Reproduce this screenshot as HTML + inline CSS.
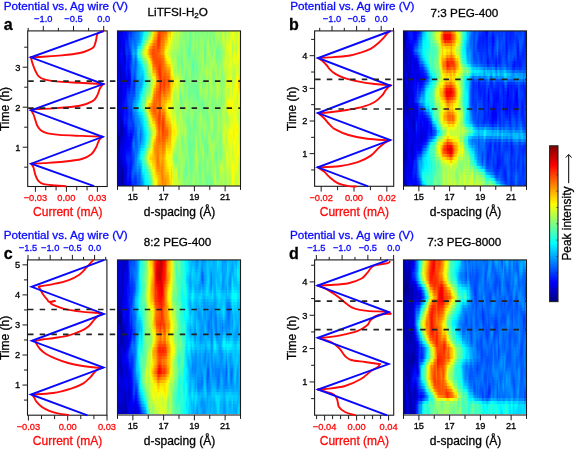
<!DOCTYPE html>
<html><head><meta charset="utf-8"><style>
html,body{margin:0;padding:0;background:#fff;}
#fig{position:relative;width:575px;height:449px;overflow:hidden;background:#fff;font-family:"Liberation Sans",sans-serif;}
.hm{position:absolute;overflow:hidden;}
.hm i{display:block;height:3px;}
svg{position:absolute;left:0;top:0;will-change:transform;}
text{font-family:"Liberation Sans",sans-serif;stroke-width:0.3px;}
</style></head><body><div id="fig">
<div class="hm" style="left:118px;top:31px;width:122px;height:155px"><i style="background:linear-gradient(90deg,#0000cf,#0000c8,#0000dc,#0000d6,#0000f1,#000aff,#0000fc,#0012ff,#0016ff,#0038ff,#002fff,#0039ff,#0058ff,#005bff,#006bff,#0074ff,#0082ff,#0083ff,#00afff,#00b6ff,#00d2ff,#03fffc,#26ffd9,#2cffd3,#3affc5,#78ff87,#76ff89,#a5ff5a,#fffd00,#ffd200,#ffba00,#ffb600,#ff6700,#ff3d00,#ff4d00,#ff5e00,#ff5500,#ff7000,#ff6100,#ff8000,#ffb700,#ffc300,#ffbb00,#fff200,#e3ff1c,#d5ff2a,#c5ff3a,#b6ff49,#c9ff36,#cbff34,#a1ff5e,#a0ff5f,#9aff65,#7bff84,#7cff83,#81ff7e,#a4ff5b,#84ff7b,#6aff95,#70ff8f,#8eff71,#a9ff56,#73ff8c,#75ff8a,#8aff75,#77ff88,#82ff7d,#93ff6c,#7fff80,#7fff80,#95ff6a,#82ff7d,#5effa1,#96ff69,#7fff80,#78ff87,#85ff7a,#76ff89,#a7ff58,#a2ff5d,#b6ff49,#a8ff57,#9dff62,#90ff6f,#c5ff3a,#bdff42,#96ff69,#a3ff5c,#c8ff37,#b3ff4c,#c8ff37,#d8ff27,#f1ff0e,#ffff00,#d0ff2f,#b9ff46,#caff35,#efff10,#dbff24)"></i><i style="background:linear-gradient(90deg,#0000d1,#0000d4,#0000ed,#0000eb,#0000f6,#000eff,#0003ff,#0013ff,#0010ff,#0052ff,#003cff,#0040ff,#0061ff,#005dff,#0075ff,#007cff,#0082ff,#0088ff,#00b0ff,#00bcff,#00e6ff,#10ffef,#33ffcc,#3effc1,#53ffac,#95ff6a,#99ff66,#c4ff3b,#ffed00,#ffc100,#ffa500,#ff9b00,#ff4f00,#ff2d00,#ff4600,#ff6600,#ff6400,#ff7800,#ff8000,#ff8e00,#ffc900,#ffe800,#ffd000,#f8ff07,#dbff24,#c5ff3a,#c6ff39,#b1ff4e,#bcff43,#c1ff3e,#93ff6c,#9aff65,#97ff68,#7eff81,#78ff87,#7fff80,#a8ff57,#7eff81,#63ff9c,#6bff94,#89ff76,#9fff60,#72ff8d,#7bff84,#82ff7d,#74ff8b,#8cff73,#98ff67,#83ff7c,#81ff7e,#93ff6c,#80ff7f,#74ff8b,#9cff63,#74ff8b,#88ff77,#8dff72,#69ff96,#93ff6c,#a3ff5c,#afff50,#a8ff57,#9dff62,#8fff70,#d0ff2f,#c8ff37,#9eff61,#abff54,#cdff32,#b6ff49,#d4ff2b,#dfff20,#e8ff17,#fbff04,#d1ff2e,#c4ff3b,#d2ff2d,#f0ff0f,#d2ff2d)"></i><i style="background:linear-gradient(90deg,#0000d2,#0000df,#0000f1,#0000fa,#0000f1,#0005ff,#0009ff,#0019ff,#000dff,#0061ff,#004aff,#004dff,#0070ff,#005fff,#0077ff,#007fff,#0084ff,#0091ff,#00b1ff,#00c8ff,#00fcff,#1effe1,#4cffb3,#5cffa3,#74ff8b,#b5ff4a,#c3ff3c,#ecff13,#ffd600,#ffaa00,#ff9200,#ff8400,#ff3c00,#ff2700,#ff4600,#ff6f00,#ff6d00,#ff7b00,#ff9a00,#ff9c00,#ffd000,#faff05,#ffeb00,#e6ff19,#d4ff2b,#b4ff4b,#c8ff37,#b3ff4c,#b3ff4c,#b6ff49,#88ff77,#93ff6c,#96ff69,#88ff77,#7aff85,#7fff80,#a3ff5c,#79ff86,#5effa1,#70ff8f,#88ff77,#9cff63,#73ff8c,#88ff77,#87ff78,#71ff8e,#94ff6b,#98ff67,#8cff73,#86ff79,#89ff76,#7eff81,#8aff75,#a2ff5d,#67ff98,#90ff6f,#95ff6a,#64ff9b,#88ff77,#a2ff5d,#a1ff5e,#a0ff5f,#9fff60,#91ff6e,#ceff31,#ccff33,#aaff55,#b7ff48,#d5ff2a,#beff41,#e1ff1e,#e5ff1a,#d9ff26,#f2ff0d,#d5ff2a,#ccff33,#dcff23,#f0ff0f,#cbff34)"></i><i style="background:linear-gradient(90deg,#0000d1,#0000e5,#0000e6,#0000ff,#0000ea,#0000f3,#0011ff,#0023ff,#000fff,#005eff,#0056ff,#005bff,#007eff,#0064ff,#0073ff,#0081ff,#008fff,#00a5ff,#00b9ff,#00dcff,#17ffe8,#36ffc9,#73ff8c,#88ff77,#9cff63,#dcff23,#f8ff07,#ffe300,#ffb200,#ff8c00,#ff7d00,#ff7000,#ff3100,#ff2a00,#ff4c00,#ff7900,#ff7400,#ff7e00,#ffae00,#ffb100,#ffd800,#eaff15,#fbff04,#d6ff29,#ccff33,#a7ff58,#c7ff38,#b5ff4a,#b0ff4f,#adff52,#85ff7a,#8dff72,#93ff6c,#94ff6b,#82ff7d,#7eff81,#97ff68,#72ff8d,#5affa5,#7aff85,#8cff73,#9fff60,#77ff88,#95ff6a,#92ff6d,#70ff8f,#99ff66,#97ff68,#95ff6a,#88ff77,#7cff83,#80ff7f,#9eff61,#a6ff59,#64ff9b,#8eff71,#99ff66,#69ff96,#89ff76,#9fff60,#92ff6d,#93ff6c,#9cff63,#93ff6c,#c3ff3c,#cbff34,#b6ff49,#c4ff3b,#deff21,#c9ff36,#efff10,#eaff15,#c4ff3b,#e2ff1d,#d7ff28,#c9ff36,#e4ff1b,#f0ff0f,#c7ff38)"></i><i style="background:linear-gradient(90deg,#0000cd,#0000e6,#0000d9,#0001ff,#0000e6,#0000e2,#0019ff,#002dff,#0016ff,#004dff,#005cff,#0068ff,#008bff,#006eff,#0070ff,#0086ff,#00acff,#00c5ff,#00d1ff,#00feff,#3effc1,#60ff9f,#a1ff5e,#bcff43,#cdff32,#fff200,#ffcb00,#ffb200,#ff8600,#ff6b00,#ff6b00,#ff6100,#ff3000,#ff3200,#ff5700,#ff8200,#ff7d00,#ff8700,#ffc100,#ffcb00,#ffe600,#e1ff1e,#eaff15,#cbff34,#c4ff3b,#a3ff5c,#c0ff3f,#b3ff4c,#aeff51,#a9ff56,#86ff79,#87ff78,#8bff74,#9bff64,#8dff72,#7cff83,#88ff77,#67ff98,#56ffa9,#84ff7b,#93ff6c,#9fff60,#77ff88,#99ff66,#9aff65,#6eff91,#9cff63,#92ff6d,#99ff66,#85ff7a,#6eff91,#82ff7d,#b1ff4e,#a8ff57,#6cff93,#89ff76,#95ff6a,#79ff86,#91ff6e,#94ff6b,#84ff7b,#84ff7b,#91ff6e,#94ff6b,#b1ff4e,#c5ff3a,#b9ff46,#cfff30,#e2ff1d,#d5ff2a,#fbff04,#ecff13,#b1ff4e,#d0ff2f,#daff25,#baff45,#e4ff1b,#f1ff0e,#c8ff37)"></i><i style="background:linear-gradient(90deg,#0000cb,#0000e4,#0000d6,#0003ff,#0000e5,#0000d5,#001cff,#0033ff,#0021ff,#0037ff,#0057ff,#0071ff,#0097ff,#0082ff,#0076ff,#0094ff,#00dbff,#00f0ff,#00fdff,#2dffd2,#6dff92,#96ff69,#ccff33,#ebff14,#ffff00,#ffc200,#ff9600,#ff8900,#ff5f00,#ff5400,#ff5f00,#ff5800,#ff3a00,#ff4000,#ff6300,#ff8a00,#ff8700,#ff9200,#ffd500,#ffe700,#fffb00,#d9ff26,#dfff20,#c1ff3e,#bbff44,#a2ff5d,#b3ff4c,#aaff55,#a5ff5a,#a5ff5a,#85ff7a,#82ff7d,#80ff7f,#9aff65,#94ff6b,#78ff87,#7cff83,#5affa5,#55ffaa,#8aff75,#97ff68,#98ff67,#72ff8d,#93ff6c,#97ff68,#6dff92,#9aff65,#89ff76,#9bff64,#7eff81,#60ff9f,#84ff7b,#bdff42,#a8ff57,#7dff82,#85ff7a,#88ff77,#8eff71,#9cff63,#84ff7b,#77ff88,#78ff87,#81ff7e,#93ff6c,#9eff61,#bbff44,#b1ff4e,#d5ff2a,#dfff20,#dcff23,#fffe00,#eaff15,#a5ff5a,#c6ff39,#e2ff1d,#aeff51,#e1ff1e,#f4ff0b,#d1ff2e)"></i><i style="background:linear-gradient(90deg,#0000ce,#0000e7,#0000e4,#0007ff,#0000e6,#0000cf,#001bff,#0038ff,#002cff,#0026ff,#004aff,#0076ff,#00a7ff,#009dff,#0086ff,#00a8ff,#0ffff0,#1dffe2,#31ffce,#5effa1,#9aff65,#c6ff39,#e8ff17,#fff500,#ffd900,#ffa400,#ff7500,#ff6e00,#ff4700,#ff4a00,#ff5900,#ff5700,#ff4c00,#ff5200,#ff7100,#ff9000,#ff9200,#ffa000,#ffeb00,#fbff04,#eeff11,#ceff31,#d3ff2c,#b3ff4c,#acff53,#a0ff5f,#a2ff5d,#9dff62,#93ff6c,#a1ff5e,#82ff7d,#7eff81,#7cff83,#99ff66,#98ff67,#75ff8a,#75ff8a,#51ffae,#5affa5,#8cff73,#95ff6a,#8eff71,#6bff94,#8aff75,#8dff72,#71ff8e,#99ff66,#7fff80,#a2ff5d,#7bff84,#55ffaa,#85ff7a,#bfff40,#a8ff57,#8eff71,#87ff78,#7aff85,#a2ff5d,#a5ff5a,#72ff8d,#6eff91,#70ff8f,#75ff8a,#92ff6d,#91ff6e,#aeff51,#a6ff59,#d8ff27,#d6ff29,#dbff24,#fcff03,#e5ff1a,#a8ff57,#cbff34,#f2ff0d,#b2ff4d,#e0ff1f,#f9ff06,#dfff20)"></i><i style="background:linear-gradient(90deg,#0000d8,#0000ee,#0000f7,#000bff,#0000e7,#0000d0,#0013ff,#0038ff,#002eff,#001cff,#0039ff,#006fff,#00b0ff,#00b2ff,#008fff,#00b2ff,#27ffd8,#35ffca,#50ffaf,#79ff86,#b2ff4d,#dbff24,#edff12,#fff100,#ffca00,#ffa100,#ff7300,#ff6600,#ff3e00,#ff4900,#ff5400,#ff5800,#ff5e00,#ff6300,#ff7900,#ff9100,#ff9700,#ffab00,#fff700,#ebff14,#e1ff1e,#c8ff37,#cbff34,#a2ff5d,#9cff63,#9cff63,#97ff68,#93ff6c,#7dff82,#9bff64,#7fff80,#79ff86,#80ff7f,#9aff65,#9aff65,#75ff8a,#77ff88,#50ffaf,#64ff9b,#87ff78,#8cff73,#85ff7a,#67ff98,#85ff7a,#86ff79,#7bff84,#9cff63,#7cff83,#adff52,#7dff82,#51ffae,#87ff78,#b5ff4a,#a5ff5a,#99ff66,#8fff70,#75ff8a,#aeff51,#a9ff56,#68ff97,#6eff91,#6dff92,#72ff8d,#91ff6e,#8eff71,#a7ff58,#a4ff5b,#dcff23,#ceff31,#d5ff2a,#f1ff0e,#e2ff1d,#b5ff4a,#ddff22,#fffa00,#c5ff3a,#e3ff1c,#fcff03,#f1ff0e)"></i><i style="background:linear-gradient(90deg,#0000dd,#0000ed,#0000f9,#0006ff,#0000e4,#0000ce,#0000fd,#002cff,#001fff,#0011ff,#0026ff,#0057ff,#009eff,#00a7ff,#0076ff,#009bff,#06fff9,#1affe5,#35ffca,#5affa5,#93ff6c,#bbff44,#c1ff3e,#e2ff1d,#ffe900,#ffcb00,#ff9700,#ff7b00,#ff4900,#ff4f00,#ff4e00,#ff4e00,#ff5c00,#ff5c00,#ff6500,#ff7900,#ff7d00,#ff9800,#ffde00,#ffff00,#f0ff0f,#daff25,#d9ff26,#a5ff5a,#9dff62,#a4ff5b,#9eff61,#93ff6c,#70ff8f,#96ff69,#80ff7f,#71ff8e,#82ff7d,#9aff65,#9dff62,#7cff83,#7eff81,#58ffa7,#70ff8f,#7dff82,#7cff83,#7eff81,#67ff98,#82ff7d,#85ff7a,#86ff79,#9eff61,#81ff7e,#b7ff48,#80ff7f,#52ffad,#8bff74,#a4ff5b,#9fff60,#9cff63,#9bff64,#7fff80,#b2ff4d,#a8ff57,#69ff96,#76ff89,#6dff92,#76ff89,#90ff6f,#95ff6a,#abff54,#adff52,#dfff20,#c9ff36,#cdff32,#e6ff19,#e1ff1e,#c4ff3b,#f1ff0e,#fff100,#d9ff26,#e6ff19,#fcff03,#fffd00)"></i><i style="background:linear-gradient(90deg,#0000e1,#0000e7,#0000ee,#0002ff,#0000e9,#0000d3,#0000ef,#0023ff,#0012ff,#0012ff,#0025ff,#004cff,#008bff,#0097ff,#005dff,#0086ff,#00d9ff,#00f4ff,#0afff5,#2fffd0,#68ff97,#93ff6c,#8fff70,#b0ff4f,#efff10,#fffa00,#ffc400,#ff9a00,#ff5a00,#ff5500,#ff4b00,#ff4700,#ff5600,#ff5100,#ff5400,#ff6b00,#ff6b00,#ff8800,#ffc300,#ffe400,#fffc00,#eeff11,#eeff11,#b2ff4d,#a8ff57,#afff50,#aaff55,#99ff66,#6cff93,#8dff72,#85ff7a,#65ff9a,#7cff83,#92ff6d,#9eff61,#88ff77,#87ff78,#66ff99,#7dff82,#74ff8b,#69ff96,#75ff8a,#6aff95,#7cff83,#85ff7a,#8cff73,#98ff67,#89ff76,#b7ff48,#82ff7d,#56ffa9,#8fff70,#93ff6c,#96ff69,#9dff62,#a8ff57,#93ff6c,#afff50,#a3ff5c,#76ff89,#82ff7d,#71ff8e,#82ff7d,#8eff71,#9cff63,#b7ff48,#bdff42,#daff25,#caff35,#ccff33,#e1ff1e,#e4ff1b,#ceff31,#f8ff07,#fffb00,#e3ff1c,#e5ff1a,#f6ff09,#fff600)"></i><i style="background:linear-gradient(90deg,#0000e2,#0000df,#0000dc,#0000fa,#0000ed,#0000dd,#0000f0,#001fff,#0009ff,#0019ff,#002fff,#0051ff,#007dff,#0086ff,#0052ff,#007dff,#00b8ff,#00d5ff,#00e4ff,#07fff8,#3cffc3,#6cff93,#66ff99,#83ff7c,#cbff34,#ddff22,#fff300,#ffbc00,#ff7000,#ff5c00,#ff5200,#ff4600,#ff4f00,#ff4300,#ff4800,#ff6200,#ff6300,#ff7d00,#ffa800,#ffc700,#ffe700,#fff600,#fff500,#c8ff37,#bbff44,#b6ff49,#b0ff4f,#a2ff5d,#71ff8e,#80ff7f,#90ff6f,#60ff9f,#70ff8f,#8cff73,#9cff63,#8fff70,#8cff73,#75ff8a,#88ff77,#71ff8e,#58ffa7,#69ff96,#70ff8f,#70ff8f,#81ff7e,#8eff71,#8bff74,#8eff71,#b1ff4e,#84ff7b,#60ff9f,#96ff69,#8dff72,#8eff71,#a0ff5f,#aeff51,#a4ff5b,#a9ff56,#a1ff5e,#8aff75,#8bff74,#79ff86,#92ff6d,#8cff73,#9cff63,#c4ff3b,#cbff34,#ccff33,#cfff30,#d3ff2c,#e3ff1c,#e7ff18,#d0ff2f,#f1ff0e,#e9ff16,#e2ff1d,#dfff20,#eaff15,#fff700)"></i><i style="background:linear-gradient(90deg,#0000e3,#0000d8,#0000ca,#0000f1,#0000ec,#0000e8,#0000fd,#001fff,#0000ff,#001aff,#0036ff,#005cff,#0076ff,#0075ff,#0056ff,#007eff,#00a8ff,#00c3ff,#00ceff,#00edff,#15ffea,#49ffb6,#4cffb3,#67ff98,#b1ff4e,#c6ff39,#e3ff1c,#ffe000,#ff8500,#ff6900,#ff6500,#ff4e00,#ff4b00,#ff3600,#ff3e00,#ff5b00,#ff6500,#ff7500,#ff9200,#ffaa00,#ffcc00,#ffd400,#ffd900,#dfff20,#d0ff2f,#b5ff4a,#a9ff56,#a8ff57,#7bff84,#77ff88,#9eff61,#66ff99,#69ff96,#90ff6f,#98ff67,#8cff73,#8cff73,#81ff7e,#90ff6f,#72ff8d,#50ffaf,#5fffa0,#79ff86,#65ff9a,#79ff86,#91ff6e,#81ff7e,#90ff6f,#abff54,#8bff74,#72ff8d,#a2ff5d,#93ff6c,#8eff71,#a7ff58,#aaff55,#a9ff56,#a1ff5e,#a1ff5e,#9eff61,#89ff76,#83ff7c,#a4ff5b,#91ff6e,#93ff6c,#cbff34,#d3ff2c,#bdff42,#d4ff2b,#dcff23,#e5ff1a,#e6ff19,#ccff33,#e2ff1d,#cbff34,#dfff20,#d6ff29,#dcff23,#fffc00)"></i><i style="background:linear-gradient(90deg,#0000e7,#0000d8,#0000c0,#0000e9,#0000e5,#0000ed,#0009ff,#001eff,#0000f6,#0011ff,#0034ff,#0063ff,#0075ff,#0064ff,#005fff,#0083ff,#00a8ff,#00bbff,#00c8ff,#00dfff,#00f2ff,#29ffd6,#41ffbe,#5cffa3,#9dff62,#bdff42,#c6ff39,#fcff03,#ff9c00,#ff7e00,#ff8100,#ff5c00,#ff4e00,#ff2d00,#ff3500,#ff5500,#ff6d00,#ff6f00,#ff7f00,#ff9200,#ffb000,#ffae00,#ffc300,#f1ff0e,#e0ff1f,#afff50,#9cff63,#a9ff56,#87ff78,#76ff89,#aaff55,#72ff8d,#6aff95,#9cff63,#92ff6d,#7fff80,#8aff75,#8aff75,#95ff6a,#6fff90,#54ffab,#5affa5,#83ff7c,#65ff9a,#74ff8b,#8fff70,#82ff7d,#90ff6f,#a5ff5a,#94ff6b,#89ff76,#b0ff4f,#9fff60,#95ff6a,#b2ff4d,#a3ff5c,#9fff60,#96ff69,#a0ff5f,#abff54,#82ff7d,#8aff75,#b2ff4d,#9bff64,#89ff76,#c9ff36,#cdff32,#b3ff4c,#d6ff29,#e0ff1f,#e0ff1f,#dfff20,#c6ff39,#d0ff2f,#b7ff48,#e0ff1f,#d2ff2d,#d0ff2f,#ffff00)"></i><i style="background:linear-gradient(90deg,#0000ee,#0000df,#0000bc,#0000e3,#0000dc,#0000e7,#0004ff,#001aff,#0000f0,#0001ff,#0029ff,#0064ff,#0077ff,#0054ff,#0065ff,#0089ff,#00b0ff,#00b7ff,#00ccff,#00d6ff,#00d5ff,#0cfff3,#3cffc3,#58ffa7,#89ff76,#b8ff47,#b0ff4f,#e0ff1f,#ffb700,#ffa100,#ff9e00,#ff6b00,#ff5800,#ff2a00,#ff2c00,#ff5400,#ff7400,#ff6700,#ff6f00,#ff7f00,#ff9500,#ff8f00,#ffb600,#feff01,#edff12,#b1ff4e,#95ff6a,#aaff55,#99ff66,#83ff7c,#aeff51,#7fff80,#72ff8d,#a5ff5a,#88ff77,#71ff8e,#8aff75,#8fff70,#98ff67,#6bff94,#5effa1,#5cffa3,#89ff76,#6eff91,#73ff8c,#87ff78,#8bff74,#93ff6c,#9bff64,#98ff67,#97ff68,#b8ff47,#a7ff58,#9cff63,#beff41,#9fff60,#90ff6f,#88ff77,#9aff65,#b3ff4c,#7eff81,#8fff70,#b6ff49,#a1ff5e,#82ff7d,#c1ff3e,#b9ff46,#b3ff4c,#d8ff27,#ddff22,#d9ff26,#d9ff26,#bdff42,#c1ff3e,#aeff51,#e5ff1a,#d8ff27,#d1ff2e,#fffe00)"></i><i style="background:linear-gradient(90deg,#0000f6,#0000ea,#0000bb,#0000df,#0000d8,#0000d9,#0000ef,#0012ff,#0000ef,#0000ee,#0019ff,#0060ff,#0075ff,#0045ff,#0064ff,#008dff,#00b8ff,#00b5ff,#00ceff,#00ccff,#00bfff,#00f6ff,#33ffcc,#4fffb0,#74ff8b,#acff53,#9dff62,#caff35,#ffde00,#ffcf00,#ffbe00,#ff7c00,#ff6900,#ff3200,#ff2300,#ff5300,#ff7200,#ff5900,#ff6100,#ff7200,#ff7e00,#ff7800,#ffaf00,#fff400,#fdff02,#c6ff39,#9cff63,#b5ff4a,#b4ff4b,#98ff67,#adff52,#8cff73,#7eff81,#a4ff5b,#7aff85,#68ff97,#89ff76,#8dff72,#9aff65,#69ff96,#6bff94,#62ff9d,#89ff76,#79ff86,#78ff87,#81ff7e,#95ff6a,#9bff64,#8eff71,#93ff6c,#95ff6a,#b4ff4b,#a8ff57,#9cff63,#c5ff3a,#a4ff5b,#85ff7a,#79ff86,#92ff6d,#b8ff47,#86ff79,#93ff6c,#b1ff4e,#9bff64,#80ff7f,#b2ff4d,#a0ff5f,#baff45,#ddff22,#daff25,#daff25,#ddff22,#b6ff49,#b5ff4a,#aeff51,#ecff13,#e7ff18,#e0ff1f,#fff400)"></i><i style="background:linear-gradient(90deg,#0000fc,#0000f6,#0000bc,#0000da,#0000de,#0000d3,#0000d9,#0008ff,#0000f3,#0000e1,#000dff,#005aff,#006bff,#0034ff,#005cff,#008aff,#00b3ff,#00aeff,#00c3ff,#00bbff,#00b5ff,#00eaff,#24ffdb,#41ffbe,#61ff9e,#98ff67,#8cff73,#b8ff47,#f3ff0c,#ffff00,#ffdf00,#ff9000,#ff8100,#ff4600,#ff2000,#ff5100,#ff6800,#ff4700,#ff5500,#ff6900,#ff6800,#ff6300,#ffa800,#ffe600,#ffe600,#e8ff17,#aeff51,#ccff33,#d3ff2c,#aeff51,#adff52,#9dff62,#8eff71,#9cff63,#6fff90,#66ff99,#88ff77,#85ff7a,#97ff68,#6bff94,#76ff89,#69ff96,#83ff7c,#7cff83,#7eff81,#83ff7c,#9cff63,#a3ff5c,#83ff7c,#87ff78,#87ff78,#a9ff56,#a1ff5e,#92ff6d,#c4ff3b,#abff54,#85ff7a,#6fff90,#8cff73,#b8ff47,#99ff66,#9cff63,#a6ff59,#8fff70,#81ff7e,#9fff60,#92ff6d,#c4ff3b,#e4ff1b,#daff25,#e6ff19,#ebff14,#b5ff4a,#b3ff4c,#b7ff48,#f4ff0b,#f9ff06,#faff05,#ffe300)"></i><i style="background:linear-gradient(90deg,#0000ff,#0000fe,#0000bc,#0000d6,#0000e8,#0000da,#0000ce,#0000fe,#0000f8,#0000dc,#0009ff,#0051ff,#0058ff,#0023ff,#0054ff,#0083ff,#00a2ff,#00a0ff,#00abff,#00a8ff,#00b6ff,#00e7ff,#13ffec,#2fffd0,#4fffb0,#7dff82,#7bff84,#a6ff59,#c7ff38,#daff25,#fffd00,#ffa800,#ff9c00,#ff6700,#ff2800,#ff5100,#ff5d00,#ff3600,#ff4b00,#ff5f00,#ff5400,#ff4c00,#ff9a00,#ffd100,#ffc400,#fff100,#c6ff39,#e8ff17,#edff12,#bfff40,#b1ff4e,#b2ff4d,#9fff60,#93ff6c,#6cff93,#6dff92,#89ff76,#7cff83,#90ff6f,#6eff91,#7aff85,#70ff8f,#7bff84,#77ff88,#7fff80,#86ff79,#a1ff5e,#a5ff5a,#7bff84,#7cff83,#7cff83,#a1ff5e,#9bff64,#85ff7a,#bcff43,#b1ff4e,#8eff71,#6fff90,#89ff76,#b2ff4d,#b2ff4d,#abff54,#9cff63,#85ff7a,#85ff7a,#91ff6e,#94ff6b,#cdff32,#e8ff17,#dbff24,#f2ff0d,#faff05,#b9ff46,#bcff43,#c8ff37,#fbff04,#fffa00,#ffe900,#ffcf00)"></i><i style="background:linear-gradient(90deg,#0000ff,#0002ff,#0000c2,#0000d8,#0000f5,#0000ee,#0000d5,#0000ff,#0007ff,#0000e6,#0013ff,#004aff,#004aff,#001dff,#0056ff,#0086ff,#0097ff,#0099ff,#00a0ff,#00a5ff,#00cbff,#00fbff,#1affe5,#35ffca,#55ffaa,#79ff86,#87ff78,#b6ff49,#c9ff36,#f1ff0e,#ffe700,#ff9a00,#ff9200,#ff6c00,#ff2400,#ff4b00,#ff5800,#ff2d00,#ff5300,#ff6400,#ff5b00,#ff5100,#ffa300,#ffd400,#ffc700,#fff400,#c5ff3a,#e6ff19,#ecff13,#b9ff46,#a6ff59,#b8ff47,#a6ff59,#87ff78,#6eff91,#78ff87,#8aff75,#72ff8d,#85ff7a,#6eff91,#76ff89,#71ff8e,#75ff8a,#6fff90,#78ff87,#85ff7a,#a7ff58,#a2ff5d,#79ff86,#7cff83,#7dff82,#a1ff5e,#9aff65,#7bff84,#b2ff4d,#b6ff49,#99ff66,#78ff87,#88ff77,#a9ff56,#c7ff38,#b9ff46,#98ff67,#84ff7b,#8dff72,#8dff72,#a0ff5f,#d1ff2e,#e4ff1b,#d3ff2c,#f2ff0d,#fffe00,#bdff42,#ceff31,#dbff24,#fffe00,#fff900,#ffd800,#ffc000)"></i><i style="background:linear-gradient(90deg,#0000f9,#0000fc,#0000c8,#0000d7,#0000fb,#0000fc,#0000e3,#0006ff,#0016ff,#0000f7,#0023ff,#0043ff,#003fff,#001fff,#005fff,#0090ff,#0090ff,#009aff,#00a7ff,#00b0ff,#00e3ff,#13ffec,#28ffd7,#45ffba,#5fffa0,#79ff86,#93ff6c,#c7ff38,#dbff24,#ffe100,#ffc400,#ff8600,#ff7d00,#ff6600,#ff2300,#ff4e00,#ff5d00,#ff2d00,#ff6200,#ff6a00,#ff6a00,#ff6200,#ffab00,#ffd700,#ffdc00,#f3ff0c,#bfff40,#d7ff28,#e6ff19,#b1ff4e,#94ff6b,#b4ff4b,#adff52,#80ff7f,#75ff8a,#88ff77,#8bff74,#66ff99,#7aff85,#6bff94,#6fff90,#6eff91,#72ff8d,#6cff93,#69ff96,#81ff7e,#afff50,#9eff61,#81ff7e,#88ff77,#87ff78,#a7ff58,#9cff63,#75ff8a,#abff54,#b9ff46,#9fff60,#84ff7b,#86ff79,#a5ff5a,#d3ff2c,#bcff43,#99ff66,#89ff76,#95ff6a,#92ff6d,#abff54,#d1ff2e,#d7ff28,#c2ff3d,#e6ff19,#faff05,#c0ff3f,#e3ff1c,#ebff14,#ffff00,#fbff04,#ffd600,#ffc100)"></i><i style="background:linear-gradient(90deg,#0000ee,#0000f1,#0000cd,#0000d3,#0000fb,#0000fd,#0000ef,#000eff,#0027ff,#000bff,#0034ff,#0043ff,#003cff,#0029ff,#0068ff,#0099ff,#008fff,#00a3ff,#00bcff,#00c8ff,#00fcff,#28ffd7,#33ffcc,#58ffa7,#6fff90,#7dff82,#96ff69,#d3ff2c,#f3ff0c,#ffb200,#ffa500,#ff7400,#ff6800,#ff5800,#ff2800,#ff5d00,#ff6a00,#ff3700,#ff6e00,#ff7200,#ff7c00,#ff7900,#ffaf00,#ffd800,#fffa00,#d4ff2b,#b7ff48,#c6ff39,#e1ff1e,#b1ff4e,#7dff82,#a4ff5b,#b0ff4f,#7eff81,#7bff84,#93ff6c,#87ff78,#5bffa4,#75ff8a,#6aff95,#6cff93,#6cff93,#71ff8e,#6cff93,#5affa5,#7dff82,#b2ff4d,#9cff63,#8dff72,#98ff67,#92ff6d,#aaff55,#9fff60,#72ff8d,#a7ff58,#b9ff46,#9dff62,#8dff72,#84ff7b,#a9ff56,#d5ff2a,#b1ff4e,#9bff64,#8cff73,#97ff68,#9bff64,#b2ff4d,#cfff30,#c8ff37,#b1ff4e,#d8ff27,#edff12,#c2ff3d,#f4ff0b,#f6ff09,#f6ff09,#e5ff1a,#ffe300,#ffd200)"></i><i style="background:linear-gradient(90deg,#0000e1,#0000e6,#0000d2,#0000cf,#0000fa,#0000f7,#0000f8,#0015ff,#0038ff,#0021ff,#0043ff,#0047ff,#003fff,#003aff,#006fff,#009fff,#0092ff,#00adff,#00d5ff,#00e6ff,#17ffe8,#39ffc6,#3affc5,#6eff91,#88ff77,#8bff74,#99ff66,#e0ff1f,#ffef00,#ff8b00,#ff8f00,#ff6600,#ff5c00,#ff4900,#ff3400,#ff7400,#ff7b00,#ff4c00,#ff7700,#ff7d00,#ff9100,#ff9300,#ffb400,#ffdf00,#e9ff16,#b7ff48,#b1ff4e,#b9ff46,#deff21,#b7ff48,#68ff97,#8bff74,#aeff51,#7dff82,#7cff83,#95ff6a,#81ff7e,#57ffa8,#76ff89,#6fff90,#6eff91,#6dff92,#6eff91,#6bff94,#4fffb0,#7bff84,#a9ff56,#98ff67,#93ff6c,#a1ff5e,#99ff66,#a6ff59,#9eff61,#73ff8c,#a3ff5c,#b2ff4d,#92ff6d,#91ff6e,#83ff7c,#acff53,#cfff30,#a0ff5f,#9dff62,#89ff76,#95ff6a,#a0ff5f,#b1ff4e,#ceff31,#c0ff3f,#afff50,#d6ff29,#e2ff1d,#c6ff39,#fdff02,#fcff03,#edff12,#caff35,#fff800,#ffeb00)"></i><i style="background:linear-gradient(90deg,#0000d8,#0000e0,#0000d5,#0000ce,#0000fd,#0000f4,#0003ff,#001cff,#0043ff,#0037ff,#004eff,#004bff,#0049ff,#0052ff,#0077ff,#00a2ff,#009bff,#00b8ff,#00e8ff,#06fff9,#33ffcc,#48ffb7,#42ffbd,#85ff7a,#a8ff57,#a7ff58,#a7ff58,#f4ff0b,#ffd000,#ff7100,#ff8200,#ff5c00,#ff5e00,#ff4600,#ff4200,#ff8a00,#ff9000,#ff6b00,#ff8300,#ff8c00,#ffaa00,#ffaa00,#ffbe00,#ffef00,#d8ff27,#a6ff59,#b0ff4f,#b2ff4d,#d9ff26,#bbff44,#5dffa2,#70ff8f,#a5ff5a,#80ff7f,#7bff84,#92ff6d,#80ff7f,#5effa1,#7aff85,#7aff85,#75ff8a,#71ff8e,#6cff93,#6cff93,#4fffb0,#79ff86,#96ff69,#8eff71,#8aff75,#9eff61,#9bff64,#9eff61,#98ff67,#79ff86,#9eff61,#a6ff59,#85ff7a,#92ff6d,#84ff7b,#a7ff58,#c3ff3c,#91ff6e,#9dff62,#82ff7d,#90ff6f,#9aff65,#adff52,#d0ff2f,#c5ff3a,#c1ff3e,#e2ff1d,#dfff20,#d0ff2f,#f9ff06,#f9ff06,#e7ff18,#b6ff49,#f7ff08,#fbff04)"></i><i style="background:linear-gradient(90deg,#0000d4,#0000dd,#0000d6,#0000ce,#0003ff,#0000f9,#000fff,#0020ff,#0046ff,#0047ff,#0054ff,#004bff,#0059ff,#0071ff,#0084ff,#00a7ff,#00acff,#00c9ff,#00f8ff,#21ffde,#4effb1,#57ffa8,#50ffaf,#a1ff5e,#caff35,#d2ff2d,#caff35,#ffea00,#ffaf00,#ff6500,#ff7a00,#ff5b00,#ff6900,#ff4d00,#ff4f00,#ff9900,#ffa100,#ff8b00,#ff9600,#ffa200,#ffc600,#ffc000,#ffcc00,#faff05,#d0ff2f,#a2ff5d,#b4ff4b,#aeff51,#cdff32,#b9ff46,#60ff9f,#5cffa3,#99ff66,#88ff77,#7fff80,#93ff6c,#8aff75,#6eff91,#7fff80,#89ff76,#7cff83,#77ff88,#6cff93,#71ff8e,#59ffa6,#76ff89,#82ff7d,#81ff7e,#77ff88,#91ff6e,#9aff65,#93ff6c,#91ff6e,#83ff7c,#99ff66,#9dff62,#7aff85,#93ff6c,#85ff7a,#98ff67,#b5ff4a,#86ff79,#9bff64,#79ff86,#8cff73,#8eff71,#a8ff57,#d6ff29,#d2ff2d,#e0ff1f,#f3ff0c,#e4ff1b,#e1ff1e,#edff12,#eeff11,#e4ff1b,#b1ff4e,#f4ff0b,#f0ff0f)"></i><i style="background:linear-gradient(90deg,#0000d6,#0000d9,#0000d8,#0000d3,#0008ff,#0004ff,#0018ff,#001fff,#0041ff,#004fff,#0055ff,#0049ff,#006eff,#008eff,#0093ff,#00b1ff,#00c3ff,#00e3ff,#07fff8,#36ffc9,#63ff9c,#66ff99,#68ff97,#bdff42,#ebff14,#fff800,#fffe00,#ffc300,#ff9200,#ff5f00,#ff7200,#ff6200,#ff7600,#ff5800,#ff5500,#ffa200,#ffab00,#ffa100,#ffae00,#ffbd00,#ffe200,#ffd800,#ffe100,#e8ff17,#ceff31,#a7ff58,#baff45,#aaff55,#bbff44,#aeff51,#71ff8e,#58ffa7,#8dff72,#92ff6d,#8eff71,#9bff64,#9aff65,#7cff83,#81ff7e,#93ff6c,#80ff7f,#7eff81,#73ff8c,#7cff83,#6aff95,#76ff89,#75ff8a,#79ff86,#66ff99,#7dff82,#99ff66,#8aff75,#8aff75,#91ff6e,#95ff6a,#99ff66,#73ff8c,#93ff6c,#85ff7a,#8aff75,#a8ff57,#7dff82,#99ff66,#72ff8d,#8dff72,#89ff76,#a9ff56,#dcff23,#e0ff1f,#fcff03,#ffff00,#eaff15,#f2ff0d,#dfff20,#e1ff1e,#e1ff1e,#bbff44,#f8ff07,#f6ff09)"></i><i style="background:linear-gradient(90deg,#0000da,#0000d5,#0000dd,#0000dc,#000aff,#000eff,#001bff,#0019ff,#0039ff,#0050ff,#0051ff,#0048ff,#0083ff,#00a2ff,#00a0ff,#00beff,#00dbff,#01fffe,#15ffea,#42ffbd,#6dff92,#77ff88,#87ff78,#d2ff2d,#fff800,#ffc800,#ffc300,#ff9800,#ff7800,#ff5900,#ff6800,#ff6d00,#ff8200,#ff6100,#ff5800,#ffab00,#ffae00,#ffac00,#ffc400,#ffd700,#fffc00,#fff300,#fffc00,#deff21,#cbff34,#abff54,#baff45,#a4ff5b,#a9ff56,#a1ff5e,#8aff75,#64ff9b,#81ff7e,#9bff64,#9fff60,#a5ff5a,#a6ff59,#81ff7e,#82ff7d,#97ff68,#82ff7d,#84ff7b,#7dff82,#86ff79,#7aff85,#78ff87,#74ff8b,#79ff86,#60ff9f,#6dff92,#99ff66,#84ff7b,#86ff79,#9fff60,#93ff6c,#98ff67,#70ff8f,#92ff6d,#85ff7a,#81ff7e,#9eff61,#79ff86,#97ff68,#73ff8c,#98ff67,#93ff6c,#aeff51,#dbff24,#e6ff19,#fff300,#fffc00,#ebff14,#feff01,#d9ff26,#dbff24,#dfff20,#ccff33,#f7ff08,#fffc00)"></i><i style="background:linear-gradient(90deg,#0000db,#0000d4,#0000e4,#0000e7,#0009ff,#0012ff,#0019ff,#0012ff,#0031ff,#004cff,#0047ff,#0044ff,#008eff,#00a5ff,#00a4ff,#00c5ff,#00e5ff,#0ffff0,#18ffe7,#3effc1,#66ff99,#7dff82,#9dff62,#d6ff29,#ffef00,#ffae00,#ff9900,#ff7800,#ff6700,#ff5200,#ff5c00,#ff7400,#ff8c00,#ff6100,#ff5900,#ffb300,#ffaa00,#ffab00,#ffcd00,#ffea00,#f0ff0f,#f6ff09,#e8ff17,#d9ff26,#c6ff39,#abff54,#b9ff46,#a0ff5f,#9dff62,#99ff66,#a2ff5d,#7aff85,#7aff85,#9cff63,#a9ff56,#a7ff58,#a7ff58,#7eff81,#84ff7b,#97ff68,#87ff78,#88ff77,#82ff7d,#88ff77,#83ff7c,#7bff84,#80ff7f,#82ff7d,#63ff9c,#64ff9b,#97ff68,#81ff7e,#80ff7f,#a8ff57,#95ff6a,#96ff69,#71ff8e,#90ff6f,#86ff79,#7fff80,#99ff66,#7dff82,#93ff6c,#79ff86,#a9ff56,#a8ff57,#b3ff4c,#ccff33,#dcff23,#fff400,#fffd00,#e8ff17,#ffff00,#daff25,#dfff20,#ddff22,#d8ff27,#e9ff16,#fff500)"></i><i style="background:linear-gradient(90deg,#0000d3,#0000d3,#0000df,#0000e8,#0000ff,#000bff,#0013ff,#0009ff,#0023ff,#0043ff,#0035ff,#0036ff,#0081ff,#008eff,#0094ff,#00aeff,#00ccff,#00f4ff,#00f8ff,#14ffeb,#35ffca,#5cffa3,#84ff7b,#afff50,#e9ff16,#ffc800,#ffa400,#ff7e00,#ff6b00,#ff5800,#ff5700,#ff7300,#ff8400,#ff4d00,#ff4700,#ffa200,#ff8a00,#ff8e00,#ffb300,#ffdf00,#fdff02,#fcff03,#e5ff1a,#e1ff1e,#c7ff38,#b4ff4b,#c0ff3f,#a2ff5d,#98ff67,#9aff65,#b5ff4a,#94ff6b,#7aff85,#96ff69,#a6ff59,#9bff64,#9dff62,#79ff86,#87ff78,#98ff67,#90ff6f,#88ff77,#7dff82,#80ff7f,#86ff79,#7fff80,#94ff6b,#8fff70,#6bff94,#64ff9b,#92ff6d,#7eff81,#75ff8a,#a6ff59,#99ff66,#95ff6a,#77ff88,#8cff73,#89ff76,#7eff81,#9cff63,#8aff75,#8cff73,#82ff7d,#b7ff48,#baff45,#b3ff4c,#b3ff4c,#c8ff37,#fbff04,#fbff04,#e3ff1c,#f5ff0a,#ddff22,#e9ff16,#dcff23,#d9ff26,#d5ff2a,#fff500)"></i><i style="background:linear-gradient(90deg,#0000d2,#0000d7,#0000d3,#0000e4,#0000f8,#0009ff,#0015ff,#0008ff,#001dff,#0041ff,#002bff,#002dff,#0071ff,#007aff,#0088ff,#0099ff,#00b0ff,#00d3ff,#00dbff,#00efff,#09fff6,#3cffc3,#63ff9c,#88ff77,#bcff43,#ffef00,#ffc400,#ff9900,#ff7900,#ff6800,#ff5b00,#ff6f00,#ff7500,#ff3c00,#ff4100,#ff9200,#ff6a00,#ff7600,#ff9d00,#ffd500,#ffef00,#fff500,#e9ff16,#e3ff1c,#c5ff3a,#c2ff3d,#caff35,#a2ff5d,#92ff6d,#9eff61,#beff41,#a9ff56,#83ff7c,#8eff71,#9bff64,#89ff76,#8eff71,#76ff89,#8bff74,#9dff62,#97ff68,#84ff7b,#71ff8e,#78ff87,#89ff76,#82ff7d,#a5ff5a,#9dff62,#74ff8b,#6cff93,#8aff75,#7bff84,#6aff95,#99ff66,#9cff63,#9aff65,#83ff7c,#88ff77,#8aff75,#7cff83,#a3ff5c,#9bff64,#82ff7d,#8aff75,#bbff44,#c2ff3d,#b0ff4f,#9dff62,#b5ff4a,#e4ff1b,#f0ff0f,#e0ff1f,#e5ff1a,#deff21,#f2ff0d,#daff25,#d4ff2b,#c4ff3b,#fffa00)"></i><i style="background:linear-gradient(90deg,#0000d7,#0000dc,#0000c7,#0000da,#0000f1,#0010ff,#001bff,#000dff,#0021ff,#0045ff,#002cff,#002bff,#0060ff,#006cff,#0081ff,#008dff,#009bff,#00b3ff,#00c7ff,#00daff,#00ebff,#22ffdd,#41ffbe,#65ff9a,#95ff6a,#e6ff19,#ffee00,#ffc200,#ff9000,#ff8300,#ff6c00,#ff6d00,#ff6400,#ff3100,#ff4400,#ff8000,#ff4c00,#ff6200,#ff8e00,#ffc900,#ffd800,#ffe300,#fbff04,#e5ff1a,#c7ff38,#d9ff26,#d6ff29,#a7ff58,#8fff70,#a3ff5c,#bdff42,#b4ff4b,#90ff6f,#8bff74,#91ff6e,#7bff84,#80ff7f,#72ff8d,#8bff74,#a2ff5d,#97ff68,#7cff83,#67ff98,#76ff89,#8dff72,#84ff7b,#abff54,#a7ff58,#80ff7f,#78ff87,#86ff79,#7bff84,#65ff9a,#89ff76,#99ff66,#a5ff5a,#94ff6b,#82ff7d,#86ff79,#7aff85,#a8ff57,#a8ff57,#7dff82,#93ff6c,#b5ff4a,#c0ff3f,#b0ff4f,#95ff6a,#acff53,#ccff33,#e1ff1e,#e2ff1d,#d9ff26,#deff21,#f9ff06,#dbff24,#d2ff2d,#baff45,#fffc00)"></i><i style="background:linear-gradient(90deg,#0000df,#0000e1,#0000c0,#0000c7,#0000ea,#001aff,#001eff,#0010ff,#002cff,#0049ff,#0033ff,#0033ff,#004eff,#0060ff,#007eff,#0088ff,#008fff,#009aff,#00b9ff,#00ceff,#00deff,#12ffed,#23ffdc,#49ffb6,#7eff81,#c3ff3c,#ecff13,#ffea00,#ffaf00,#ffa700,#ff8700,#ff7100,#ff5b00,#ff3000,#ff4f00,#ff6f00,#ff3700,#ff5300,#ff8600,#ffba00,#ffc100,#ffd100,#ffe700,#efff10,#cdff32,#f2ff0d,#e3ff1c,#b2ff4d,#94ff6b,#aaff55,#b5ff4a,#b5ff4a,#9cff63,#90ff6f,#8dff72,#76ff89,#76ff89,#6eff91,#85ff7a,#a3ff5c,#8fff70,#72ff8d,#64ff9b,#7bff84,#8fff70,#87ff78,#a6ff59,#aaff55,#8cff73,#87ff78,#89ff76,#7fff80,#6dff92,#7cff83,#91ff6e,#b3ff4c,#a5ff5a,#7cff83,#7eff81,#78ff87,#a5ff5a,#aeff51,#81ff7e,#9fff60,#aeff51,#bcff43,#b3ff4c,#9eff61,#adff52,#bdff42,#d2ff2d,#e7ff18,#d5ff2a,#e1ff1e,#ffff00,#e2ff1d,#d7ff28,#b9ff46,#fffc00)"></i><i style="background:linear-gradient(90deg,#0000e5,#0000e4,#0000bd,#0000aa,#0000e0,#001bff,#0017ff,#000dff,#0035ff,#0049ff,#003aff,#003eff,#0039ff,#0053ff,#0079ff,#0082ff,#008cff,#008fff,#00acff,#00c2ff,#00d5ff,#06fff9,#0efff1,#35ffca,#73ff8c,#a5ff5a,#cfff30,#f3ff0c,#ffd300,#ffce00,#ffa500,#ff7e00,#ff5e00,#ff3300,#ff5b00,#ff6300,#ff2e00,#ff4d00,#ff7f00,#ffa800,#ffaa00,#ffc000,#ffca00,#fffb00,#d8ff27,#fffc00,#edff12,#c4ff3b,#a0ff5f,#b5ff4a,#abff54,#b4ff4b,#a6ff59,#95ff6a,#91ff6e,#7eff81,#73ff8c,#6dff92,#79ff86,#9aff65,#87ff78,#6aff95,#66ff99,#81ff7e,#8dff72,#8cff73,#9cff63,#a4ff5b,#93ff6c,#95ff6a,#91ff6e,#86ff79,#7cff83,#76ff89,#88ff77,#bcff43,#b0ff4f,#77ff88,#78ff87,#79ff86,#9eff61,#aeff51,#8aff75,#a5ff5a,#abff54,#beff41,#baff45,#b1ff4e,#b4ff4b,#b9ff46,#cbff34,#eaff15,#dbff24,#eaff15,#fff800,#eeff11,#e6ff19,#c2ff3d,#fffe00)"></i><i style="background:linear-gradient(90deg,#0000e7,#0000e2,#0000b9,#00008f,#0000d3,#000bff,#0003ff,#0005ff,#0034ff,#0044ff,#0039ff,#0043ff,#0026ff,#0047ff,#006eff,#0078ff,#008eff,#0093ff,#009bff,#00b2ff,#00c9ff,#00faff,#00ffff,#29ffd6,#68ff97,#87ff78,#b3ff4c,#d8ff27,#fff900,#fff500,#ffc100,#ff9100,#ff6c00,#ff3800,#ff6600,#ff5e00,#ff2c00,#ff4d00,#ff7600,#ff8f00,#ff9400,#ffb400,#ffb400,#ffe300,#e5ff1a,#fff600,#f9ff06,#d6ff29,#acff53,#c1ff3e,#a4ff5b,#b4ff4b,#aeff51,#98ff67,#9fff60,#8eff71,#75ff8a,#71ff8e,#6cff93,#8cff73,#81ff7e,#67ff98,#6bff94,#81ff7e,#84ff7b,#91ff6e,#95ff6a,#99ff66,#91ff6e,#9dff62,#9aff65,#8bff74,#8bff74,#75ff8a,#83ff7c,#bdff42,#b0ff4f,#77ff88,#79ff86,#7cff83,#99ff66,#aeff51,#92ff6d,#a2ff5d,#abff54,#c7ff38,#c2ff3d,#c4ff3b,#beff41,#c2ff3d,#d2ff2d,#ecff13,#e4ff1b,#f8ff07,#fff400,#f8ff07,#fbff04,#d1ff2e,#f8ff07)"></i><i style="background:linear-gradient(90deg,#0000e4,#0000d7,#0000b5,#000083,#0000c9,#0000f2,#0000e9,#0000fb,#0029ff,#003bff,#002bff,#0039ff,#001aff,#0041ff,#005eff,#006cff,#0091ff,#009cff,#008aff,#00a0ff,#00bbff,#00edff,#00f5ff,#1dffe2,#54ffab,#67ff98,#95ff6a,#c2ff3d,#e3ff1c,#e5ff1a,#ffd900,#ffa600,#ff7f00,#ff3e00,#ff7300,#ff6100,#ff2c00,#ff5100,#ff6a00,#ff7300,#ff7f00,#ffab00,#ffa600,#ffd100,#f3ff0c,#fff000,#fff800,#e5ff1a,#b3ff4c,#caff35,#a0ff5f,#b4ff4b,#b1ff4e,#9aff65,#b4ff4b,#9bff64,#79ff86,#77ff88,#63ff9c,#80ff7f,#7fff80,#6aff95,#75ff8a,#7eff81,#7aff85,#93ff6c,#95ff6a,#8fff70,#85ff7a,#a1ff5e,#9fff60,#88ff77,#90ff6f,#7bff84,#84ff7b,#b5ff4a,#a5ff5a,#7aff85,#7eff81,#7dff82,#9bff64,#adff52,#93ff6c,#9bff64,#acff53,#d7ff28,#c8ff37,#ccff33,#c8ff37,#d5ff2a,#e5ff1a,#f0ff0f,#ebff14,#fff800,#fff500,#fcff03,#fff400,#deff21,#ebff14)"></i><i style="background:linear-gradient(90deg,#0000d6,#0000c2,#0000b4,#00008b,#0000c6,#0000de,#0000d7,#0000f6,#001bff,#002dff,#0014ff,#0020ff,#0017ff,#0042ff,#004eff,#0063ff,#0091ff,#009fff,#0077ff,#0090ff,#00adff,#00ddff,#00e9ff,#09fff6,#3affc5,#47ffb8,#77ff88,#aeff51,#cbff34,#ccff33,#fff100,#ffb400,#ff9300,#ff4c00,#ff8000,#ff6a00,#ff3000,#ff5500,#ff5e00,#ff5e00,#ff6b00,#ffa400,#ff9c00,#ffc800,#fffd00,#ffe400,#ffec00,#edff12,#b6ff49,#cfff30,#9fff60,#b0ff4f,#acff53,#9fff60,#c5ff3a,#9cff63,#79ff86,#7cff83,#63ff9c,#7cff83,#7eff81,#6cff93,#85ff7a,#7eff81,#77ff88,#8fff70,#9bff64,#8aff75,#75ff8a,#a1ff5e,#a0ff5f,#80ff7f,#8dff72,#8aff75,#89ff76,#a5ff5a,#92ff6d,#7dff82,#81ff7e,#7eff81,#a2ff5d,#aaff55,#8cff73,#93ff6c,#adff52,#e9ff16,#c6ff39,#c7ff38,#cfff30,#e7ff18,#fcff03,#faff05,#edff12,#ffef00,#fffb00,#f9ff06,#fff300,#e1ff1e,#dbff24)"></i><i style="background:linear-gradient(90deg,#0000c2,#0000a9,#0000b5,#0000a1,#0000cc,#0000d8,#0000d5,#0000f6,#000eff,#001cff,#0003ff,#000cff,#0021ff,#004dff,#0045ff,#0061ff,#0090ff,#009bff,#0069ff,#0088ff,#00a8ff,#00d2ff,#00e3ff,#00faff,#30ffcf,#3bffc4,#6fff90,#afff50,#d2ff2d,#d8ff27,#fff100,#ffa600,#ff9300,#ff5400,#ff8000,#ff7000,#ff3900,#ff5b00,#ff5b00,#ff6100,#ff6a00,#ffaa00,#ff9d00,#ffd200,#fffe00,#ffe200,#fff500,#e4ff1b,#aeff51,#cbff34,#9dff62,#a2ff5d,#99ff66,#a0ff5f,#c8ff37,#92ff6d,#76ff89,#7bff84,#68ff97,#7fff80,#7dff82,#6aff95,#94ff6b,#87ff78,#7cff83,#84ff7b,#a1ff5e,#8aff75,#68ff97,#9cff63,#98ff67,#77ff88,#86ff79,#9cff63,#90ff6f,#93ff6c,#83ff7c,#81ff7e,#81ff7e,#82ff7d,#a4ff5b,#a1ff5e,#7fff80,#8eff71,#aeff51,#f7ff08,#c0ff3f,#bcff43,#d2ff2d,#efff10,#fff400,#fffa00,#ecff13,#ffee00,#faff05,#f3ff0c,#fffe00,#dbff24,#cdff32)"></i><i style="background:linear-gradient(90deg,#0000ae,#000095,#0000ba,#0000b7,#0000d5,#0000dd,#0000e2,#0000f9,#0003ff,#000dff,#0000fe,#0007ff,#0038ff,#005eff,#0043ff,#005fff,#008cff,#0097ff,#0064ff,#008eff,#00acff,#00ccff,#00e4ff,#00fcff,#3bffc4,#45ffba,#7bff84,#c1ff3e,#efff10,#fffb00,#ffd700,#ff8800,#ff8200,#ff5600,#ff7500,#ff7000,#ff4700,#ff6300,#ff6300,#ff7c00,#ff7a00,#ffb600,#ffa400,#ffe500,#f3ff0c,#ffed00,#edff12,#cdff32,#9dff62,#c1ff3e,#9fff60,#90ff6f,#81ff7e,#98ff67,#bdff42,#8aff75,#75ff8a,#74ff8b,#6dff92,#7eff81,#7bff84,#64ff9b,#99ff66,#97ff68,#84ff7b,#76ff89,#a7ff58,#8fff70,#66ff99,#8eff71,#89ff76,#71ff8e,#80ff7f,#abff54,#99ff66,#89ff76,#7fff80,#88ff77,#85ff7a,#8aff75,#9eff61,#96ff69,#73ff8c,#8dff72,#aeff51,#fdff02,#bdff42,#b2ff4d,#d0ff2f,#edff12,#fff500,#fff500,#ebff14,#fff200,#f5ff0a,#eeff11,#f8ff07,#d6ff29,#c3ff3c)"></i><i style="background:linear-gradient(90deg,#0000a1,#00008a,#0000c3,#0000c3,#0000da,#0000e2,#0000ef,#0000f9,#0000fa,#0003ff,#0004ff,#0012ff,#0054ff,#0071ff,#0043ff,#005cff,#0083ff,#0095ff,#006aff,#009bff,#00b2ff,#00c8ff,#00e8ff,#0afff5,#4bffb4,#52ffad,#88ff77,#ceff31,#fff900,#ffd100,#ffbc00,#ff7a00,#ff7900,#ff5f00,#ff7300,#ff7200,#ff5800,#ff6a00,#ff6d00,#ff9b00,#ff8e00,#ffbc00,#ffa800,#ffed00,#efff10,#fffa00,#d3ff2c,#baff45,#8dff72,#b8ff47,#a9ff56,#88ff77,#72ff8d,#8eff71,#aeff51,#8bff74,#79ff86,#69ff96,#6cff93,#74ff8b,#77ff88,#5fffa0,#93ff6c,#a5ff5a,#87ff78,#6eff91,#aaff55,#94ff6b,#72ff8d,#7bff84,#76ff89,#71ff8e,#7aff85,#aeff51,#a4ff5b,#8dff72,#88ff77,#93ff6c,#8dff72,#92ff6d,#93ff6c,#8fff70,#6fff90,#90ff6f,#abff54,#f7ff08,#beff41,#aeff51,#cdff32,#e5ff1a,#fdff02,#fffa00,#e5ff1a,#fffb00,#f8ff07,#ebff14,#f8ff07,#d9ff26,#c0ff3f)"></i><i style="background:linear-gradient(90deg,#000099,#00008c,#0000d0,#0000c8,#0000db,#0000e5,#0000f8,#0000fa,#0000f7,#0002ff,#000aff,#0021ff,#0066ff,#007fff,#004aff,#005bff,#007bff,#0096ff,#007fff,#00b2ff,#00bcff,#00d0ff,#00f3ff,#22ffdd,#5dffa2,#65ff9a,#96ff69,#d6ff29,#ffee00,#ffb300,#ffa600,#ff8100,#ff7c00,#ff7200,#ff7f00,#ff7d00,#ff6b00,#ff7700,#ff7d00,#ffbc00,#ffa800,#ffc500,#ffb800,#fff000,#edff12,#f2ff0d,#bfff40,#abff54,#82ff7d,#acff53,#b1ff4e,#8aff75,#6dff92,#83ff7c,#a3ff5c,#93ff6c,#81ff7e,#5dffa2,#69ff96,#67ff98,#75ff8a,#61ff9e,#89ff76,#adff52,#85ff7a,#6dff92,#a9ff56,#95ff6a,#86ff79,#72ff8d,#67ff98,#73ff8c,#6eff91,#a6ff59,#adff52,#99ff66,#96ff69,#9fff60,#96ff69,#95ff6a,#8bff74,#8fff70,#72ff8d,#92ff6d,#a2ff5d,#e7ff18,#c1ff3e,#b0ff4f,#cbff34,#dcff23,#eeff11,#fbff04,#daff25,#f9ff06,#ffff00,#e5ff1a,#fdff02,#e6ff19,#c4ff3b)"></i><i style="background:linear-gradient(90deg,#000097,#000097,#0000df,#0000cc,#0000dd,#0000e9,#0000fb,#0000fe,#0000f9,#0008ff,#000cff,#002aff,#0066ff,#0080ff,#0058ff,#0060ff,#0077ff,#0098ff,#009fff,#00cdff,#00cdff,#00e7ff,#08fff7,#3effc1,#76ff89,#85ff7a,#b0ff4f,#e2ff1d,#ffe600,#ffa100,#ff9400,#ff8900,#ff7e00,#ff8200,#ff8d00,#ff8900,#ff7500,#ff8000,#ff8d00,#ffd500,#ffbf00,#ffcf00,#ffcd00,#fff100,#e9ff16,#dcff23,#b1ff4e,#a1ff5e,#80ff7f,#a0ff5f,#b4ff4b,#95ff6a,#72ff8d,#7cff83,#9cff63,#97ff68,#87ff78,#56ffa9,#69ff96,#63ff9c,#74ff8b,#69ff96,#82ff7d,#b0ff4f,#83ff7c,#70ff8f,#a1ff5e,#90ff6f,#9bff64,#7cff83,#5fffa0,#73ff8c,#60ff9f,#95ff6a,#adff52,#a2ff5d,#a4ff5b,#a6ff59,#97ff68,#8cff73,#88ff77,#91ff6e,#76ff89,#8fff70,#96ff69,#d4ff2b,#beff41,#b8ff47,#ceff31,#d1ff2e,#e2ff1d,#f3ff0c,#ceff31,#f2ff0d,#fff800,#ddff22,#ffff00,#f7ff08,#cfff30)"></i><i style="background:linear-gradient(90deg,#00009b,#0000a7,#0000e8,#0000d4,#0000e0,#0000f1,#0000fc,#0008ff,#0000ff,#0012ff,#000cff,#002eff,#0057ff,#0074ff,#0067ff,#0067ff,#007dff,#009fff,#00c0ff,#00e7ff,#00e5ff,#0afff5,#25ffda,#5affa5,#95ff6a,#b2ff4d,#d8ff27,#f4ff0b,#ffdd00,#ffa000,#ff8a00,#ff8b00,#ff7900,#ff8c00,#ff9700,#ff9400,#ff7b00,#ff8900,#ff9e00,#ffe700,#ffd800,#ffd900,#ffdf00,#fff100,#dcff23,#c0ff3f,#a6ff59,#9aff65,#87ff78,#9aff65,#b1ff4e,#9fff60,#7bff84,#7bff84,#98ff67,#96ff69,#8bff74,#58ffa7,#6dff92,#67ff98,#75ff8a,#73ff8c,#84ff7b,#b3ff4c,#86ff79,#73ff8c,#96ff69,#87ff78,#aaff55,#91ff6e,#5dffa2,#73ff8c,#57ffa8,#87ff78,#a5ff5a,#a1ff5e,#aeff51,#a2ff5d,#8bff74,#7bff84,#86ff79,#92ff6d,#77ff88,#85ff7a,#8fff70,#c4ff3b,#b5ff4a,#c4ff3b,#d7ff28,#c8ff37,#dbff24,#f3ff0c,#c7ff38,#ecff13,#fffa00,#dbff24,#ffff00,#fffd00,#e0ff1f)"></i><i style="background:linear-gradient(90deg,#0000a5,#0000b5,#0000e7,#0000de,#0000e5,#0000f8,#0001ff,#0016ff,#000cff,#001eff,#0010ff,#0031ff,#0048ff,#0060ff,#0072ff,#006eff,#008bff,#00aeff,#00ddff,#00fdff,#03fffc,#2dffd2,#44ffbb,#75ff8a,#b6ff49,#dfff20,#fffa00,#fff500,#ffd400,#ffaa00,#ff8c00,#ff8c00,#ff7100,#ff9100,#ff9e00,#ff9f00,#ff8100,#ff9400,#ffb000,#fff400,#fff200,#ffe500,#ffec00,#fff700,#caff35,#a3ff5c,#9cff63,#91ff6e,#8fff70,#9aff65,#abff54,#a5ff5a,#89ff76,#81ff7e,#93ff6c,#92ff6d,#8cff73,#64ff9b,#6eff91,#6dff92,#76ff89,#78ff87,#8fff70,#b6ff49,#8eff71,#78ff87,#8aff75,#80ff7f,#adff52,#a1ff5e,#63ff9c,#76ff89,#5cffa3,#82ff7d,#9bff64,#9bff64,#b5ff4a,#96ff69,#7bff84,#6aff95,#84ff7b,#92ff6d,#75ff8a,#7dff82,#8fff70,#b9ff46,#aaff55,#cfff30,#e3ff1c,#c3ff3c,#d8ff27,#f9ff06,#c5ff3a,#e7ff18,#f6ff09,#e2ff1d,#fffd00,#fdff02,#efff10)"></i><i style="background:linear-gradient(90deg,#0000b0,#0000bc,#0000e1,#0000e4,#0000ea,#0000fc,#0006ff,#0024ff,#001bff,#002bff,#001bff,#0032ff,#0042ff,#0052ff,#007aff,#0078ff,#00a1ff,#00c0ff,#00efff,#09fff6,#21ffde,#48ffb7,#5fffa0,#8eff71,#ceff31,#feff01,#ffd900,#ffe200,#ffca00,#ffb600,#ff9600,#ff8e00,#ff6c00,#ff9200,#ffa800,#ffa900,#ff8d00,#ffa400,#ffc300,#fffa00,#f3ff0c,#fff700,#fffa00,#faff05,#b9ff46,#8dff72,#92ff6d,#85ff7a,#91ff6e,#9bff64,#a4ff5b,#a5ff5a,#96ff69,#8dff72,#8fff70,#8bff74,#8cff73,#75ff8a,#67ff98,#6dff92,#76ff89,#77ff88,#9cff63,#b8ff47,#9bff64,#7fff80,#81ff7e,#7eff81,#a5ff5a,#a0ff5f,#6fff90,#7cff83,#70ff8f,#87ff78,#91ff6e,#97ff68,#b9ff46,#8bff74,#75ff8a,#61ff9e,#85ff7a,#94ff6b,#72ff8d,#82ff7d,#98ff67,#afff50,#a0ff5f,#d4ff2b,#eeff11,#c4ff3b,#d8ff27,#fcff03,#c6ff39,#e4ff1b,#e3ff1c,#f0ff0f,#fff900,#edff12,#f5ff0a)"></i><i style="background:linear-gradient(90deg,#0000b8,#0000bc,#0000d6,#0000e1,#0000e9,#0000f9,#0007ff,#0029ff,#0029ff,#0032ff,#0022ff,#002dff,#0042ff,#004fff,#0080ff,#0085ff,#00b4ff,#00c7ff,#00f2ff,#07fff8,#3affc5,#59ffa6,#6cff93,#9fff60,#d7ff28,#fff600,#ffcd00,#ffd400,#ffbb00,#ffba00,#ff9f00,#ff8c00,#ff6900,#ff8e00,#ffb100,#ffac00,#ff9800,#ffb200,#ffce00,#fff800,#e7ff18,#f7ff08,#f4ff0b,#eeff11,#b6ff49,#87ff78,#87ff78,#7aff85,#90ff6f,#96ff69,#9bff64,#a4ff5b,#9eff61,#98ff67,#89ff76,#82ff7d,#8bff74,#85ff7a,#5cffa3,#6bff94,#75ff8a,#74ff8b,#a2ff5d,#b5ff4a,#a7ff58,#85ff7a,#7aff85,#7eff81,#99ff66,#8fff70,#7aff85,#80ff7f,#88ff77,#8fff70,#87ff78,#96ff69,#baff45,#88ff77,#7eff81,#64ff9b,#8cff73,#97ff68,#75ff8a,#96ff69,#a5ff5a,#a7ff58,#9aff65,#d3ff2c,#f3ff0c,#c8ff37,#d7ff28,#f7ff08,#ceff31,#e5ff1a,#d3ff2c,#ffff00,#fff800,#d6ff29,#f1ff0e)"></i><i style="background:linear-gradient(90deg,#0000bd,#0000b8,#0000c5,#0000d1,#0000dd,#0000ed,#0000fa,#0018ff,#002bff,#0029ff,#001cff,#001fff,#003eff,#0052ff,#007bff,#0089ff,#00b5ff,#00b3ff,#00d5ff,#00e8ff,#35ffca,#49ffb6,#53ffac,#8aff75,#b8ff47,#e9ff16,#ffec00,#ffe500,#ffc000,#ffc500,#ffad00,#ff8a00,#ff6b00,#ff8600,#ffaf00,#ff9e00,#ff9200,#ffb000,#ffc800,#ffe500,#f5ff0a,#faff05,#f2ff0d,#f5ff0a,#c7ff38,#93ff6c,#89ff76,#7cff83,#94ff6b,#90ff6f,#95ff6a,#a8ff57,#a1ff5e,#9eff61,#82ff7d,#74ff8b,#8dff72,#8fff70,#57ffa8,#6aff95,#73ff8c,#74ff8b,#a1ff5e,#b1ff4e,#adff52,#82ff7d,#71ff8e,#80ff7f,#92ff6d,#7cff83,#7eff81,#80ff7f,#9bff64,#91ff6e,#7bff84,#92ff6d,#b4ff4b,#86ff79,#90ff6f,#6eff91,#93ff6c,#99ff66,#85ff7a,#b1ff4e,#b3ff4c,#a4ff5b,#97ff68,#d0ff2f,#f0ff0f,#cdff32,#d3ff2c,#eeff11,#deff21,#ecff13,#d1ff2e,#fff400,#ffff00,#c4ff3b,#e8ff17)"></i><i style="background:linear-gradient(90deg,#0000c0,#0000b4,#0000b9,#0000bf,#0000cf,#0000e5,#0000e9,#0000fd,#0027ff,#001eff,#0015ff,#001bff,#0042ff,#005fff,#0078ff,#008eff,#00b0ff,#009bff,#00b7ff,#00d2ff,#2dffd2,#35ffca,#36ffc9,#6fff90,#93ff6c,#c4ff3b,#e7ff18,#fffe00,#ffcd00,#ffd200,#ffb800,#ff8b00,#ff7300,#ff8200,#ffa900,#ff9000,#ff8d00,#ffb000,#ffc400,#ffdc00,#fff900,#fffe00,#efff10,#fffb00,#d9ff26,#a1ff5e,#96ff69,#8dff72,#9dff62,#8aff75,#91ff6e,#acff53,#9fff60,#9aff65,#7bff84,#64ff9b,#90ff6f,#93ff6c,#5cffa3,#6cff93,#72ff8d,#79ff86,#9dff62,#adff52,#a8ff57,#78ff87,#68ff97,#84ff7b,#95ff6a,#74ff8b,#7dff82,#7fff80,#a4ff5b,#8dff72,#72ff8d,#8cff73,#a8ff57,#83ff7c,#a1ff5e,#79ff86,#95ff6a,#98ff67,#a0ff5f,#c6ff39,#bdff42,#aaff55,#97ff68,#caff35,#e6ff19,#cdff32,#cbff34,#e5ff1a,#f1ff0e,#f3ff0c,#d9ff26,#fff200,#f3ff0c,#baff45,#e2ff1d)"></i><i style="background:linear-gradient(90deg,#0000c2,#0000b2,#0000b1,#0000ad,#0000c1,#0000e0,#0000d9,#0000e7,#0022ff,#0018ff,#0012ff,#0025ff,#0051ff,#006bff,#0073ff,#008bff,#00a4ff,#0087ff,#009fff,#00c8ff,#1effe1,#1cffe3,#1cffe3,#4fffb0,#6aff95,#a0ff5f,#bbff44,#e2ff1d,#ffe500,#ffe200,#ffc300,#ff9300,#ff8000,#ff8300,#ff9e00,#ff8600,#ff8900,#ffaf00,#ffc100,#ffd800,#ffe700,#fff600,#f0ff0f,#ffe900,#e4ff1b,#adff52,#b0ff4f,#adff52,#a5ff5a,#83ff7c,#90ff6f,#b0ff4f,#9eff61,#8bff74,#74ff8b,#58ffa7,#93ff6c,#93ff6c,#65ff9a,#6eff91,#73ff8c,#80ff7f,#99ff66,#a8ff57,#9cff63,#6fff90,#63ff9c,#86ff79,#9cff63,#7bff84,#78ff87,#80ff7f,#a3ff5c,#87ff78,#70ff8f,#87ff78,#9dff62,#82ff7d,#afff50,#83ff7c,#8fff70,#93ff6c,#baff45,#cfff30,#c2ff3d,#b5ff4a,#98ff67,#beff41,#d9ff26,#c8ff37,#c2ff3d,#e1ff1e,#fdff02,#f5ff0a,#dfff20,#fffa00,#e6ff19,#b9ff46,#e3ff1c)"></i><i style="background:linear-gradient(90deg,#0000c3,#0000b1,#0000b0,#00009d,#0000b6,#0000db,#0000d0,#0000e1,#0021ff,#0017ff,#0012ff,#0036ff,#0063ff,#0069ff,#0065ff,#007dff,#0091ff,#0074ff,#008dff,#00c4ff,#07fff8,#02fffd,#0efff1,#32ffcd,#44ffbb,#80ff7f,#96ff69,#c3ff3c,#fbff04,#fff200,#ffcf00,#ffa500,#ff9300,#ff8f00,#ff9900,#ff8300,#ff8700,#ffad00,#ffbd00,#ffd200,#ffd200,#ffeb00,#f3ff0c,#ffdc00,#e8ff17,#b6ff49,#cdff32,#cfff30,#a7ff58,#7dff82,#91ff6e,#b2ff4d,#9eff61,#7aff85,#74ff8b,#58ffa7,#95ff6a,#91ff6e,#6fff90,#6eff91,#78ff87,#88ff77,#92ff6d,#9cff63,#91ff6e,#6eff91,#66ff99,#85ff7a,#9eff61,#88ff77,#72ff8d,#80ff7f,#9aff65,#81ff7e,#75ff8a,#88ff77,#96ff69,#87ff78,#bcff43,#89ff76,#85ff7a,#8aff75,#c6ff39,#c9ff36,#beff41,#bdff42,#9bff64,#b2ff4d,#ccff33,#c0ff3f,#b9ff46,#ddff22,#fffc00,#f4ff0b,#dbff24,#f1ff0e,#dbff24,#bdff42,#ebff14)"></i><i style="background:linear-gradient(90deg,#0000c4,#0000b0,#0000b0,#000090,#0000ac,#0000d3,#0000d2,#0000e9,#0025ff,#0016ff,#0011ff,#0043ff,#006cff,#0058ff,#0050ff,#0067ff,#007fff,#0064ff,#007fff,#00bcff,#00eaff,#00eeff,#09fff6,#1effe1,#27ffd8,#65ff9a,#7aff85,#a6ff59,#ddff22,#fffc00,#ffd800,#ffbf00,#ffa700,#ffa000,#ff9c00,#ff8200,#ff8300,#ffa600,#ffb500,#ffc300,#ffb900,#ffda00,#fbff04,#ffd500,#e8ff17,#bbff44,#deff21,#e3ff1c,#a3ff5c,#7cff83,#95ff6a,#b1ff4e,#9bff64,#6dff92,#79ff86,#64ff9b,#97ff68,#8fff70,#77ff88,#6eff91,#81ff7e,#95ff6a,#86ff79,#8eff71,#8fff70,#75ff8a,#6fff90,#81ff7e,#9aff65,#92ff6d,#6dff92,#7fff80,#89ff76,#7aff85,#77ff88,#86ff79,#92ff6d,#8fff70,#c7ff38,#8bff74,#7eff81,#82ff7d,#c1ff3e,#baff45,#b5ff4a,#bbff44,#9cff63,#a9ff56,#c6ff39,#baff45,#b0ff4f,#d6ff29,#fffc00,#f7ff08,#d3ff2c,#dbff24,#d2ff2d,#c5ff3a,#f5ff0a)"></i><i style="background:linear-gradient(90deg,#0000c6,#0000af,#0000af,#000089,#0000a5,#0000cb,#0000d9,#0000f5,#0026ff,#000eff,#000dff,#0044ff,#0068ff,#0042ff,#003cff,#0052ff,#0072ff,#0059ff,#0075ff,#00adff,#00ccff,#00e3ff,#06fff9,#13ffec,#15ffea,#4effb1,#62ff9d,#8dff72,#c7ff38,#faff05,#ffe300,#ffdd00,#ffb900,#ffb000,#ffa400,#ff8400,#ff7c00,#ff9e00,#ffa600,#ffb200,#ffa700,#ffc800,#fffa00,#ffd600,#e6ff19,#c0ff3f,#dfff20,#e2ff1d,#a2ff5d,#85ff7a,#9cff63,#aeff51,#98ff67,#6aff95,#81ff7e,#74ff8b,#97ff68,#8eff71,#7aff85,#70ff8f,#8bff74,#a9ff56,#7aff85,#82ff7d,#99ff66,#7eff81,#77ff88,#7cff83,#96ff69,#96ff69,#6bff94,#7cff83,#71ff8e,#75ff8a,#74ff8b,#79ff86,#8dff72,#97ff68,#cfff30,#8cff73,#82ff7d,#80ff7f,#b6ff49,#a8ff57,#acff53,#b1ff4e,#98ff67,#a3ff5c,#c5ff3a,#b5ff4a,#a7ff58,#cdff32,#fffe00,#fdff02,#cfff30,#caff35,#ccff33,#d0ff2f,#fcff03)"></i><i style="background:linear-gradient(90deg,#0000c8,#0000af,#0000b0,#00008b,#0000a6,#0000c8,#0000dc,#0000f9,#001fff,#0002ff,#0007ff,#0038ff,#0058ff,#0034ff,#0031ff,#0043ff,#006bff,#0055ff,#0073ff,#009cff,#00b1ff,#00daff,#00ffff,#09fff6,#0bfff4,#3effc1,#4bffb4,#77ff88,#bbff44,#f2ff0d,#fff300,#fff900,#ffc500,#ffb600,#ffaa00,#ff8b00,#ff7800,#ff9900,#ff9300,#ffa600,#ffa500,#ffbc00,#ffed00,#ffdd00,#e4ff1b,#c6ff39,#d5ff2a,#d5ff2a,#adff52,#9cff63,#a5ff5a,#abff54,#98ff67,#71ff8e,#86ff79,#7eff81,#96ff69,#8cff73,#7aff85,#75ff8a,#92ff6d,#bbff44,#73ff8c,#7cff83,#a3ff5c,#82ff7d,#79ff86,#7aff85,#93ff6c,#93ff6c,#71ff8e,#7bff84,#58ffa7,#77ff88,#73ff8c,#68ff97,#87ff78,#9aff65,#d3ff2c,#90ff6f,#90ff6f,#87ff78,#afff50,#9bff64,#a9ff56,#a8ff57,#93ff6c,#a0ff5f,#c6ff39,#b2ff4d,#a3ff5c,#c7ff38,#fbff04,#fffb00,#d0ff2f,#bfff40,#c9ff36,#ddff22,#fbff04)"></i><i style="background:linear-gradient(90deg,#0000c9,#0000b4,#0000b4,#000096,#0000b1,#0000ce,#0000d8,#0000f5,#000fff,#0000f8,#0003ff,#0027ff,#0046ff,#0032ff,#0032ff,#003eff,#0062ff,#0054ff,#0078ff,#008dff,#009dff,#00d0ff,#00f5ff,#00faff,#00feff,#32ffcd,#36ffc9,#63ff9c,#b3ff4c,#e5ff1a,#f7ff08,#f0ff0f,#ffca00,#ffb100,#ffac00,#ff9600,#ff7c00,#ff9900,#ff8400,#ffa200,#ffb100,#ffb700,#ffdb00,#ffe400,#e4ff1b,#d1ff2e,#cdff32,#caff35,#c3ff3c,#baff45,#b0ff4f,#abff54,#9eff61,#7bff84,#87ff78,#83ff7c,#98ff67,#8bff74,#78ff87,#7aff85,#96ff69,#bfff40,#73ff8c,#78ff87,#a3ff5c,#80ff7f,#77ff88,#7fff80,#8eff71,#8bff74,#7fff80,#7dff82,#4bffb4,#81ff7e,#7aff85,#60ff9f,#82ff7d,#95ff6a,#cdff32,#97ff68,#a4ff5b,#95ff6a,#aaff55,#96ff69,#acff53,#a7ff58,#90ff6f,#9eff61,#c7ff38,#b1ff4e,#a9ff56,#c8ff37,#f6ff09,#fff900,#d2ff2d,#b8ff47,#c8ff37,#e7ff18,#f4ff0b)"></i><i style="background:linear-gradient(90deg,#0000cc,#0000bc,#0000be,#0000a8,#0000c2,#0000da,#0000d5,#0000f0,#0000ff,#0000ff,#0006ff,#001bff,#003bff,#0038ff,#003dff,#0043ff,#005bff,#0056ff,#0080ff,#0088ff,#009aff,#00ccff,#00efff,#00f1ff,#00faff,#33ffcc,#30ffcf,#5dffa2,#b3ff4c,#e0ff1f,#f4ff0b,#f1ff0e,#ffc400,#ffa000,#ffa500,#ff9f00,#ff8700,#ffa200,#ff8400,#ffa500,#ffc600,#ffc300,#ffcd00,#ffee00,#e2ff1d,#d8ff27,#c9ff36,#c2ff3d,#d1ff2e,#cfff30,#b2ff4d,#abff54,#a1ff5e,#80ff7f,#85ff7a,#85ff7a,#9eff61,#8aff75,#73ff8c,#78ff87,#94ff6b,#b7ff48,#75ff8a,#75ff8a,#98ff67,#7bff84,#7aff85,#89ff76,#85ff7a,#83ff7c,#8dff72,#81ff7e,#4effb1,#8dff72,#81ff7e,#67ff98,#81ff7e,#87ff78,#bdff42,#9dff62,#b3ff4c,#a1ff5e,#a3ff5c,#93ff6c,#b7ff48,#b0ff4f,#92ff6d,#9fff60,#c7ff38,#b1ff4e,#b8ff47,#cfff30,#f4ff0b,#fffc00,#d2ff2d,#b5ff4a,#c7ff38,#ecff13,#e8ff17)"></i></div>
<div class="hm" style="left:404px;top:31px;width:122px;height:155px"><i style="background:linear-gradient(90deg,#0000a9,#00009e,#0000c6,#0000df,#0015ff,#001aff,#001bff,#0008ff,#0000fc,#0000f4,#0000fd,#001dff,#001aff,#003eff,#0060ff,#00aaff,#00c7ff,#00d9ff,#06fff9,#2cffd3,#45ffba,#37ffc8,#5cffa3,#6eff91,#94ff6b,#abff54,#d7ff28,#ccff33,#c6ff39,#fffe00,#ffad00,#ff8600,#ff3900,#ff2a00,#ff4100,#ff2f00,#ff3e00,#ff2b00,#ff5e00,#ff8000,#ff9400,#ffa800,#ffec00,#d9ff26,#c7ff38,#b8ff47,#87ff78,#49ffb6,#26ffd9,#1dffe2,#00ecff,#00abff,#00b0ff,#009cff,#006eff,#0064ff,#004fff,#0042ff,#005fff,#005bff,#003fff,#0032ff,#0043ff,#0021ff,#002dff,#0021ff,#0000f9,#0005ff,#003bff,#0048ff,#0042ff,#002bff,#0022ff,#0049ff,#0033ff,#003eff,#0034ff,#003aff,#003eff,#0033ff,#004bff,#0040ff,#0020ff,#0027ff,#0036ff,#0020ff,#0022ff,#0027ff,#0026ff,#0040ff,#0053ff,#003bff,#0040ff,#0039ff,#0037ff,#0053ff,#0043ff,#0029ff,#0014ff)"></i><i style="background:linear-gradient(90deg,#00009b,#000092,#0000cb,#0000e0,#0013ff,#0017ff,#0020ff,#000eff,#0000f9,#0000f7,#0006ff,#002cff,#0038ff,#0057ff,#006eff,#00bfff,#00dbff,#00dfff,#08fff7,#2cffd3,#3dffc2,#3affc5,#78ff87,#75ff8a,#90ff6f,#adff52,#daff25,#e0ff1f,#dfff20,#ffe700,#ff8700,#ff5c00,#ff1300,#e60000,#ff0100,#f50000,#ff0200,#f30000,#ff3300,#ff5200,#ff6e00,#ff8e00,#ffd200,#fff600,#e1ff1e,#beff41,#8fff70,#54ffab,#24ffdb,#0efff1,#00efff,#00b2ff,#00adff,#0090ff,#0063ff,#0062ff,#0049ff,#0049ff,#0068ff,#0058ff,#0035ff,#0024ff,#0032ff,#001bff,#0022ff,#0022ff,#0006ff,#000cff,#0042ff,#003bff,#003bff,#001aff,#0014ff,#003eff,#003aff,#004fff,#003bff,#0033ff,#0044ff,#0036ff,#0054ff,#0048ff,#0019ff,#0028ff,#0034ff,#0018ff,#0025ff,#002bff,#0026ff,#003cff,#003bff,#0037ff,#0044ff,#004aff,#003dff,#005aff,#004cff,#0027ff,#0009ff)"></i><i style="background:linear-gradient(90deg,#00008f,#00008f,#0000d7,#0000e6,#0007ff,#0011ff,#001bff,#0010ff,#0000fc,#0000fe,#000fff,#0036ff,#005bff,#0074ff,#007eff,#00d3ff,#00eeff,#00e6ff,#05fffa,#24ffdb,#2cffd3,#3affc5,#8bff74,#6eff91,#85ff7a,#a1ff5e,#c5ff3a,#dfff20,#e3ff1c,#ffe600,#ff8400,#ff5a00,#ff2000,#de0000,#fc0000,#f40000,#fc0000,#f80000,#ff2d00,#ff5000,#ff6800,#ff8e00,#ffd200,#ffde00,#e9ff16,#bdff42,#8aff75,#51ffae,#1cffe3,#00fbff,#00e7ff,#00b6ff,#00a6ff,#0080ff,#005eff,#0065ff,#003dff,#004eff,#006cff,#0050ff,#002aff,#001cff,#0028ff,#0019ff,#001cff,#0025ff,#0012ff,#0015ff,#0043ff,#002cff,#0034ff,#000dff,#000aff,#0034ff,#0043ff,#005eff,#0046ff,#0030ff,#004bff,#003dff,#0056ff,#004dff,#0011ff,#0028ff,#0034ff,#0019ff,#0027ff,#002dff,#002cff,#003fff,#0030ff,#0031ff,#0040ff,#005aff,#0049ff,#005dff,#004dff,#0025ff,#0004ff)"></i><i style="background:linear-gradient(90deg,#000087,#000096,#0000e0,#0000e5,#0000f5,#0009ff,#000fff,#000cff,#0008ff,#0010ff,#001eff,#0040ff,#007aff,#008eff,#0090ff,#00e0ff,#00feff,#00edff,#02fffd,#18ffe7,#1affe5,#37ffc8,#8cff73,#5dffa2,#74ff8b,#8aff75,#9fff60,#c7ff38,#d3ff2c,#fffe00,#ffa000,#ff7900,#ff5c00,#ff1700,#ff3500,#ff2b00,#ff3000,#ff3600,#ff4900,#ff7400,#ff8000,#ffa600,#ffec00,#ffe400,#deff21,#b5ff4a,#7aff85,#43ffbc,#0efff1,#00eeff,#00d7ff,#00aeff,#009cff,#0075ff,#005fff,#0069ff,#0034ff,#0053ff,#0067ff,#0040ff,#0021ff,#001aff,#0028ff,#001cff,#001cff,#002aff,#001bff,#001aff,#0042ff,#0026ff,#0035ff,#000bff,#0009ff,#0031ff,#004eff,#006aff,#0050ff,#0031ff,#0054ff,#0044ff,#0050ff,#004eff,#000dff,#0026ff,#0035ff,#0023ff,#0029ff,#0030ff,#0037ff,#0048ff,#0033ff,#0029ff,#0032ff,#0063ff,#0056ff,#0059ff,#0045ff,#0023ff,#0004ff)"></i><i style="background:linear-gradient(90deg,#000087,#0000a5,#0000df,#0000d7,#0000e6,#0000ff,#0004ff,#0006ff,#0016ff,#002dff,#0036ff,#004fff,#0092ff,#00a1ff,#00a3ff,#00e5ff,#09fff6,#00f2ff,#03fffc,#10ffef,#11ffee,#33ffcc,#7cff83,#4dffb2,#61ff9e,#72ff8d,#76ff89,#a0ff5f,#baff45,#dcff23,#ffc800,#ffa300,#ffae00,#ff7200,#ff8600,#ff7a00,#ff8200,#ff8900,#ff7400,#ffa900,#ffac00,#ffcc00,#e9ff16,#fdff02,#c7ff38,#a6ff59,#6aff95,#2fffd0,#02fffd,#00e8ff,#00c5ff,#009dff,#0093ff,#0073ff,#0064ff,#006bff,#0035ff,#0058ff,#005dff,#0031ff,#001fff,#001dff,#002eff,#0022ff,#0020ff,#002fff,#0020ff,#001aff,#0044ff,#002fff,#003aff,#0010ff,#0013ff,#0038ff,#0057ff,#0073ff,#0054ff,#0034ff,#005bff,#0048ff,#0045ff,#004cff,#000eff,#0022ff,#0036ff,#0032ff,#002dff,#0033ff,#0042ff,#004fff,#003eff,#001fff,#0022ff,#0064ff,#005eff,#004dff,#003bff,#0023ff,#0009ff)"></i><i style="background:linear-gradient(90deg,#000091,#0000b6,#0000d4,#0000c5,#0000e0,#0000f3,#0000fd,#0005ff,#0026ff,#004eff,#0054ff,#0068ff,#00a2ff,#00adff,#00b8ff,#00e7ff,#10ffef,#00f7ff,#09fff6,#12ffed,#14ffeb,#33ffcc,#63ff9c,#42ffbd,#51ffae,#5effa1,#59ffa6,#7eff81,#a9ff56,#bfff40,#ffe700,#ffc200,#fff700,#ffc900,#ffca00,#ffbc00,#ffcb00,#ffcb00,#ff9900,#ffd500,#ffd700,#fff300,#c2ff3d,#dfff20,#b2ff4d,#93ff6c,#60ff9f,#1effe1,#00f9ff,#00edff,#00baff,#008dff,#0090ff,#007dff,#006bff,#006aff,#003aff,#0058ff,#0058ff,#002fff,#0026ff,#0022ff,#0033ff,#0029ff,#0028ff,#0033ff,#0023ff,#001aff,#0049ff,#0041ff,#003cff,#0014ff,#0024ff,#0046ff,#0057ff,#0079ff,#004fff,#0033ff,#005eff,#0046ff,#003bff,#0049ff,#0013ff,#001fff,#003dff,#0040ff,#0032ff,#003aff,#004bff,#0053ff,#004bff,#0017ff,#0016ff,#0060ff,#005cff,#003dff,#0033ff,#0025ff,#0015ff)"></i><i style="background:linear-gradient(90deg,#00009f,#0000c2,#0000c7,#0000ba,#0000e3,#0000e7,#0000fb,#000cff,#0035ff,#0069ff,#006dff,#0087ff,#00b1ff,#00b9ff,#00d0ff,#00eeff,#17ffe8,#00fcff,#13ffec,#1bffe4,#22ffdd,#3bffc4,#4effb1,#3dffc2,#48ffb7,#54ffab,#4dffb2,#6cff93,#a5ff5a,#baff45,#fff300,#ffcf00,#e2ff1d,#fffa00,#ffe800,#ffd700,#ffec00,#ffde00,#ffa300,#ffe200,#ffeb00,#f7ff08,#b1ff4e,#d5ff2a,#adff52,#84ff7b,#5fffa0,#15ffea,#00f8ff,#00f9ff,#00bcff,#0089ff,#0094ff,#0091ff,#0075ff,#0068ff,#003dff,#0051ff,#0056ff,#003cff,#0036ff,#0028ff,#0034ff,#002fff,#0032ff,#0038ff,#0029ff,#001eff,#004bff,#0051ff,#003bff,#0015ff,#002fff,#0050ff,#004dff,#0079ff,#0044ff,#002cff,#0057ff,#0043ff,#0039ff,#0046ff,#0018ff,#0021ff,#004bff,#004cff,#0039ff,#0045ff,#0052ff,#0053ff,#0057ff,#0014ff,#0013ff,#0056ff,#0052ff,#0030ff,#002cff,#0029ff,#0025ff)"></i><i style="background:linear-gradient(90deg,#0000a8,#0000c7,#0000be,#0000b7,#0000e3,#0000d3,#0000e9,#0000fe,#001cff,#0048ff,#0048ff,#006dff,#0091ff,#00a5ff,#00caff,#00e5ff,#0ffff0,#00faff,#19ffe6,#21ffde,#2fffd0,#4affb5,#46ffb9,#3affc5,#48ffb7,#53ffac,#51ffae,#6bff94,#a8ff57,#caff35,#ffef00,#ffcc00,#ebff14,#fff900,#ffd900,#ffc200,#ffda00,#ffc200,#ff8e00,#ffc900,#ffd700,#fff900,#c3ff3c,#e7ff18,#bdff42,#81ff7e,#64ff9b,#15ffea,#00fdff,#07fff8,#00cbff,#008fff,#009cff,#00a3ff,#007dff,#006aff,#003eff,#0047ff,#0052ff,#004eff,#0048ff,#0031ff,#0031ff,#0032ff,#003fff,#003eff,#0031ff,#0021ff,#0043ff,#0056ff,#0039ff,#001aff,#0031ff,#0050ff,#003bff,#0070ff,#0037ff,#0021ff,#004aff,#0043ff,#0042ff,#0043ff,#001dff,#0029ff,#005bff,#0055ff,#0040ff,#0052ff,#0055ff,#004dff,#005bff,#0013ff,#0015ff,#0045ff,#0043ff,#0028ff,#0027ff,#002bff,#0032ff)"></i><i style="background:linear-gradient(90deg,#0000ad,#0000cb,#0000be,#0000c0,#0000e4,#0000c6,#0000dc,#0000f6,#0000fc,#001bff,#0017ff,#0042ff,#006bff,#008eff,#00b8ff,#00d3ff,#00fdff,#00f6ff,#19ffe6,#1fffe0,#34ffcb,#59ffa6,#49ffb6,#3affc5,#50ffaf,#58ffa7,#5cffa3,#72ff8d,#abff54,#e3ff1c,#ffe300,#ffbc00,#ffe400,#ffd200,#ffa700,#ff8800,#ffa000,#ff8b00,#ff6700,#ff9200,#ffa300,#ffcd00,#f2ff0d,#ffec00,#dfff20,#8bff74,#6bff94,#1effe1,#0dfff2,#11ffee,#00deff,#009aff,#00a1ff,#00aeff,#007fff,#006fff,#0042ff,#0044ff,#004aff,#0057ff,#0057ff,#003dff,#002eff,#0033ff,#004bff,#0042ff,#0039ff,#001eff,#0031ff,#004dff,#003aff,#0026ff,#002cff,#0049ff,#0027ff,#005eff,#002bff,#0018ff,#003eff,#0045ff,#0050ff,#0043ff,#0025ff,#0031ff,#0065ff,#005aff,#0046ff,#0058ff,#004dff,#003dff,#0055ff,#0014ff,#001aff,#0032ff,#0035ff,#0028ff,#0029ff,#002dff,#0037ff)"></i><i style="background:linear-gradient(90deg,#0000b0,#0000d1,#0000bf,#0000cf,#0000e5,#0000c4,#0000da,#0000f6,#0000e1,#0000f5,#0000f2,#0019ff,#004aff,#0079ff,#009aff,#00b3ff,#00ddff,#00eaff,#0ffff0,#14ffeb,#2fffd0,#60ff9f,#51ffae,#3cffc3,#5dffa2,#62ff9d,#68ff97,#77ff88,#aaff55,#f6ff09,#ffd700,#ffa500,#ffa500,#ffa100,#ff6b00,#ff4300,#ff5a00,#ff5600,#ff4200,#ff5600,#ff6600,#ff9600,#ffd300,#ffbf00,#fffb00,#9dff62,#73ff8c,#2effd1,#22ffdd,#16ffe9,#00f0ff,#00a7ff,#00a4ff,#00b2ff,#007dff,#0076ff,#004aff,#004eff,#0043ff,#0057ff,#005eff,#0048ff,#002fff,#0035ff,#0051ff,#003fff,#003eff,#0015ff,#001dff,#003fff,#003bff,#0034ff,#0027ff,#003eff,#0013ff,#0049ff,#0025ff,#0018ff,#0039ff,#004aff,#005aff,#0047ff,#002fff,#0034ff,#0061ff,#0059ff,#004aff,#0050ff,#0037ff,#0026ff,#0045ff,#0015ff,#001fff,#0022ff,#0029ff,#002dff,#0031ff,#0032ff,#0036ff)"></i><i style="background:linear-gradient(90deg,#0000b5,#0000d9,#0000bd,#0000d8,#0000e5,#0000c9,#0000de,#0000fa,#0000d2,#0000e2,#0000e2,#0000f8,#002bff,#005eff,#0071ff,#0083ff,#00afff,#00d1ff,#00f4ff,#01fffe,#20ffdf,#5affa5,#56ffa9,#3effc1,#66ff99,#6bff94,#73ff8c,#77ff88,#a2ff5d,#f8ff07,#ffd300,#ff9400,#ff7300,#ff8100,#ff4300,#ff1300,#ff2800,#ff3700,#ff3100,#ff3400,#ff3d00,#ff6c00,#ffa700,#ffa400,#ffe100,#b5ff4a,#84ff7b,#4bffb4,#3dffc2,#21ffde,#08fff7,#00c6ff,#00b5ff,#00bfff,#0084ff,#0081ff,#005aff,#0066ff,#004bff,#005aff,#0068ff,#0055ff,#003bff,#0040ff,#0051ff,#003bff,#0048ff,#0010ff,#0016ff,#0038ff,#003cff,#0043ff,#0029ff,#0038ff,#0006ff,#003bff,#002bff,#0021ff,#003cff,#004fff,#005fff,#0053ff,#0039ff,#0032ff,#0052ff,#0052ff,#004aff,#003dff,#001dff,#0013ff,#0034ff,#0015ff,#0023ff,#0017ff,#0022ff,#0031ff,#003bff,#0039ff,#0034ff)"></i><i style="background:linear-gradient(90deg,#0000bc,#0000dd,#0000bc,#0000d7,#0000db,#0000d0,#0000e2,#0000fe,#0000ce,#0000df,#0000e3,#0000e6,#000eff,#0041ff,#0044ff,#004fff,#007aff,#00a9ff,#00caff,#00e8ff,#08fff7,#48ffb7,#52ffad,#3effc1,#65ff9a,#6fff90,#7aff85,#74ff8b,#94ff6b,#e6ff19,#ffde00,#ff9500,#ff6500,#ff7f00,#ff4400,#ff0f00,#ff2300,#ff3800,#ff3f00,#ff3f00,#ff3900,#ff5f00,#ff9400,#ffa400,#ffd200,#d3ff2c,#a6ff59,#79ff86,#62ff9d,#43ffbc,#37ffc8,#0cfff3,#00ebff,#00ecff,#00adff,#00a0ff,#0080ff,#0094ff,#0071ff,#0078ff,#0086ff,#0073ff,#005fff,#005fff,#005cff,#0047ff,#0068ff,#0026ff,#002fff,#004bff,#0048ff,#005bff,#0042ff,#0045ff,#000bff,#0044ff,#0048ff,#0034ff,#0047ff,#005bff,#0065ff,#0069ff,#0048ff,#0037ff,#004bff,#004dff,#004bff,#002dff,#000fff,#0012ff,#002fff,#0019ff,#002aff,#0016ff,#0023ff,#0037ff,#0040ff,#0040ff,#0035ff)"></i><i style="background:linear-gradient(90deg,#0000c6,#0000db,#0000c3,#0000d0,#0000c9,#0000d3,#0000e4,#0000ff,#0000d4,#0000e5,#0000eb,#0000dc,#0000f5,#0025ff,#0020ff,#0028ff,#0049ff,#0079ff,#0096ff,#00cbff,#00e8ff,#2cffd3,#3fffc0,#3affc5,#56ffa9,#63ff9c,#76ff89,#70ff8f,#80ff7f,#c7ff38,#fff600,#ffb000,#ff7d00,#ff9700,#ff6900,#ff3900,#ff4e00,#ff5700,#ff6500,#ff7200,#ff5700,#ff6e00,#ff9f00,#ffbe00,#ffd000,#ebff14,#cbff34,#abff54,#86ff79,#74ff8b,#75ff8a,#68ff97,#40ffbf,#30ffcf,#00f2ff,#00d5ff,#00bcff,#00d6ff,#00b5ff,#00bbff,#00c3ff,#00acff,#00a3ff,#009bff,#0084ff,#0073ff,#00a6ff,#0065ff,#0072ff,#0082ff,#006cff,#008bff,#007dff,#0076ff,#0036ff,#006eff,#0083ff,#005bff,#0062ff,#007aff,#007eff,#0094ff,#006eff,#0054ff,#0062ff,#005cff,#005bff,#0037ff,#0021ff,#002dff,#0046ff,#002eff,#003eff,#002aff,#0035ff,#0048ff,#0045ff,#0049ff,#003fff)"></i><i style="background:linear-gradient(90deg,#0000cd,#0000d5,#0000d2,#0000cb,#0000b6,#0000d1,#0000e3,#0000fd,#0000db,#0000eb,#0000ed,#0000d5,#0000e5,#000eff,#000cff,#0013ff,#0025ff,#004cff,#0063ff,#00a2ff,#00c2ff,#09fff6,#1cffe3,#2fffd0,#39ffc6,#48ffb7,#67ff98,#6dff92,#6dff92,#abff54,#e8ff17,#ffd900,#ffad00,#ffb900,#ff9c00,#ff7e00,#ff9500,#ff8700,#ff9400,#ffb100,#ff8800,#ff9300,#ffca00,#ffef00,#ffe600,#e4ff1b,#ceff31,#b9ff46,#84ff7b,#7eff81,#84ff7b,#92ff6d,#6bff94,#4bffb4,#16ffe9,#00eeff,#00dcff,#00fdff,#00e3ff,#00f0ff,#00efff,#00d5ff,#00ddff,#00d2ff,#00b2ff,#00a3ff,#00e0ff,#00adff,#00c1ff,#00bdff,#0097ff,#00c1ff,#00c6ff,#00b8ff,#0079ff,#00a7ff,#00c7ff,#0093ff,#008eff,#00aaff,#00aaff,#00d1ff,#00b1ff,#008bff,#009aff,#008cff,#0084ff,#0063ff,#0058ff,#0066ff,#007eff,#005fff,#006bff,#005bff,#0064ff,#0072ff,#0059ff,#0064ff,#005cff)"></i><i style="background:linear-gradient(90deg,#0000cd,#0000c9,#0000e0,#0000ca,#0000ac,#0000d4,#0000e1,#0000f5,#0000e1,#0000f0,#0000e6,#0000d2,#0000e3,#0000fb,#0004ff,#000cff,#000fff,#0029ff,#003aff,#0072ff,#0097ff,#00dfff,#00f0ff,#1cffe3,#16ffe9,#28ffd7,#52ffad,#6bff94,#64ff9b,#9fff60,#caff35,#fdff02,#ffdd00,#ffd900,#ffc600,#ffc200,#ffd600,#ffaf00,#ffb600,#ffde00,#ffb500,#ffbe00,#fcff03,#daff25,#f4ff0b,#c2ff3d,#a7ff58,#9cff63,#5affa5,#52ffad,#4dffb2,#62ff9d,#43ffbc,#18ffe7,#00eaff,#00bfff,#00b5ff,#00dbff,#00c7ff,#00dcff,#00cdff,#00b8ff,#00d3ff,#00cbff,#00afff,#009fff,#00d7ff,#00c0ff,#00dcff,#00bfff,#0093ff,#00c4ff,#00dfff,#00d2ff,#0099ff,#00b7ff,#00daff,#00aeff,#00a3ff,#00beff,#00c2ff,#00f5ff,#00e5ff,#00b1ff,#00c1ff,#00b8ff,#00a8ff,#0091ff,#0092ff,#009bff,#00b8ff,#0098ff,#00a2ff,#0092ff,#009aff,#00a4ff,#0078ff,#008eff,#0084ff)"></i><i style="background:linear-gradient(90deg,#0000c4,#0000ba,#0000e7,#0000cb,#0000ae,#0000df,#0000e0,#0000ea,#0000e7,#0000f7,#0000df,#0000d9,#0000ec,#0000ed,#0000fd,#0006ff,#0001ff,#0014ff,#0021ff,#0045ff,#0069ff,#00b2ff,#00c2ff,#00fdff,#00f5ff,#0dfff2,#41ffbe,#6dff92,#6dff92,#aaff55,#b9ff46,#e7ff18,#fffa00,#ffea00,#ffd400,#ffe700,#fff000,#ffbe00,#ffbc00,#ffe800,#ffd100,#ffdf00,#d7ff28,#beff41,#d8ff27,#a6ff59,#7dff82,#7bff84,#37ffc8,#20ffdf,#08fff7,#15ffea,#00feff,#00cdff,#00a0ff,#0072ff,#006aff,#0092ff,#0082ff,#0095ff,#0077ff,#006fff,#0095ff,#008dff,#007fff,#006cff,#0094ff,#0098ff,#00b7ff,#0083ff,#005bff,#0089ff,#00b5ff,#00abff,#007bff,#0088ff,#00a2ff,#008cff,#0083ff,#0096ff,#00a1ff,#00d9ff,#00d9ff,#009cff,#00a7ff,#00a9ff,#0094ff,#008eff,#0096ff,#0098ff,#00bdff,#00a1ff,#00afff,#009cff,#00a3ff,#00acff,#0079ff,#009dff,#0090ff)"></i><i style="background:linear-gradient(90deg,#0000b3,#0000ae,#0000eb,#0000cd,#0000b7,#0000ea,#0000e2,#0000e1,#0000f3,#0004ff,#0000e0,#0000f1,#0000ff,#0000e7,#0000fd,#000cff,#000dff,#002cff,#0043ff,#005fff,#0083ff,#00c9ff,#00d4ff,#0cfff3,#05fffa,#1affe5,#4fffb0,#82ff7d,#8eff71,#cdff32,#bfff40,#e9ff16,#fff900,#ffe200,#ffbd00,#ffd900,#ffd600,#ffaa00,#ffa400,#ffd200,#ffd100,#ffe500,#d7ff28,#c3ff3c,#cfff30,#a1ff5e,#6bff94,#6cff93,#32ffcd,#0cfff3,#00e3ff,#00e6ff,#00d7ff,#00a2ff,#0071ff,#0040ff,#0036ff,#005aff,#004fff,#005bff,#002eff,#0039ff,#005dff,#0051ff,#0053ff,#003eff,#0059ff,#006cff,#0084ff,#0047ff,#0028ff,#0049ff,#007aff,#0072ff,#004dff,#004cff,#0056ff,#0055ff,#0050ff,#0057ff,#0062ff,#0099ff,#00a2ff,#0065ff,#0062ff,#006dff,#0056ff,#005fff,#0067ff,#0063ff,#008bff,#0074ff,#008bff,#0075ff,#0076ff,#007cff,#004fff,#007bff,#006cff)"></i><i style="background:linear-gradient(90deg,#0000a2,#0000aa,#0000eb,#0000d0,#0000be,#0000ed,#0000e7,#0000de,#0001ff,#000eff,#0000eb,#0014ff,#0011ff,#0000ea,#0005ff,#0015ff,#0020ff,#0055ff,#0077ff,#0093ff,#00b0ff,#00ecff,#00efff,#1dffe2,#1fffe0,#38ffc7,#6eff91,#9eff61,#b9ff46,#faff05,#dbff24,#ffff00,#ffd900,#ffbf00,#ff8800,#ff9d00,#ff9700,#ff7900,#ff7500,#ffa300,#ffb100,#ffcf00,#f9ff06,#dfff20,#d3ff2c,#afff50,#6cff93,#68ff97,#3cffc3,#0cfff3,#00dcff,#00daff,#00cbff,#0090ff,#005cff,#0031ff,#0023ff,#003eff,#0037ff,#0041ff,#000eff,#0027ff,#003fff,#0031ff,#003bff,#0029ff,#0040ff,#0057ff,#005dff,#002eff,#001aff,#0029ff,#0055ff,#004cff,#0034ff,#002eff,#002bff,#003aff,#0037ff,#002fff,#0032ff,#0066ff,#0074ff,#003bff,#002aff,#003bff,#0023ff,#0036ff,#003aff,#0031ff,#0054ff,#0040ff,#0063ff,#004cff,#0043ff,#0047ff,#0023ff,#0049ff,#003eff)"></i><i style="background:linear-gradient(90deg,#00009d,#0000b0,#0000e5,#0000d0,#0000c2,#0000e4,#0000ed,#0000df,#0009ff,#000fff,#0000f9,#0033ff,#001bff,#0000f8,#001aff,#0029ff,#003cff,#0081ff,#00adff,#00c8ff,#00dcff,#0dfff2,#07fff8,#2cffd3,#39ffc6,#62ff9d,#97ff68,#bbff44,#dfff20,#ffd900,#fffa00,#ffdf00,#ffa800,#ff8800,#ff4600,#ff4e00,#ff4f00,#ff3a00,#ff3a00,#ff6700,#ff7a00,#ffa700,#ffd700,#fffd00,#ddff22,#c1ff3e,#7bff84,#66ff99,#44ffbb,#0efff1,#00e3ff,#00dfff,#00c7ff,#0082ff,#0051ff,#0030ff,#0024ff,#0035ff,#002eff,#003aff,#000cff,#0026ff,#002fff,#0026ff,#002dff,#0020ff,#003cff,#004eff,#0038ff,#002eff,#0025ff,#0021ff,#0041ff,#0036ff,#0029ff,#0024ff,#001fff,#003aff,#0034ff,#0023ff,#001aff,#0048ff,#005aff,#0025ff,#000eff,#0029ff,#0010ff,#0025ff,#0027ff,#001bff,#0032ff,#001fff,#0052ff,#0040ff,#002dff,#0032ff,#0015ff,#0028ff,#0024ff)"></i><i style="background:linear-gradient(90deg,#0000a3,#0000bb,#0000d7,#0000cc,#0000c5,#0000d7,#0000f0,#0000df,#000bff,#000aff,#0008ff,#0047ff,#0020ff,#0013ff,#003eff,#004aff,#005dff,#00a7ff,#00d9ff,#00f1ff,#02fffd,#25ffda,#1bffe4,#3affc5,#4cffb3,#8cff73,#bfff40,#cfff30,#f2ff0d,#ffbd00,#ffcf00,#ffbe00,#ff7d00,#ff5300,#ff1000,#ff0b00,#ff1700,#ff0400,#ff0700,#ff3200,#ff4500,#ff8100,#ffb500,#ffe200,#e9ff16,#ceff31,#8dff72,#67ff98,#47ffb8,#0ffff0,#00f0ff,#00eaff,#00c3ff,#0076ff,#004aff,#0034ff,#002aff,#0038ff,#0031ff,#003dff,#0018ff,#0024ff,#0022ff,#0028ff,#0025ff,#0018ff,#003cff,#0047ff,#0015ff,#0033ff,#0036ff,#0020ff,#0031ff,#0025ff,#0020ff,#001dff,#001bff,#003fff,#0036ff,#0024ff,#0010ff,#0035ff,#0047ff,#0013ff,#0001ff,#002aff,#0010ff,#0022ff,#0027ff,#0017ff,#001aff,#000bff,#004dff,#0044ff,#002eff,#0038ff,#001bff,#001aff,#001bff)"></i><i style="background:linear-gradient(90deg,#0000ab,#0000c5,#0000c3,#0000c6,#0000cd,#0000d2,#0000f1,#0000db,#0009ff,#0008ff,#0014ff,#0050ff,#0027ff,#0036ff,#0068ff,#006eff,#007cff,#00c1ff,#00f8ff,#0afff5,#17ffe8,#31ffce,#29ffd6,#44ffbb,#56ffa9,#a9ff56,#dbff24,#d3ff2c,#f1ff0e,#ffba00,#ffb100,#ffa600,#ff6b00,#ff3b00,#fa0000,#eb0000,#fd0000,#ed0000,#f30000,#ff1800,#ff2d00,#ff6a00,#ffaa00,#ffd700,#f1ff0e,#cbff34,#9aff65,#68ff97,#44ffbb,#0efff1,#00feff,#00f6ff,#00bfff,#0071ff,#0048ff,#0035ff,#002eff,#0040ff,#003aff,#0042ff,#0023ff,#0022ff,#001aff,#002eff,#0020ff,#0012ff,#003cff,#003eff,#0000fc,#0035ff,#0042ff,#0022ff,#0022ff,#0016ff,#0015ff,#0012ff,#0014ff,#003fff,#0033ff,#0029ff,#000fff,#0029ff,#0035ff,#0003ff,#0000fd,#002dff,#0013ff,#0023ff,#002fff,#0018ff,#0005ff,#0000fc,#0049ff,#0048ff,#0035ff,#0042ff,#0025ff,#001aff,#0016ff)"></i><i style="background:linear-gradient(90deg,#0000aa,#0000c8,#0000b3,#0000c4,#0000d8,#0000d7,#0000f0,#0000d4,#0007ff,#000fff,#0021ff,#0051ff,#0038ff,#005cff,#008eff,#008dff,#0094ff,#00d1ff,#09fff6,#12ffed,#1effe1,#34ffcb,#32ffcd,#47ffb8,#58ffa7,#b0ff4f,#e0ff1f,#c9ff36,#dfff20,#ffcf00,#ffb100,#ffa600,#ff7b00,#ff4b00,#ff1000,#f20000,#ff0600,#ff0300,#ff0d00,#ff2500,#ff4100,#ff6c00,#ffb400,#ffdd00,#f0ff0f,#bcff43,#99ff66,#64ff9b,#3affc5,#0cfff3,#09fff6,#00feff,#00beff,#0071ff,#004bff,#0034ff,#002fff,#0044ff,#003fff,#0043ff,#002aff,#0026ff,#001dff,#0033ff,#001bff,#0012ff,#003aff,#0033ff,#0000f8,#0032ff,#0049ff,#0028ff,#0016ff,#000eff,#000cff,#0009ff,#000dff,#0037ff,#002dff,#002fff,#0013ff,#0023ff,#0026ff,#0000f9,#0002ff,#0028ff,#0012ff,#0023ff,#0032ff,#0017ff,#0000f6,#0000f3,#0042ff,#0047ff,#0038ff,#0041ff,#0029ff,#0021ff,#0011ff)"></i><i style="background:linear-gradient(90deg,#0000a0,#0000c6,#0000ac,#0000c8,#0000e4,#0000e2,#0000f1,#0000d1,#0005ff,#001dff,#002fff,#0050ff,#0058ff,#0086ff,#00aeff,#00a4ff,#00a8ff,#00dbff,#11ffee,#11ffee,#19ffe6,#36ffc9,#37ffc8,#43ffbc,#53ffac,#a0ff5f,#d1ff2e,#b7ff48,#c5ff3a,#fff300,#ffcf00,#ffbe00,#ffa500,#ff7b00,#ff4600,#ff1b00,#ff2a00,#ff3c00,#ff4b00,#ff5400,#ff7900,#ff8900,#ffca00,#fff000,#e3ff1c,#a7ff58,#8cff73,#5dffa2,#2dffd2,#0cfff3,#0bfff4,#00ffff,#00bfff,#0070ff,#004eff,#0032ff,#002fff,#0044ff,#003cff,#0044ff,#0033ff,#0030ff,#002bff,#0038ff,#0016ff,#0018ff,#0036ff,#0029ff,#0002ff,#002cff,#004aff,#002fff,#000dff,#000eff,#0009ff,#0006ff,#000dff,#002cff,#0028ff,#0035ff,#0015ff,#0023ff,#001fff,#0000fb,#000bff,#001bff,#0010ff,#0023ff,#002bff,#0015ff,#0000f5,#0000ef,#0037ff,#0043ff,#0035ff,#0033ff,#0027ff,#002aff,#000eff)"></i><i style="background:linear-gradient(90deg,#000098,#0000c4,#0000af,#0000cf,#0000e8,#0000e8,#0000f2,#0000d1,#0000fe,#0026ff,#0034ff,#004bff,#0075ff,#00a3ff,#00bcff,#00b1ff,#00baff,#00e1ff,#14ffeb,#0afff5,#0cfff3,#36ffc9,#35ffca,#37ffc8,#48ffb7,#83ff7c,#b6ff49,#a3ff5c,#acff53,#e6ff19,#fffe00,#ffe500,#ffd700,#ffb200,#ff8700,#ff5600,#ff5c00,#ff8200,#ff9300,#ff9000,#ffbe00,#ffbb00,#ffe400,#f8ff07,#d0ff2f,#9aff65,#7eff81,#59ffa6,#25ffda,#12ffed,#09fff6,#00faff,#00c1ff,#006aff,#004fff,#0033ff,#0032ff,#0040ff,#0033ff,#004aff,#0042ff,#003aff,#003cff,#003dff,#0015ff,#001eff,#0032ff,#0026ff,#000dff,#0028ff,#0043ff,#0033ff,#0005ff,#0010ff,#000dff,#000eff,#0014ff,#0022ff,#0027ff,#0038ff,#000eff,#0024ff,#001cff,#0003ff,#0013ff,#000eff,#0011ff,#0021ff,#001eff,#0013ff,#0000ff,#0000f1,#002eff,#0042ff,#0031ff,#0020ff,#0024ff,#0030ff,#0013ff)"></i><i style="background:linear-gradient(90deg,#00009c,#0000c5,#0000b6,#0000ce,#0000df,#0000df,#0000ea,#0000ca,#0000e0,#0007ff,#0006ff,#000fff,#004bff,#0072ff,#0082ff,#0085ff,#00a5ff,#00c9ff,#00feff,#00f4ff,#00f0ff,#2dffd2,#28ffd7,#26ffd9,#39ffc6,#6aff95,#9aff65,#8fff70,#98ff67,#cbff34,#d4ff2b,#f7ff08,#fffb00,#ffda00,#ffbc00,#ff8c00,#ff8a00,#ffb700,#ffc900,#ffbd00,#fff200,#ffec00,#fff700,#e5ff1a,#c1ff3e,#99ff66,#7dff82,#60ff9f,#25ffda,#1fffe0,#07fff8,#00f1ff,#00c5ff,#0066ff,#0052ff,#003aff,#0039ff,#003bff,#002eff,#0057ff,#0050ff,#003dff,#0049ff,#0042ff,#0019ff,#001fff,#0033ff,#0029ff,#0012ff,#0029ff,#0035ff,#002fff,#0000fb,#000eff,#0012ff,#0018ff,#001fff,#001aff,#0029ff,#0038ff,#0005ff,#0023ff,#0015ff,#0006ff,#0018ff,#0006ff,#0017ff,#001fff,#0015ff,#0012ff,#000dff,#0000fa,#002aff,#0045ff,#002fff,#0013ff,#0022ff,#0035ff,#001fff)"></i><i style="background:linear-gradient(90deg,#0000ac,#0000c9,#0000bf,#0000c8,#0000d3,#0000d6,#0000ea,#0000d1,#0000d1,#0000f3,#0000ec,#0000f3,#0032ff,#004cff,#004aff,#0052ff,#0086ff,#00a1ff,#00d9ff,#00d6ff,#00cfff,#1affe5,#12ffed,#18ffe7,#31ffce,#60ff9f,#82ff7d,#7dff82,#8cff73,#bfff40,#baff45,#e8ff17,#fbff04,#ffe500,#ffd400,#ffa800,#ffa100,#ffc300,#ffd900,#ffc800,#fffc00,#fcff03,#fffd00,#dcff23,#bfff40,#a6ff59,#8fff70,#77ff88,#2effd1,#2dffd2,#08fff7,#00e9ff,#00ccff,#006eff,#005bff,#0045ff,#0042ff,#0037ff,#0030ff,#0061ff,#0053ff,#003bff,#004dff,#0045ff,#0022ff,#001eff,#0038ff,#002dff,#0012ff,#002dff,#0025ff,#0022ff,#0000f2,#0007ff,#0010ff,#001dff,#0025ff,#0015ff,#0031ff,#0038ff,#0004ff,#001fff,#000bff,#0005ff,#001cff,#0004ff,#001fff,#0020ff,#0016ff,#0010ff,#0016ff,#000bff,#002dff,#004bff,#002eff,#000dff,#0024ff,#0039ff,#002fff)"></i><i style="background:linear-gradient(90deg,#0000be,#0000cc,#0000c7,#0000c2,#0000cb,#0000d2,#0000ef,#0000db,#0000cf,#0000ea,#0000e3,#0000eb,#0024ff,#0032ff,#0023ff,#0026ff,#005cff,#006aff,#00a1ff,#00abff,#00acff,#00faff,#00f6ff,#14ffeb,#35ffca,#64ff9b,#6fff90,#6eff91,#89ff76,#c0ff3f,#bcff43,#f1ff0e,#ffed00,#ffd500,#ffcb00,#ffa000,#ff9700,#ffa700,#ffc300,#ffad00,#ffda00,#fff500,#fff300,#ddff22,#cbff34,#bbff44,#aaff55,#92ff6d,#3cffc3,#35ffca,#06fff9,#00e2ff,#00d6ff,#0081ff,#006aff,#0051ff,#004bff,#0037ff,#0039ff,#0063ff,#0048ff,#003cff,#004cff,#0048ff,#002bff,#001cff,#003aff,#002cff,#0012ff,#0032ff,#0018ff,#000dff,#0000ee,#0002ff,#0007ff,#001bff,#0027ff,#0011ff,#003bff,#0039ff,#0011ff,#001fff,#0006ff,#0005ff,#0022ff,#0004ff,#0026ff,#0029ff,#001eff,#0012ff,#0016ff,#001aff,#0032ff,#004dff,#002bff,#000fff,#0028ff,#003aff,#003bff)"></i><i style="background:linear-gradient(90deg,#0000c9,#0000cc,#0000ce,#0000c6,#0000cb,#0000d4,#0000f2,#0000df,#0000d0,#0000eb,#0000e4,#0000ec,#001dff,#001aff,#000fff,#000bff,#0030ff,#0032ff,#0060ff,#0075ff,#0084ff,#00ccff,#00d9ff,#14ffeb,#3dffc2,#68ff97,#5dffa2,#66ff99,#8bff74,#c6ff39,#d3ff2c,#fff900,#ffca00,#ffb800,#ffad00,#ff8300,#ff7900,#ff7c00,#ff9800,#ff7e00,#ffa200,#ffd200,#ffdf00,#e6ff19,#dfff20,#cdff32,#bcff43,#a4ff5b,#47ffb8,#34ffcb,#00fdff,#00deff,#00deff,#0095ff,#007bff,#005aff,#0052ff,#003eff,#0046ff,#005dff,#003cff,#0044ff,#0047ff,#004cff,#002fff,#0019ff,#0037ff,#0027ff,#0016ff,#0030ff,#0010ff,#0000fb,#0000f1,#0000ff,#0000fa,#001bff,#002aff,#0010ff,#0042ff,#003cff,#0023ff,#0024ff,#000eff,#000dff,#0029ff,#0003ff,#002bff,#0038ff,#002bff,#001eff,#0016ff,#0025ff,#0038ff,#004dff,#002bff,#0016ff,#002aff,#0037ff,#0040ff)"></i><i style="background:linear-gradient(90deg,#0000ce,#0000cf,#0000d7,#0000d7,#0000cd,#0000d9,#0000f1,#0000d8,#0000cb,#0000f1,#0000f0,#0000ef,#0018ff,#0002ff,#0008ff,#0004ff,#000eff,#0009ff,#002cff,#003bff,#0059ff,#0091ff,#00b4ff,#07fff8,#36ffc9,#5bffa4,#48ffb7,#61ff9e,#8bff74,#c8ff37,#ebff14,#ffef00,#ffb200,#ffa600,#ff9800,#ff7000,#ff6100,#ff5f00,#ff7900,#ff5c00,#ff7400,#ffb400,#ffd000,#efff10,#ecff13,#d4ff2b,#b7ff48,#a1ff5e,#4cffb3,#2effd1,#00f2ff,#00dcff,#00deff,#00a0ff,#0087ff,#0062ff,#0053ff,#0047ff,#004fff,#0052ff,#0037ff,#004eff,#0040ff,#004cff,#002bff,#0017ff,#0030ff,#0025ff,#0020ff,#0028ff,#0010ff,#0000f4,#0000fa,#0003ff,#0000f4,#0020ff,#0031ff,#0010ff,#0042ff,#003fff,#002eff,#002eff,#0022ff,#001dff,#0030ff,#0002ff,#0031ff,#0048ff,#0039ff,#0033ff,#001cff,#002aff,#003fff,#004dff,#0033ff,#001eff,#0028ff,#0033ff,#003fff)"></i><i style="background:linear-gradient(90deg,#0000d4,#0000d9,#0000e2,#0000ee,#0000d0,#0000db,#0000ef,#0000cb,#0000be,#0000f6,#0006ff,#0000f5,#0014ff,#0000ee,#0005ff,#0007ff,#0000f9,#0000f1,#000eff,#000cff,#0031ff,#0054ff,#007fff,#00e1ff,#13ffec,#33ffcc,#2fffd0,#5cffa3,#7eff81,#b8ff47,#eeff11,#fffa00,#ffb700,#ffb300,#ffa600,#ff7e00,#ff6a00,#ff6800,#ff7e00,#ff6100,#ff6e00,#ffb100,#ffd400,#ebff14,#e8ff17,#ccff33,#9dff62,#92ff6d,#4dffb2,#26ffd9,#00eaff,#00ddff,#00d8ff,#00a5ff,#0094ff,#006fff,#0053ff,#0051ff,#0053ff,#0048ff,#0038ff,#0056ff,#003aff,#0047ff,#0024ff,#001cff,#002eff,#002aff,#002eff,#001fff,#0015ff,#0000f7,#0005ff,#000dff,#0000fb,#002cff,#003cff,#000dff,#003eff,#0042ff,#002fff,#0037ff,#0039ff,#0032ff,#0036ff,#0007ff,#0036ff,#0053ff,#0046ff,#004bff,#0029ff,#002eff,#004aff,#0050ff,#0045ff,#002aff,#0026ff,#0031ff,#003eff)"></i><i style="background:linear-gradient(90deg,#0000da,#0000e5,#0000e7,#0000ff,#0000d5,#0000d8,#0000ee,#0000c3,#0000b2,#0000f7,#001cff,#0000fa,#0011ff,#0000e3,#0000ff,#000dff,#0000f3,#0000e9,#0001ff,#0000f3,#001bff,#002aff,#004aff,#00aeff,#00dbff,#00f5ff,#0ffff0,#50ffaf,#62ff9d,#94ff6b,#d6ff29,#e6ff19,#ffd700,#ffe100,#ffd700,#ffb000,#ff9300,#ff9600,#ffae00,#ff8f00,#ff9500,#ffcf00,#ffed00,#dbff24,#d8ff27,#bcff43,#84ff7b,#8aff75,#56ffa9,#2cffd3,#00f5ff,#00edff,#00dbff,#00b4ff,#00b0ff,#0089ff,#005eff,#005fff,#0056ff,#0046ff,#003dff,#005aff,#003eff,#0042ff,#0025ff,#0032ff,#0039ff,#0038ff,#0040ff,#0021ff,#0024ff,#0004ff,#0013ff,#0023ff,#0010ff,#003eff,#0049ff,#000dff,#003dff,#0047ff,#002fff,#0040ff,#004eff,#0046ff,#003fff,#0015ff,#0037ff,#0056ff,#0052ff,#005aff,#0034ff,#0035ff,#0053ff,#0058ff,#005dff,#0038ff,#002aff,#0030ff,#003dff)"></i><i style="background:linear-gradient(90deg,#0000dd,#0000e7,#0000e0,#0005ff,#0000df,#0000d8,#0000ee,#0000c6,#0000b0,#0000f2,#0027ff,#0000fd,#000fff,#0000e0,#0000f4,#000cff,#0000f5,#0000e7,#0000f8,#0000f1,#0012ff,#0015ff,#001eff,#007bff,#009cff,#00b1ff,#00e3ff,#34ffcb,#39ffc6,#65ff9a,#aaff55,#c1ff3e,#faff05,#deff21,#ecff13,#ffef00,#ffcb00,#ffd500,#fff400,#ffd100,#ffd600,#ffff00,#eeff11,#c6ff39,#ceff31,#b8ff47,#84ff7b,#9dff62,#79ff86,#54ffab,#25ffda,#20ffdf,#03fffc,#00e4ff,#00edff,#00c2ff,#008bff,#0085ff,#006eff,#005eff,#0054ff,#006cff,#005dff,#0054ff,#0045ff,#0065ff,#005bff,#0057ff,#005cff,#003bff,#0045ff,#0021ff,#002dff,#0049ff,#0030ff,#005bff,#005dff,#001aff,#0047ff,#0055ff,#0037ff,#004cff,#0062ff,#0058ff,#004bff,#002eff,#0039ff,#0058ff,#005eff,#0061ff,#003bff,#0043ff,#005aff,#0063ff,#0077ff,#0049ff,#0035ff,#0033ff,#003eff)"></i><i style="background:linear-gradient(90deg,#0000db,#0000df,#0000d1,#0000fe,#0000eb,#0000de,#0000ee,#0000d6,#0000bb,#0000e7,#0024ff,#0000fe,#000bff,#0000e3,#0000e1,#0000ff,#0000f5,#0000e6,#0000f1,#0000fa,#0014ff,#0010ff,#0004ff,#0051ff,#0068ff,#0074ff,#00b0ff,#08fff7,#0afff5,#34ffcb,#73ff8c,#99ff66,#cdff32,#a5ff5a,#c1ff3e,#dfff20,#fffa00,#f0ff0f,#ccff33,#f3ff0c,#eeff11,#d4ff2b,#d3ff2c,#b6ff49,#d2ff2d,#beff41,#98ff67,#c1ff3e,#aaff55,#90ff6f,#6cff93,#6aff95,#45ffba,#2effd1,#3fffc0,#11ffee,#00d7ff,#00c3ff,#00a9ff,#0098ff,#0085ff,#009aff,#009dff,#008aff,#008dff,#00baff,#009cff,#008cff,#008eff,#0079ff,#007fff,#005aff,#0061ff,#0083ff,#0061ff,#008cff,#0084ff,#0041ff,#006aff,#007cff,#0057ff,#0069ff,#007fff,#006fff,#0064ff,#0056ff,#0048ff,#0066ff,#0077ff,#006fff,#004cff,#0060ff,#0065ff,#0075ff,#0091ff,#0062ff,#004aff,#003fff,#0047ff)"></i><i style="background:linear-gradient(90deg,#0000d2,#0000d1,#0000c5,#0000f2,#0000f2,#0000e5,#0000ed,#0000e6,#0000cc,#0000dd,#0016ff,#0000fe,#0002ff,#0000e8,#0000cd,#0000ec,#0000ef,#0000e5,#0000ef,#0005ff,#001aff,#0014ff,#0000fc,#0035ff,#0046ff,#004dff,#0081ff,#00d6ff,#00ddff,#07fff8,#39ffc6,#6dff92,#a5ff5a,#80ff7f,#b1ff4e,#cfff30,#ecff13,#d0ff2f,#abff54,#cfff30,#cfff30,#bfff40,#c5ff3a,#aeff51,#d0ff2f,#b8ff47,#a0ff5f,#ccff33,#bbff44,#a5ff5a,#8eff71,#8aff75,#5dffa2,#4fffb0,#5fffa0,#33ffcc,#07fff8,#00e8ff,#00daff,#00cdff,#00b0ff,#00c8ff,#00d5ff,#00bfff,#00d6ff,#0afff5,#00d9ff,#00c1ff,#00c1ff,#00bbff,#00b8ff,#009bff,#00a1ff,#00beff,#0097ff,#00c6ff,#00b5ff,#0078ff,#009fff,#00b8ff,#008bff,#0099ff,#00a5ff,#0093ff,#0090ff,#008dff,#006eff,#008aff,#00a2ff,#0094ff,#007bff,#0095ff,#0085ff,#0091ff,#00b3ff,#008eff,#0072ff,#0061ff,#0066ff)"></i><i style="background:linear-gradient(90deg,#0000ca,#0000c7,#0000c0,#0000ea,#0000f1,#0000ea,#0000e8,#0000ec,#0000da,#0000d6,#0007ff,#0000fb,#0000f3,#0000ed,#0000c3,#0000dc,#0000e7,#0000e4,#0000f5,#000dff,#0023ff,#0023ff,#000fff,#0037ff,#004dff,#005eff,#0091ff,#00eaff,#00feff,#25ffda,#44ffbb,#71ff8e,#aaff55,#8fff70,#cbff34,#edff12,#f7ff08,#d6ff29,#b6ff49,#c9ff36,#ceff31,#c7ff38,#cbff34,#b2ff4d,#c6ff39,#a2ff5d,#93ff6c,#b3ff4c,#99ff66,#79ff86,#70ff8f,#5fffa0,#24ffdb,#20ffdf,#25ffda,#00fcff,#00e8ff,#00c7ff,#00cdff,#00caff,#00a3ff,#00c5ff,#00cfff,#00baff,#00e0ff,#10ffef,#00d3ff,#00c0ff,#00c2ff,#00c4ff,#00bbff,#00adff,#00b8ff,#00c8ff,#00a5ff,#00d6ff,#00c1ff,#0090ff,#00bbff,#00dbff,#00a9ff,#00b9ff,#00b2ff,#00a7ff,#00b3ff,#00b0ff,#008fff,#00abff,#00c5ff,#00bdff,#00afff,#00cbff,#00aaff,#00a9ff,#00ceff,#00c2ff,#00a2ff,#008fff,#0090ff)"></i><i style="background:linear-gradient(90deg,#0000c8,#0000c5,#0000c1,#0000e7,#0000ed,#0000ed,#0000e0,#0000e6,#0000e3,#0000d7,#0000fa,#0000f4,#0000e4,#0000f2,#0000c9,#0000d8,#0000e8,#0000e8,#0000ff,#0018ff,#0035ff,#0044ff,#0043ff,#006bff,#008dff,#00b3ff,#00edff,#49ffb6,#62ff9d,#7cff83,#8bff74,#a2ff5d,#d9ff26,#ccff33,#fff900,#ffcf00,#ffdb00,#fffc00,#edff12,#e7ff18,#e6ff19,#e4ff1b,#e5ff1a,#ccff33,#c6ff39,#97ff68,#89ff76,#9dff62,#6fff90,#3bffc4,#3effc1,#20ffdf,#00d2ff,#00d4ff,#00c9ff,#00a5ff,#00a6ff,#008bff,#009aff,#009fff,#0071ff,#009bff,#009eff,#008aff,#00b2ff,#00d2ff,#008fff,#008cff,#008eff,#008bff,#0082ff,#0088ff,#0094ff,#0090ff,#007bff,#00a7ff,#0092ff,#006dff,#009dff,#00bfff,#008dff,#00a2ff,#008cff,#0089ff,#00a5ff,#009eff,#007dff,#009cff,#00b8ff,#00bbff,#00b4ff,#00cfff,#00aaff,#009bff,#00bfff,#00cdff,#00acff,#009bff,#009cff)"></i><i style="background:linear-gradient(90deg,#0000cd,#0000c4,#0000c5,#0000ea,#0000eb,#0000f1,#0000d7,#0000da,#0000e9,#0000df,#0000f5,#0000ed,#0000d9,#0000f3,#0000da,#0000e1,#0000f6,#0000f6,#0010ff,#0031ff,#0056ff,#0081ff,#0099ff,#00c4ff,#00e3ff,#0ffff0,#44ffbb,#93ff6c,#aaff55,#baff45,#ceff31,#daff25,#ffe300,#ffe200,#ffb100,#ff7f00,#ff9b00,#ffb000,#ffb700,#ffd700,#ffea00,#ffef00,#fff000,#f6ff09,#daff25,#a3ff5c,#91ff6e,#a5ff5a,#63ff9c,#1dffe2,#26ffd9,#05fffa,#00a9ff,#00a9ff,#0093ff,#0072ff,#0082ff,#006fff,#0077ff,#007fff,#004eff,#0079ff,#0079ff,#006aff,#0086ff,#0091ff,#0050ff,#005aff,#0059ff,#004aff,#0045ff,#005fff,#0063ff,#004aff,#0049ff,#0069ff,#0054ff,#0038ff,#006bff,#0086ff,#0059ff,#006cff,#0052ff,#0051ff,#0075ff,#006dff,#0046ff,#0066ff,#0083ff,#008dff,#0087ff,#009fff,#0080ff,#0065ff,#0085ff,#00a1ff,#0081ff,#0074ff,#0076ff)"></i><i style="background:linear-gradient(90deg,#0000d4,#0000be,#0000c9,#0000ed,#0000ea,#0000f3,#0000cd,#0000d0,#0000ee,#0000e9,#0000f8,#0000eb,#0000d6,#0000f3,#0000ed,#0000f8,#0017ff,#0018ff,#0034ff,#0067ff,#0095ff,#00dcff,#00fbff,#1cffe3,#22ffdd,#4bffb4,#7cff83,#c0ff3f,#dcff23,#eaff15,#fff000,#ffe000,#ff9400,#ff8800,#ff6800,#ff3200,#ff5100,#ff5200,#ff5300,#ff8100,#ffae00,#ffc000,#ffc400,#ffdc00,#f8ff07,#bdff42,#a8ff57,#c8ff37,#7cff83,#2dffd2,#34ffcb,#1dffe2,#00beff,#00b4ff,#0099ff,#0079ff,#008eff,#0079ff,#0071ff,#0077ff,#004aff,#006dff,#006eff,#0069ff,#0074ff,#006eff,#003aff,#0044ff,#003eff,#0028ff,#0027ff,#0054ff,#004aff,#0020ff,#0034ff,#0048ff,#0033ff,#001bff,#0051ff,#0061ff,#003bff,#0045ff,#0034ff,#002eff,#004fff,#004dff,#001dff,#0038ff,#0054ff,#0061ff,#005bff,#006bff,#0058ff,#0035ff,#0051ff,#0067ff,#0049ff,#0040ff,#0047ff)"></i><i style="background:linear-gradient(90deg,#0000d4,#0000af,#0000cb,#0000ee,#0000ea,#0000f0,#0000c4,#0000cd,#0000f1,#0000f1,#0001ff,#0000f1,#0000dd,#0000f5,#0002ff,#001dff,#0042ff,#004bff,#0067ff,#00a5ff,#00cbff,#1dffe2,#32ffcd,#43ffbc,#36ffc9,#64ff9b,#9bff64,#d5ff2a,#fcff03,#fff400,#ffc200,#ffa000,#ff5200,#ff4000,#ff3100,#fb0000,#ff1300,#fb0000,#ff0200,#ff3400,#ff7700,#ff9d00,#ffa700,#ffc300,#fff200,#d3ff2c,#c1ff3e,#eaff15,#9bff64,#4dffb2,#47ffb8,#3effc1,#00e9ff,#00d3ff,#00bbff,#0098ff,#00abff,#008cff,#0076ff,#007cff,#0051ff,#0068ff,#006aff,#006eff,#006eff,#0061ff,#0040ff,#003cff,#0032ff,#001fff,#0021ff,#005aff,#0045ff,#0016ff,#0032ff,#003dff,#002bff,#0017ff,#004fff,#0052ff,#0037ff,#0037ff,#0032ff,#002aff,#0040ff,#0048ff,#000fff,#0023ff,#003dff,#004bff,#004bff,#0051ff,#0048ff,#0024ff,#003cff,#0041ff,#0029ff,#0026ff,#0032ff)"></i><i style="background:linear-gradient(90deg,#0000cd,#00009d,#0000ca,#0000ea,#0000eb,#0000eb,#0000bf,#0000ce,#0000f1,#0000f4,#0008ff,#0000ff,#0000f0,#0000fd,#0015ff,#0046ff,#006aff,#007bff,#0095ff,#00d0ff,#00e8ff,#35ffca,#44ffbb,#4cffb3,#3bffc4,#6cff93,#a8ff57,#d5ff2a,#fff800,#ffed00,#ffb200,#ff7a00,#ff3a00,#ff2700,#ff2200,#ee0000,#f70000,#ce0000,#dc0000,#ff0f00,#ff5d00,#ff9200,#ff9f00,#ffc200,#fff500,#dcff23,#d7ff28,#fcff03,#b1ff4e,#6fff90,#5cffa3,#5effa1,#1fffe0,#00faff,#00e4ff,#00c2ff,#00c9ff,#009cff,#007eff,#0085ff,#0058ff,#0069ff,#0063ff,#0067ff,#0067ff,#005eff,#004dff,#0035ff,#002aff,#0022ff,#0024ff,#005eff,#0046ff,#0020ff,#0034ff,#0036ff,#002bff,#001cff,#0050ff,#0047ff,#003aff,#0038ff,#003bff,#0036ff,#0040ff,#004eff,#0012ff,#001cff,#0034ff,#0040ff,#004cff,#004cff,#0044ff,#0027ff,#003cff,#002fff,#0021ff,#0026ff,#0033ff)"></i><i style="background:linear-gradient(90deg,#0000c2,#000091,#0000c7,#0000e3,#0000ef,#0000ed,#0000c2,#0000d1,#0000f0,#0000f4,#000dff,#0016ff,#0013ff,#0015ff,#0034ff,#0077ff,#0094ff,#00abff,#00c2ff,#00f5ff,#00faff,#3cffc3,#46ffb9,#4bffb4,#40ffbf,#69ff96,#a9ff56,#bfff40,#f3ff0c,#ffff00,#ffc300,#ff7b00,#ff5500,#ff4600,#ff4100,#ff1100,#ff1100,#dd0000,#ea0000,#ff1f00,#ff6d00,#ffa100,#ffae00,#ffd700,#efff10,#d6ff29,#e0ff1f,#f7ff08,#b4ff4b,#8cff73,#6fff90,#75ff8a,#53ffac,#20ffdf,#06fff9,#00eaff,#00e5ff,#00adff,#008aff,#008eff,#005fff,#0071ff,#005fff,#0055ff,#0060ff,#0060ff,#0051ff,#002aff,#0024ff,#0029ff,#002aff,#005bff,#0045ff,#0032ff,#0038ff,#002dff,#0029ff,#0021ff,#004cff,#003bff,#003dff,#0043ff,#0046ff,#004aff,#0047ff,#0053ff,#0018ff,#001dff,#0035ff,#0039ff,#0052ff,#004fff,#003fff,#002fff,#0043ff,#002aff,#0026ff,#0035ff,#003cff)"></i><i style="background:linear-gradient(90deg,#0000b8,#000091,#0000c6,#0000de,#0000f4,#0000f5,#0000cd,#0000d4,#0000f4,#0000fb,#0015ff,#0030ff,#0043ff,#003fff,#005bff,#00a4ff,#00bbff,#00d1ff,#00e1ff,#0cfff3,#03fffc,#37ffc8,#3cffc3,#46ffb9,#45ffba,#5effa1,#9eff61,#99ff66,#c7ff38,#dbff24,#ffec00,#ffa300,#ff9500,#ff8e00,#ff7f00,#ff5700,#ff5700,#ff2200,#ff2600,#ff5b00,#ffa000,#ffc500,#ffcd00,#fffb00,#caff35,#c4ff3b,#d2ff2d,#dcff23,#a5ff5a,#9dff62,#7bff84,#82ff7d,#7fff80,#3bffc4,#1bffe4,#0bfff4,#00fbff,#00bfff,#009fff,#0094ff,#0068ff,#007cff,#0060ff,#0043ff,#005eff,#0068ff,#004dff,#0021ff,#0022ff,#0032ff,#0031ff,#0052ff,#003eff,#0043ff,#003eff,#0023ff,#0025ff,#0021ff,#0043ff,#002eff,#003fff,#004fff,#0050ff,#005bff,#004dff,#0053ff,#001cff,#0025ff,#003cff,#0034ff,#0058ff,#004fff,#0037ff,#0034ff,#004bff,#002eff,#0030ff,#0048ff,#0043ff)"></i><i style="background:linear-gradient(90deg,#0000b4,#00009c,#0000c8,#0000de,#0000f5,#0000fb,#0000dd,#0000d9,#0004ff,#000dff,#0024ff,#004fff,#007bff,#0078ff,#0084ff,#00c6ff,#00daff,#00eaff,#00eeff,#12ffed,#07fff8,#30ffcf,#2bffd4,#40ffbf,#47ffb8,#4affb5,#8eff71,#70ff8f,#94ff6b,#b5ff4a,#e2ff1d,#ffe300,#ffe400,#ffdd00,#ffc500,#ffa800,#ffae00,#ff7d00,#ff7500,#ffa800,#ffde00,#ffec00,#fff200,#e1ff1e,#abff54,#b1ff4e,#b7ff48,#b8ff47,#95ff6a,#a6ff59,#82ff7d,#8aff75,#9fff60,#4dffb2,#2cffd3,#25ffda,#10ffef,#00d6ff,#00beff,#0097ff,#0076ff,#0086ff,#0065ff,#003aff,#0066ff,#0074ff,#0045ff,#001fff,#0026ff,#0039ff,#003cff,#004bff,#0032ff,#004bff,#0042ff,#0019ff,#001eff,#001dff,#0038ff,#0027ff,#003eff,#0053ff,#0054ff,#0063ff,#004fff,#004cff,#001fff,#0030ff,#0042ff,#0031ff,#005bff,#0048ff,#002dff,#0038ff,#0053ff,#0034ff,#0037ff,#0055ff,#0046ff)"></i><i style="background:linear-gradient(90deg,#0000b5,#0000af,#0000d0,#0000e4,#0000f0,#0000f9,#0000ec,#0000e1,#0018ff,#0021ff,#002eff,#0060ff,#009cff,#00a2ff,#009bff,#00cdff,#00e2ff,#00f5ff,#00ebff,#09fff6,#0afff5,#28ffd7,#17ffe8,#3cffc3,#45ffba,#34ffcb,#7bff84,#53ffac,#6cff93,#96ff69,#b4ff4b,#daff25,#d3ff2c,#e4ff1b,#f9ff06,#fff100,#fffd00,#ffd600,#ffc300,#fff200,#e9ff16,#efff10,#e5ff1a,#c4ff3b,#95ff6a,#9fff60,#94ff6b,#97ff68,#8bff74,#a8ff57,#84ff7b,#8eff71,#aeff51,#56ffa9,#3fffc0,#3affc5,#23ffdc,#00f0ff,#00e2ff,#009fff,#008cff,#008fff,#0070ff,#0043ff,#0075ff,#0081ff,#0042ff,#0028ff,#002fff,#003eff,#004aff,#0048ff,#0028ff,#0049ff,#003fff,#0011ff,#0018ff,#0019ff,#0030ff,#0028ff,#0039ff,#004dff,#0050ff,#005eff,#004dff,#0043ff,#0020ff,#0039ff,#0041ff,#002fff,#005cff,#003bff,#0028ff,#003bff,#0059ff,#0036ff,#0036ff,#0057ff,#0046ff)"></i><i style="background:linear-gradient(90deg,#0000b6,#0000c2,#0000da,#0000e8,#0000e7,#0000f2,#0000f6,#0000ea,#0027ff,#0029ff,#0029ff,#005dff,#009eff,#00b4ff,#00a6ff,#00caff,#00dfff,#00fbff,#00ebff,#00fdff,#0ffff0,#21ffde,#0afff5,#3affc5,#41ffbe,#25ffda,#6bff94,#47ffb8,#5cffa3,#81ff7e,#91ff6e,#aaff55,#a6ff59,#c4ff3b,#c8ff37,#d8ff27,#cfff30,#e4ff1b,#fffd00,#d4ff2b,#c9ff36,#d5ff2a,#c1ff3e,#b2ff4d,#8dff72,#92ff6d,#7bff84,#85ff7a,#8fff70,#abff54,#84ff7b,#94ff6b,#afff50,#5fffa0,#5affa5,#52ffad,#38ffc7,#0dfff2,#08fff7,#00b6ff,#00acff,#009fff,#0085ff,#005dff,#0088ff,#0086ff,#0044ff,#0036ff,#003bff,#003fff,#0054ff,#0048ff,#0027ff,#003eff,#0037ff,#000eff,#0015ff,#001dff,#002fff,#002fff,#0031ff,#003fff,#0045ff,#0054ff,#004fff,#0040ff,#0022ff,#003aff,#003bff,#002eff,#005aff,#002fff,#002aff,#003eff,#005bff,#0035ff,#002eff,#004eff,#0045ff)"></i><i style="background:linear-gradient(90deg,#0000b6,#0000cf,#0000e3,#0000eb,#0000df,#0000ef,#0000fb,#0000f8,#0030ff,#0027ff,#0023ff,#0058ff,#0099ff,#00baff,#00b7ff,#00d4ff,#00e2ff,#04fffb,#00f7ff,#00f9ff,#19ffe6,#1fffe0,#0cfff3,#38ffc7,#3fffc0,#23ffdc,#62ff9d,#4cffb3,#60ff9f,#76ff89,#7eff81,#97ff68,#99ff66,#b6ff49,#a6ff59,#bdff42,#bbff44,#b8ff47,#deff21,#b3ff4c,#beff41,#c1ff3e,#a2ff5d,#a5ff5a,#92ff6d,#90ff6f,#74ff8b,#87ff78,#9fff60,#b3ff4c,#8bff74,#9fff60,#aeff51,#72ff8d,#80ff7f,#7fff80,#61ff9e,#3effc1,#4bffb4,#06fff9,#00fdff,#00e5ff,#00cbff,#00a3ff,#00b8ff,#0099ff,#0057ff,#004dff,#004eff,#0048ff,#005aff,#004bff,#0030ff,#0031ff,#002eff,#0014ff,#0019ff,#002aff,#0037ff,#0036ff,#002cff,#0031ff,#0038ff,#004dff,#0057ff,#0043ff,#0025ff,#0036ff,#0038ff,#0031ff,#005aff,#0030ff,#0031ff,#0040ff,#0058ff,#0033ff,#0027ff,#0042ff,#0047ff)"></i><i style="background:linear-gradient(90deg,#0000b9,#0000d4,#0000eb,#0000f2,#0000dc,#0000ef,#0000f9,#0008ff,#002fff,#001dff,#0020ff,#0053ff,#008fff,#00b6ff,#00c7ff,#00edff,#00f1ff,#0dfff2,#0bfff4,#00fdff,#22ffdd,#22ffdd,#19ffe6,#36ffc9,#43ffbc,#2fffd0,#61ff9e,#58ffa7,#6bff94,#71ff8e,#77ff88,#98ff67,#a3ff5c,#b2ff4d,#97ff68,#bbff44,#bcff43,#a2ff5d,#cbff34,#a6ff59,#bfff40,#aeff51,#8bff74,#97ff68,#9cff63,#98ff67,#80ff7f,#97ff68,#b1ff4e,#bfff40,#96ff69,#acff53,#a9ff56,#86ff79,#9eff61,#a7ff58,#7eff81,#58ffa7,#7bff84,#53ffac,#49ffb6,#36ffc9,#21ffde,#04fffb,#06fff9,#00c8ff,#0084ff,#0074ff,#006fff,#0062ff,#0063ff,#0056ff,#0047ff,#002fff,#002bff,#0023ff,#0027ff,#003eff,#0042ff,#003bff,#0029ff,#0025ff,#002bff,#004dff,#0060ff,#0047ff,#0028ff,#0032ff,#003cff,#0039ff,#0061ff,#003eff,#003aff,#003fff,#0052ff,#0032ff,#0029ff,#003eff,#004cff)"></i><i style="background:linear-gradient(90deg,#0000be,#0000d3,#0000ee,#0000fe,#0000df,#0000f2,#0000f5,#0013ff,#0028ff,#0014ff,#0024ff,#0051ff,#0087ff,#00b1ff,#00d2ff,#0dfff2,#0bfff4,#17ffe8,#1effe1,#0afff5,#2cffd3,#29ffd6,#27ffd8,#34ffcb,#50ffaf,#46ffb9,#63ff9c,#61ff9e,#71ff8e,#71ff8e,#78ff87,#9fff60,#b3ff4c,#b1ff4e,#95ff6a,#c5ff3a,#c3ff3c,#9aff65,#c3ff3c,#a5ff5a,#c4ff3b,#a1ff5e,#7fff80,#86ff79,#a2ff5d,#a6ff59,#96ff69,#a8ff57,#bcff43,#ccff33,#a0ff5f,#b3ff4c,#a8ff57,#99ff66,#b4ff4b,#c5ff3a,#90ff6f,#63ff9c,#97ff68,#89ff76,#77ff88,#6dff92,#5effa1,#51ffae,#50ffaf,#0bfff4,#00caff,#00b4ff,#00a6ff,#0099ff,#0081ff,#0075ff,#006cff,#0042ff,#002fff,#0034ff,#003dff,#0051ff,#0049ff,#003dff,#002aff,#0020ff,#0022ff,#004eff,#0066ff,#0049ff,#002bff,#0034ff,#0045ff,#0043ff,#006eff,#004fff,#0043ff,#003eff,#004aff,#0032ff,#002fff,#0043ff,#0051ff)"></i><i style="background:linear-gradient(90deg,#0000c4,#0000cd,#0000ea,#0008ff,#0000e5,#0000f7,#0000f1,#0012ff,#001aff,#0008ff,#001eff,#0044ff,#006fff,#009eff,#00c9ff,#1affe5,#1bffe4,#1effe1,#29ffd6,#1affe5,#35ffca,#2effd1,#2effd1,#34ffcb,#62ff9d,#5fffa0,#67ff98,#64ff9b,#6dff92,#74ff8b,#7aff85,#a0ff5f,#beff41,#b2ff4d,#96ff69,#ccff33,#c4ff3b,#a0ff5f,#c4ff3b,#a7ff58,#c7ff38,#a1ff5e,#84ff7b,#7aff85,#a4ff5b,#b7ff48,#aaff55,#afff50,#c0ff3f,#d6ff29,#a6ff59,#b3ff4c,#acff53,#abff54,#c3ff3c,#d6ff29,#9bff64,#6dff92,#a7ff58,#abff54,#92ff6d,#8eff71,#85ff7a,#7dff82,#7dff82,#44ffbb,#0afff5,#00fcff,#00eeff,#00ecff,#00c0ff,#00b2ff,#00a4ff,#0072ff,#0045ff,#0049ff,#0056ff,#0060ff,#004bff,#0040ff,#0030ff,#0021ff,#001dff,#004aff,#0063ff,#0047ff,#002bff,#0037ff,#004aff,#004aff,#007cff,#0056ff,#0047ff,#003dff,#0043ff,#0034ff,#0034ff,#004aff,#0051ff)"></i><i style="background:linear-gradient(90deg,#0000c6,#0000c5,#0000e0,#0008ff,#0000ee,#0000ff,#0000f5,#0009ff,#000eff,#0000fc,#000fff,#002fff,#0049ff,#007cff,#00adff,#07fff8,#13ffec,#1affe5,#2affd5,#2affd5,#40ffbf,#32ffcd,#2fffd0,#38ffc7,#70ff8f,#70ff8f,#6eff91,#63ff9c,#61ff9e,#77ff88,#7fff80,#9cff63,#c6ff39,#b4ff4b,#96ff69,#c9ff36,#beff41,#adff52,#c9ff36,#a8ff57,#c9ff36,#b1ff4e,#95ff6a,#78ff87,#a5ff5a,#c5ff3a,#b6ff49,#aaff55,#beff41,#deff21,#abff54,#adff52,#b7ff48,#beff41,#cdff32,#d8ff27,#a4ff5b,#7dff82,#b2ff4d,#bfff40,#a3ff5c,#a3ff5c,#a3ff5c,#91ff6e,#94ff6b,#67ff98,#31ffce,#33ffcc,#31ffce,#40ffbf,#15ffea,#08fff7,#00efff,#00c3ff,#007bff,#0071ff,#0076ff,#0072ff,#0054ff,#0049ff,#003dff,#002cff,#0020ff,#0042ff,#005aff,#0044ff,#0028ff,#0036ff,#0046ff,#004cff,#0085ff,#0052ff,#0045ff,#0039ff,#003eff,#003cff,#0036ff,#0048ff,#0049ff)"></i><i style="background:linear-gradient(90deg,#0000c1,#0000ba,#0000d4,#0000fa,#0000fd,#000dff,#0001ff,#0003ff,#0009ff,#0000f7,#0003ff,#0020ff,#0029ff,#005bff,#008cff,#00dfff,#00f5ff,#08fff7,#21ffde,#31ffce,#46ffb9,#32ffcd,#2fffd0,#3effc1,#74ff8b,#73ff8c,#77ff88,#60ff9f,#50ffaf,#73ff8c,#84ff7b,#99ff66,#cdff32,#b7ff48,#98ff67,#c3ff3c,#b7ff48,#beff41,#ccff33,#acff53,#c8ff37,#c6ff39,#a7ff58,#7fff80,#a7ff58,#cfff30,#bcff43,#a4ff5b,#baff45,#e2ff1d,#b4ff4b,#aaff55,#c6ff39,#d1ff2e,#d1ff2e,#d2ff2d,#afff50,#93ff6c,#beff41,#cbff34,#b1ff4e,#b1ff4e,#bbff44,#99ff66,#a1ff5e,#7eff81,#48ffb7,#54ffab,#63ff9c,#7cff83,#5effa1,#52ffad,#37ffc8,#24ffdb,#00d4ff,#00baff,#00abff,#009cff,#0076ff,#0063ff,#0059ff,#0044ff,#002eff,#003eff,#0052ff,#003fff,#0026ff,#0031ff,#003cff,#004cff,#0081ff,#0049ff,#0040ff,#0034ff,#003bff,#0046ff,#0036ff,#003dff,#0039ff)"></i><i style="background:linear-gradient(90deg,#0000b7,#0000ac,#0000ca,#0000e9,#000dff,#0017ff,#000fff,#0002ff,#0003ff,#0000f3,#0000fa,#0017ff,#0012ff,#003cff,#0066ff,#00b0ff,#00cdff,#00e5ff,#0bfff4,#2affd5,#42ffbd,#2cffd3,#33ffcc,#43ffbc,#6bff94,#6cff93,#7bff84,#59ffa6,#3effc1,#63ff9c,#87ff78,#97ff68,#d2ff2d,#c0ff3f,#a2ff5d,#c0ff3f,#b6ff49,#d0ff2f,#c8ff37,#b3ff4c,#c7ff38,#d4ff2b,#b2ff4d,#8dff72,#adff52,#d1ff2e,#bfff40,#a5ff5a,#b6ff49,#dfff20,#c1ff3e,#acff53,#d3ff2c,#dfff20,#cfff30,#cdff32,#bbff44,#aaff55,#cdff32,#d5ff2a,#bdff42,#b8ff47,#c7ff38,#9eff61,#a9ff56,#8eff71,#5bffa4,#68ff97,#8bff74,#a1ff5e,#8eff71,#7bff84,#63ff9c,#6eff91,#30ffcf,#19ffe6,#00fbff,#00e5ff,#00bcff,#0099ff,#008dff,#006fff,#004aff,#0047ff,#0053ff,#003dff,#002bff,#0030ff,#0034ff,#004bff,#0072ff,#0043ff,#003fff,#0033ff,#0039ff,#004eff,#003bff,#0031ff,#0026ff)"></i></div>
<div class="hm" style="left:118px;top:260px;width:122px;height:154px"><i style="background:linear-gradient(90deg,#0000ea,#0000c1,#0000d9,#0000c3,#0000d0,#0000d5,#0000b2,#0000d5,#0000fd,#003bff,#0043ff,#0041ff,#005dff,#004bff,#006aff,#0081ff,#00acff,#00bfff,#0dfff2,#25ffda,#3bffc4,#59ffa6,#66ff99,#8bff74,#c8ff37,#faff05,#ffcb00,#ffd000,#ffa800,#ff5800,#ff2f00,#ff0e00,#ef0000,#e50000,#c10000,#b80000,#ea0000,#f50000,#ff1300,#ff5200,#ff9c00,#ffb500,#ffc800,#fff600,#c1ff3e,#94ff6b,#67ff98,#63ff9c,#59ffa6,#77ff88,#49ffb6,#1effe1,#30ffcf,#16ffe9,#00fbff,#00f5ff,#00eeff,#00bdff,#00d3ff,#00b8ff,#00afff,#00b2ff,#00a8ff,#0093ff,#0088ff,#00b3ff,#00c2ff,#00a6ff,#0094ff,#0092ff,#009fff,#00b6ff,#00ccff,#00b6ff,#00b8ff,#00c2ff,#00bbff,#00a8ff,#00b4ff,#00b1ff,#00e7ff,#00d5ff,#00c8ff,#00c2ff,#009bff,#009dff,#009aff,#009dff,#00c9ff,#00beff,#00b9ff,#00b9ff,#00aaff,#00b8ff,#00bbff,#009fff,#00cbff,#00e0ff,#00dbff)"></i><i style="background:linear-gradient(90deg,#0000e5,#0000be,#0000de,#0000c9,#0000cc,#0000c9,#0000be,#0000dc,#0000ea,#0037ff,#0050ff,#004fff,#0060ff,#004cff,#006bff,#007fff,#00aaff,#00c4ff,#16ffe9,#2cffd3,#30ffcf,#51ffae,#60ff9f,#84ff7b,#bcff43,#fdff02,#ffd500,#ffd900,#ffa500,#ff5400,#ff2b00,#fe0000,#e40000,#e30000,#c90000,#b80000,#ed0000,#ff0400,#ff1a00,#ff5800,#ffa700,#ffbb00,#ffd100,#ffed00,#ccff33,#97ff68,#6cff93,#54ffab,#5fffa0,#7eff81,#47ffb8,#26ffd9,#34ffcb,#1dffe2,#00ffff,#00f3ff,#00efff,#00c8ff,#00ccff,#00b4ff,#00bdff,#00bcff,#00a6ff,#0097ff,#0095ff,#00b5ff,#00c8ff,#009aff,#0096ff,#00a1ff,#00a5ff,#00bbff,#00cfff,#00baff,#00b9ff,#00beff,#00bbff,#00aaff,#00b8ff,#00b5ff,#00e2ff,#00d1ff,#00ceff,#00c0ff,#0095ff,#00a8ff,#00a4ff,#009dff,#00d0ff,#00c5ff,#00bbff,#00b3ff,#00a2ff,#00b7ff,#00c6ff,#00a9ff,#00d3ff,#00dfff,#00e3ff)"></i><i style="background:linear-gradient(90deg,#0000db,#0000c0,#0000e0,#0000ca,#0000c6,#0000c4,#0000d2,#0000e3,#0000dc,#002eff,#0059ff,#0056ff,#0064ff,#005aff,#0071ff,#0080ff,#00a5ff,#00cfff,#1dffe2,#35ffca,#2affd5,#4dffb2,#62ff9d,#81ff7e,#b3ff4c,#f7ff08,#ffe500,#ffe300,#ffa900,#ff5a00,#ff2600,#f40000,#d60000,#dc0000,#cd0000,#c10000,#ee0000,#ff0e00,#ff1d00,#ff5e00,#ffb200,#ffbb00,#ffd700,#ffe900,#d0ff2f,#9bff64,#71ff8e,#48ffb7,#63ff9c,#7dff82,#45ffba,#2cffd3,#34ffcb,#21ffde,#08fff7,#00f5ff,#00efff,#00d7ff,#00c5ff,#00b7ff,#00cfff,#00c4ff,#00abff,#009dff,#00a7ff,#00b9ff,#00c8ff,#008dff,#0092ff,#00acff,#00a8ff,#00beff,#00ceff,#00bfff,#00b6ff,#00b1ff,#00b9ff,#00adff,#00b9ff,#00bbff,#00d7ff,#00c9ff,#00cbff,#00bbff,#0094ff,#00aeff,#00a9ff,#00a2ff,#00d6ff,#00ccff,#00b7ff,#00adff,#009dff,#00b6ff,#00d3ff,#00b8ff,#00e1ff,#00e2ff,#00e6ff)"></i><i style="background:linear-gradient(90deg,#0000d5,#0000c7,#0000df,#0000c6,#0000c0,#0000c8,#0000e7,#0000e8,#0000d7,#0027ff,#005dff,#0055ff,#0065ff,#006cff,#0079ff,#0083ff,#00a2ff,#00deff,#22ffdd,#3dffc2,#2cffd3,#50ffaf,#6fff90,#82ff7d,#aeff51,#ecff13,#fff100,#ffe600,#ffb000,#ff6600,#ff2200,#ef0000,#cc0000,#d30000,#c90000,#cf0000,#f40000,#ff1100,#ff1e00,#ff6300,#ffb300,#ffb300,#ffd800,#ffea00,#caff35,#a1ff5e,#76ff89,#42ffbd,#63ff9c,#71ff8e,#45ffba,#2fffd0,#30ffcf,#21ffde,#0ffff0,#00f6ff,#00e9ff,#00deff,#00bcff,#00bfff,#00ddff,#00caff,#00b4ff,#00a4ff,#00b7ff,#00bfff,#00c4ff,#0080ff,#0080ff,#00acff,#00a8ff,#00beff,#00cdff,#00c4ff,#00afff,#009dff,#00b7ff,#00aeff,#00b7ff,#00bbff,#00c8ff,#00c1ff,#00c8ff,#00bdff,#0099ff,#00acff,#00a6ff,#00a8ff,#00d8ff,#00cfff,#00acff,#00a8ff,#00a1ff,#00b5ff,#00ddff,#00c5ff,#00efff,#00e9ff,#00e5ff)"></i><i style="background:linear-gradient(90deg,#0000d5,#0000cf,#0000df,#0000c0,#0000bf,#0000d5,#0000f5,#0000eb,#0000dc,#0025ff,#005eff,#004eff,#0061ff,#0076ff,#007dff,#0087ff,#00a3ff,#00e8ff,#21ffde,#43ffbc,#34ffcb,#55ffaa,#80ff7f,#88ff77,#b0ff4f,#e6ff19,#fff600,#ffe200,#ffb400,#ff7200,#ff1f00,#ee0000,#cb0000,#cd0000,#c30000,#de0000,#fd0000,#ff0e00,#ff1f00,#ff6400,#ffa600,#ffa800,#ffd600,#ffee00,#c2ff3d,#a9ff56,#7bff84,#44ffbb,#60ff9f,#5dffa2,#49ffb6,#30ffcf,#2cffd3,#21ffde,#11ffee,#00f0ff,#00dbff,#00d6ff,#00afff,#00c7ff,#00e0ff,#00cbff,#00bdff,#00adff,#00c3ff,#00c6ff,#00bfff,#0076ff,#0067ff,#009fff,#00a7ff,#00baff,#00ceff,#00cbff,#00a8ff,#008bff,#00b3ff,#00adff,#00b3ff,#00baff,#00bcff,#00bdff,#00caff,#00c7ff,#009eff,#00a2ff,#00a4ff,#00b0ff,#00d5ff,#00c9ff,#009aff,#00a7ff,#00b1ff,#00b4ff,#00dcff,#00c9ff,#00f4ff,#00f0ff,#00e3ff)"></i><i style="background:linear-gradient(90deg,#0000d8,#0000d3,#0000e2,#0000bd,#0000c2,#0000e3,#0000f2,#0000ea,#0000e8,#0024ff,#005bff,#0045ff,#0057ff,#0072ff,#007cff,#008cff,#00a8ff,#00eaff,#19ffe6,#47ffb8,#3fffc0,#56ffa9,#8eff71,#90ff6f,#b5ff4a,#e8ff17,#fff300,#ffd400,#ffb000,#ff7700,#ff1f00,#f10000,#d00000,#cf0000,#c00000,#e70000,#ff0600,#ff0d00,#ff2300,#ff6400,#ff9500,#ffa600,#ffd400,#fff400,#bbff44,#afff50,#7eff81,#4bffb4,#56ffa9,#49ffb6,#4cffb3,#2fffd0,#27ffd8,#22ffdd,#11ffee,#00e6ff,#00ccff,#00c8ff,#00a3ff,#00c6ff,#00d9ff,#00c6ff,#00c2ff,#00b7ff,#00caff,#00c9ff,#00b8ff,#0072ff,#0055ff,#0092ff,#00a6ff,#00b5ff,#00cfff,#00d5ff,#00a3ff,#0081ff,#00aeff,#00aaff,#00b2ff,#00bdff,#00b8ff,#00bbff,#00ceff,#00d2ff,#009eff,#0096ff,#00a9ff,#00baff,#00d0ff,#00bbff,#0089ff,#00abff,#00c8ff,#00b2ff,#00d2ff,#00c3ff,#00eeff,#00f3ff,#00dfff)"></i><i style="background:linear-gradient(90deg,#0000d6,#0000d0,#0000e5,#0000bb,#0000c1,#0000e8,#0000e3,#0000e9,#0000f6,#0021ff,#0053ff,#003cff,#004dff,#0064ff,#0079ff,#0093ff,#00adff,#00e6ff,#0efff1,#4bffb4,#47ffb8,#51ffae,#92ff6d,#96ff69,#baff45,#f0ff0f,#ffec00,#ffc200,#ffa300,#ff7300,#ff2000,#f70000,#d80000,#d60000,#c60000,#e60000,#ff0800,#ff1200,#ff2d00,#ff6700,#ff8c00,#ffb000,#ffd800,#fffc00,#b3ff4c,#acff53,#80ff7f,#53ffac,#4affb5,#3effc1,#4cffb3,#2bffd4,#23ffdc,#29ffd6,#11ffee,#00e0ff,#00c4ff,#00bdff,#009cff,#00bdff,#00cfff,#00bfff,#00c1ff,#00bdff,#00cbff,#00c0ff,#00abff,#0079ff,#0055ff,#008cff,#00a7ff,#00b4ff,#00d1ff,#00dbff,#00a0ff,#007aff,#00a9ff,#00a8ff,#00b1ff,#00c7ff,#00b8ff,#00b8ff,#00cdff,#00d3ff,#009aff,#0090ff,#00b2ff,#00beff,#00ccff,#00abff,#007dff,#00b2ff,#00dcff,#00b3ff,#00c5ff,#00bbff,#00dfff,#00eeff,#00d3ff)"></i><i style="background:linear-gradient(90deg,#0000ce,#0000cc,#0000e4,#0000be,#0000bb,#0000e6,#0000d6,#0000ec,#0005ff,#001bff,#0046ff,#0036ff,#0046ff,#0053ff,#0074ff,#009bff,#00b1ff,#00e2ff,#03fffc,#4cffb3,#47ffb8,#46ffb9,#8dff72,#9aff65,#bcff43,#f6ff09,#ffe600,#ffb300,#ff9700,#ff7000,#ff2500,#ff0800,#e80000,#e70000,#db0000,#e20000,#ff0a00,#ff2500,#ff4300,#ff7300,#ff9600,#ffc600,#ffe300,#f8ff07,#abff54,#a0ff5f,#81ff7e,#5cffa3,#42ffbd,#3fffc0,#49ffb6,#27ffd8,#21ffde,#31ffce,#15ffea,#00e4ff,#00c9ff,#00baff,#009bff,#00b3ff,#00cbff,#00bbff,#00b8ff,#00bbff,#00c6ff,#00adff,#009cff,#008bff,#0068ff,#008fff,#00aaff,#00baff,#00d5ff,#00d8ff,#009bff,#0077ff,#00aaff,#00a9ff,#00aeff,#00d1ff,#00baff,#00b3ff,#00c8ff,#00c6ff,#0095ff,#0091ff,#00b5ff,#00b7ff,#00cbff,#00a1ff,#007aff,#00b7ff,#00e8ff,#00baff,#00c0ff,#00b9ff,#00ceff,#00e4ff,#00c3ff)"></i><i style="background:linear-gradient(90deg,#0000c8,#0000cc,#0000de,#0000c7,#0000b6,#0000e3,#0000d8,#0000f4,#0011ff,#0013ff,#0039ff,#0030ff,#0042ff,#0046ff,#006cff,#00a3ff,#00b5ff,#00e1ff,#00fcff,#4cffb3,#43ffbc,#41ffbe,#86ff79,#a2ff5d,#c1ff3e,#f8ff07,#ffde00,#ffa800,#ff8f00,#ff6e00,#ff2900,#ff1b00,#fc0000,#f50000,#f10000,#db0000,#ff0800,#ff3800,#ff5c00,#ff8400,#ffae00,#ffdd00,#fff100,#f0ff0f,#a4ff5b,#92ff6d,#82ff7d,#66ff99,#41ffbe,#4affb5,#46ffb9,#25ffda,#1cffe3,#35ffca,#1dffe2,#00f1ff,#00d5ff,#00bcff,#009eff,#00afff,#00d1ff,#00beff,#00acff,#00b2ff,#00bdff,#009cff,#0092ff,#00a3ff,#0082ff,#0098ff,#00aeff,#00c5ff,#00daff,#00cdff,#0098ff,#007bff,#00b4ff,#00acff,#00a5ff,#00d7ff,#00bfff,#00b4ff,#00c5ff,#00b5ff,#0092ff,#0095ff,#00b2ff,#00a8ff,#00ccff,#00a1ff,#0081ff,#00baff,#00edff,#00c7ff,#00c4ff,#00c1ff,#00c2ff,#00d9ff,#00b9ff)"></i><i style="background:linear-gradient(90deg,#0000c7,#0000cc,#0000d4,#0000d5,#0000b7,#0000e2,#0000e7,#0000fd,#0017ff,#000bff,#002fff,#002cff,#003fff,#0043ff,#0068ff,#00a7ff,#00b9ff,#00e1ff,#00fcff,#4affb5,#43ffbc,#45ffba,#81ff7e,#aeff51,#cdff32,#f6ff09,#ffd600,#ffa300,#ff8d00,#ff7000,#ff2e00,#ff2d00,#ff0d00,#fc0000,#ff0100,#d90000,#ff0500,#ff4400,#ff6f00,#ff9200,#ffc800,#fff000,#fdff02,#e7ff18,#9eff61,#84ff7b,#82ff7d,#70ff8f,#45ffba,#53ffac,#45ffba,#22ffdd,#12ffed,#31ffce,#25ffda,#01fffe,#00e0ff,#00c2ff,#00a5ff,#00b5ff,#00ddff,#00c9ff,#00a5ff,#00acff,#00b6ff,#0099ff,#0096ff,#00baff,#0099ff,#00a3ff,#00b3ff,#00d2ff,#00ddff,#00c4ff,#009cff,#008cff,#00c3ff,#00aeff,#009dff,#00d5ff,#00c9ff,#00c1ff,#00c9ff,#00aeff,#0097ff,#009dff,#00b2ff,#009dff,#00ccff,#00abff,#0090ff,#00c0ff,#00f1ff,#00daff,#00d1ff,#00d3ff,#00c5ff,#00d2ff,#00bdff)"></i><i style="background:linear-gradient(90deg,#0000cb,#0000c7,#0000ca,#0000e0,#0000bb,#0000e3,#0000f3,#0000ff,#0016ff,#000cff,#002cff,#002aff,#003fff,#004dff,#0072ff,#00acff,#00bfff,#00e8ff,#05fffa,#49ffb6,#4bffb4,#52ffad,#81ff7e,#b8ff47,#dbff24,#f4ff0b,#ffcf00,#ffa700,#ff9200,#ff7200,#ff3500,#ff3700,#ff1500,#ff0000,#ff0500,#e10000,#ff0600,#ff4500,#ff7b00,#ff9a00,#ffdb00,#fffc00,#efff10,#dfff20,#97ff68,#77ff88,#7eff81,#73ff8c,#47ffb8,#51ffae,#43ffbc,#1effe1,#08fff7,#27ffd8,#2cffd3,#0cfff3,#00e7ff,#00caff,#00b3ff,#00c7ff,#00efff,#00d9ff,#00adff,#00b5ff,#00b8ff,#00aaff,#00abff,#00d0ff,#00adff,#00afff,#00bcff,#00dcff,#00deff,#00c6ff,#00abff,#00aaff,#00d5ff,#00b3ff,#009dff,#00d3ff,#00d5ff,#00d7ff,#00d5ff,#00b9ff,#00a8ff,#00aeff,#00bcff,#00a2ff,#00ceff,#00b9ff,#00a8ff,#00d1ff,#00f8ff,#00efff,#00e7ff,#00edff,#00d7ff,#00d6ff,#00d1ff)"></i><i style="background:linear-gradient(90deg,#0000cd,#0000c1,#0000c5,#0000e0,#0000c0,#0000e3,#0000f4,#0000fb,#0012ff,#0018ff,#002fff,#0029ff,#0044ff,#005fff,#008dff,#00b8ff,#00c9ff,#00f5ff,#14ffeb,#4bffb4,#59ffa6,#60ff9f,#81ff7e,#bcff43,#e2ff1d,#f3ff0c,#ffcc00,#ffb000,#ff9a00,#ff7000,#ff3800,#ff3800,#ff1900,#ff0400,#ff0600,#f20000,#ff0e00,#ff4000,#ff8200,#ffa000,#ffe400,#fcff03,#ebff14,#d7ff28,#8cff73,#6cff93,#77ff88,#6eff91,#43ffbc,#48ffb7,#40ffbf,#1affe5,#02fffd,#1bffe4,#2cffd3,#10ffef,#00e9ff,#00d1ff,#00c3ff,#00deff,#00feff,#00e5ff,#00beff,#00c4ff,#00c1ff,#00c3ff,#00c9ff,#00deff,#00bbff,#00b7ff,#00c3ff,#00deff,#00daff,#00d0ff,#00bfff,#00c6ff,#00e3ff,#00baff,#00a6ff,#00cfff,#00dbff,#00e8ff,#00dfff,#00caff,#00bfff,#00c2ff,#00caff,#00aeff,#00ccff,#00c2ff,#00bfff,#00e7ff,#03fffc,#00ffff,#00fbff,#07fff8,#00ebff,#00deff,#00e8ff)"></i><i style="background:linear-gradient(90deg,#0000cb,#0000bd,#0000c5,#0000d8,#0000c9,#0000e5,#0000ed,#0000f7,#000eff,#0026ff,#0033ff,#0028ff,#004eff,#0070ff,#00a9ff,#00c8ff,#00d6ff,#05fffa,#23ffdc,#4bffb4,#63ff9c,#64ff9b,#7dff82,#b8ff47,#deff21,#f6ff09,#ffcd00,#ffb800,#ffa600,#ff7000,#ff3600,#ff3400,#ff1d00,#ff0c00,#ff0700,#ff0600,#ff1c00,#ff3c00,#ff8600,#ffa500,#ffe500,#fcff03,#f0ff0f,#d1ff2e,#83ff7c,#67ff98,#73ff8c,#65ff9a,#40ffbf,#42ffbd,#3dffc2,#18ffe7,#01fffe,#11ffee,#23ffdc,#0afff5,#00e6ff,#00cfff,#00c5ff,#00e7ff,#01fffe,#00e0ff,#00c4ff,#00c6ff,#00c2ff,#00d0ff,#00d8ff,#00d9ff,#00baff,#00afff,#00baff,#00d0ff,#00c7ff,#00cfff,#00c4ff,#00ceff,#00ddff,#00b8ff,#00a6ff,#00c2ff,#00d0ff,#00e6ff,#00daff,#00ceff,#00c8ff,#00ccff,#00cdff,#00adff,#00baff,#00b6ff,#00c0ff,#00ebff,#02fffd,#00fcff,#00feff,#0efff1,#00eaff,#00dcff,#00ecff)"></i><i style="background:linear-gradient(90deg,#0000c8,#0000c0,#0000c6,#0000d2,#0000d7,#0000eb,#0000e8,#0000fa,#000cff,#002bff,#0034ff,#0027ff,#005cff,#007aff,#00b8ff,#00d3ff,#00e0ff,#11ffee,#2effd1,#49ffb6,#64ff9b,#61ff9e,#72ff8d,#aeff51,#d7ff28,#f7ff08,#ffd300,#ffc000,#ffb700,#ff7a00,#ff3800,#ff3300,#ff2700,#ff1700,#ff0d00,#ff1400,#ff2d00,#ff4200,#ff8500,#ffa900,#ffdc00,#fffc00,#faff05,#cdff32,#81ff7e,#6fff90,#76ff89,#60ff9f,#45ffba,#46ffb9,#41ffbe,#1bffe4,#03fffc,#08fff7,#14ffeb,#01fffe,#00e0ff,#00c4ff,#00b7ff,#00dbff,#00f3ff,#00ceff,#00bfff,#00b9ff,#00baff,#00ccff,#00d6ff,#00c3ff,#00b0ff,#009cff,#00a4ff,#00bbff,#00acff,#00bfff,#00bcff,#00c0ff,#00c7ff,#00aaff,#009eff,#00b0ff,#00bfff,#00d7ff,#00c9ff,#00c3ff,#00c4ff,#00cdff,#00c3ff,#009cff,#009dff,#009cff,#00a9ff,#00dbff,#00f4ff,#00ebff,#00edff,#00ffff,#00d4ff,#00cfff,#00dcff)"></i><i style="background:linear-gradient(90deg,#0000c4,#0000c4,#0000c3,#0000d0,#0000e4,#0000f1,#0000e8,#0002ff,#0009ff,#0025ff,#0033ff,#002cff,#0068ff,#007eff,#00b7ff,#00d1ff,#00dfff,#15ffea,#33ffcc,#41ffbe,#5bffa4,#5bffa4,#60ff9f,#9dff62,#cdff32,#efff10,#ffe800,#ffd100,#ffd300,#ff9600,#ff4c00,#ff3e00,#ff3600,#ff2200,#ff1700,#ff1700,#ff3600,#ff4c00,#ff7c00,#ff9f00,#ffc400,#ffec00,#fff900,#d0ff2f,#8eff71,#86ff79,#83ff7c,#68ff97,#58ffa7,#58ffa7,#50ffaf,#23ffdc,#0bfff4,#05fffa,#0dfff2,#02fffd,#00e1ff,#00bcff,#00a6ff,#00c7ff,#00e3ff,#00c0ff,#00b9ff,#00aeff,#00b2ff,#00c1ff,#00cfff,#00b1ff,#00aeff,#0090ff,#0095ff,#00adff,#0099ff,#00afff,#00b2ff,#00adff,#00b0ff,#009cff,#0098ff,#00aaff,#00bbff,#00cdff,#00bdff,#00bdff,#00c2ff,#00d2ff,#00bfff,#008fff,#0086ff,#0087ff,#008dff,#00c2ff,#00e8ff,#00deff,#00d9ff,#00eeff,#00c0ff,#00c4ff,#00ceff)"></i><i style="background:linear-gradient(90deg,#0000bc,#0000c1,#0000ba,#0000d0,#0000e6,#0000f7,#0000eb,#0007ff,#0004ff,#0019ff,#0035ff,#003aff,#006fff,#007eff,#00abff,#00c4ff,#00d9ff,#12ffed,#32ffcd,#39ffc6,#50ffaf,#5affa5,#53ffac,#8eff71,#c6ff39,#e0ff1f,#fbff04,#ffe900,#ffed00,#ffb600,#ff6900,#ff4f00,#ff4800,#ff3100,#ff2a00,#ff1900,#ff3d00,#ff5f00,#ff7800,#ff9400,#ffb000,#ffe000,#fff600,#d2ff2d,#9bff64,#9fff60,#91ff6e,#72ff8d,#6aff95,#67ff98,#58ffa7,#29ffd6,#14ffeb,#03fffc,#0dfff2,#0cfff3,#00ebff,#00c0ff,#00a0ff,#00bbff,#00d7ff,#00baff,#00b6ff,#00aaff,#00acff,#00b0ff,#00c4ff,#00abff,#00b7ff,#008fff,#0090ff,#00aaff,#0092ff,#00a6ff,#00a8ff,#009aff,#00a2ff,#0094ff,#0095ff,#00adff,#00c2ff,#00c9ff,#00baff,#00bfff,#00caff,#00ddff,#00c3ff,#008eff,#007eff,#007bff,#007bff,#00acff,#00dfff,#00daff,#00caff,#00e0ff,#00bbff,#00beff,#00c6ff)"></i><i style="background:linear-gradient(90deg,#0000ad,#0000b2,#0000ad,#0000ce,#0000e0,#0000fd,#0000ef,#0005ff,#0000fb,#000fff,#003cff,#0048ff,#006dff,#0077ff,#0097ff,#00b3ff,#00d4ff,#0afff5,#26ffd9,#2cffd3,#47ffb8,#5bffa4,#52ffad,#84ff7b,#bdff42,#cdff32,#dfff20,#f7ff08,#fbff04,#ffcf00,#ff8500,#ff6200,#ff5c00,#ff4500,#ff4200,#ff1f00,#ff4100,#ff7100,#ff7c00,#ff8b00,#ffa900,#ffdb00,#fffa00,#d2ff2d,#a5ff5a,#b2ff4d,#9cff63,#76ff89,#70ff8f,#6bff94,#51ffae,#2affd5,#1fffe0,#01fffe,#0ffff0,#15ffea,#00f9ff,#00cbff,#00a4ff,#00bcff,#00d1ff,#00baff,#00b0ff,#00acff,#00a4ff,#009aff,#00b3ff,#00abff,#00c1ff,#0090ff,#0090ff,#00aaff,#0091ff,#00a1ff,#009aff,#0088ff,#009bff,#0091ff,#008fff,#00adff,#00c8ff,#00c3ff,#00b9ff,#00c0ff,#00d2ff,#00e5ff,#00c5ff,#0091ff,#007dff,#0073ff,#0076ff,#00a1ff,#00d1ff,#00d7ff,#00c1ff,#00d3ff,#00bfff,#00bbff,#00c0ff)"></i><i style="background:linear-gradient(90deg,#00009e,#00009f,#00009f,#0000ca,#0000d9,#0008ff,#0000f2,#0000fc,#0000f4,#000cff,#0043ff,#004aff,#0066ff,#006eff,#0084ff,#00a8ff,#00d7ff,#00fcff,#12ffed,#1bffe4,#43ffbc,#5bffa4,#59ffa6,#83ff7c,#b2ff4d,#beff41,#caff35,#dbff24,#efff10,#ffd900,#ff9200,#ff7100,#ff6900,#ff5600,#ff5600,#ff2900,#ff4400,#ff7a00,#ff8600,#ff8900,#ffad00,#ffd700,#feff01,#d3ff2c,#acff53,#bdff42,#a5ff5a,#72ff8d,#68ff97,#64ff9b,#41ffbe,#28ffd7,#25ffda,#00fdff,#0bfff4,#15ffea,#04fffb,#00d8ff,#00afff,#00c7ff,#00cfff,#00bdff,#00a9ff,#00aeff,#009eff,#008aff,#00a2ff,#00aaff,#00c6ff,#008fff,#0091ff,#00abff,#0096ff,#009cff,#008dff,#0078ff,#009bff,#0092ff,#0084ff,#00a0ff,#00c5ff,#00b8ff,#00b4ff,#00bcff,#00d1ff,#00e6ff,#00c0ff,#0092ff,#007fff,#006aff,#0080ff,#00a1ff,#00beff,#00cfff,#00b9ff,#00c4ff,#00c5ff,#00b7ff,#00b9ff)"></i><i style="background:linear-gradient(90deg,#000098,#000091,#000093,#0000c4,#0000d7,#000eff,#0000f2,#0000f1,#0000ef,#000cff,#0043ff,#003dff,#005cff,#0066ff,#0073ff,#00a3ff,#00d7ff,#00e9ff,#00f8ff,#0bfff4,#40ffbf,#55ffaa,#62ff9d,#88ff77,#a8ff57,#baff45,#c4ff3b,#d0ff2f,#f6ff09,#ffcc00,#ff8700,#ff6c00,#ff6300,#ff5400,#ff5200,#ff2b00,#ff3d00,#ff6e00,#ff8600,#ff8700,#ffad00,#ffca00,#fffb00,#daff25,#b8ff47,#c6ff39,#abff54,#71ff8e,#5dffa2,#58ffa7,#33ffcc,#23ffdc,#28ffd7,#00feff,#05fffa,#0bfff4,#01fffe,#00e1ff,#00bbff,#00d4ff,#00ceff,#00c0ff,#00a3ff,#00b4ff,#00a1ff,#0088ff,#0098ff,#00a6ff,#00c1ff,#0092ff,#0094ff,#00abff,#009cff,#0093ff,#0087ff,#0072ff,#009fff,#0097ff,#007bff,#008dff,#00bbff,#00acff,#00abff,#00b4ff,#00c3ff,#00e2ff,#00b5ff,#008fff,#0081ff,#0064ff,#008eff,#00a7ff,#00abff,#00cbff,#00b6ff,#00b8ff,#00c6ff,#00b3ff,#00b5ff)"></i><i style="background:linear-gradient(90deg,#00009f,#000090,#000088,#0000be,#0000d6,#0006ff,#0000ed,#0000e6,#0000ec,#000cff,#003fff,#002dff,#0058ff,#0063ff,#006cff,#00a1ff,#00cdff,#00d1ff,#00e3ff,#00fbff,#37ffc8,#4bffb4,#67ff98,#8dff72,#9eff61,#b9ff46,#c3ff3c,#ccff33,#fff900,#ffbb00,#ff7e00,#ff6300,#ff5700,#ff4e00,#ff4800,#ff3200,#ff3c00,#ff5e00,#ff8200,#ff8b00,#ffa700,#ffb900,#ffef00,#e6ff19,#c9ff36,#ccff33,#aeff51,#7cff83,#5cffa3,#50ffaf,#32ffcd,#21ffde,#29ffd6,#0afff5,#02fffd,#00feff,#00f2ff,#00e2ff,#00c4ff,#00dfff,#00ccff,#00c0ff,#00a1ff,#00beff,#00abff,#0093ff,#0099ff,#00a2ff,#00b5ff,#009aff,#009bff,#00a7ff,#009bff,#0084ff,#008aff,#0075ff,#00a4ff,#009eff,#0076ff,#007dff,#00b1ff,#00a6ff,#00a0ff,#00acff,#00acff,#00d6ff,#00a7ff,#008bff,#0085ff,#0065ff,#0099ff,#00aaff,#009eff,#00cdff,#00baff,#00b3ff,#00c2ff,#00afff,#00b7ff)"></i><i style="background:linear-gradient(90deg,#0000b2,#00009a,#000082,#0000b6,#0000d0,#0000f0,#0000e3,#0000e0,#0000eb,#0009ff,#0038ff,#0022ff,#0059ff,#0062ff,#006dff,#00a2ff,#00bbff,#00bcff,#00d3ff,#00ecff,#28ffd7,#44ffbb,#67ff98,#8eff71,#98ff67,#b7ff48,#c4ff3b,#cbff34,#ffe900,#ffb200,#ff8300,#ff5700,#ff4a00,#ff4500,#ff3a00,#ff3900,#ff3d00,#ff4c00,#ff7600,#ff8e00,#ff9a00,#ffa500,#ffe000,#f4ff0b,#ddff22,#ceff31,#aeff51,#93ff6c,#67ff98,#4dffb2,#3effc1,#21ffde,#2bffd4,#20ffdf,#07fff8,#00f5ff,#00dfff,#00ddff,#00c5ff,#00e1ff,#00ccff,#00bdff,#009fff,#00c8ff,#00b8ff,#00a3ff,#009fff,#009fff,#00a5ff,#00a3ff,#00a7ff,#00a1ff,#0092ff,#0074ff,#008fff,#007cff,#00a8ff,#00a7ff,#0075ff,#0077ff,#00a9ff,#00a6ff,#0096ff,#00a6ff,#0093ff,#00c2ff,#009aff,#0087ff,#0089ff,#006fff,#009bff,#00a8ff,#0098ff,#00d2ff,#00c1ff,#00b4ff,#00b9ff,#00adff,#00c1ff)"></i><i style="background:linear-gradient(90deg,#0000cb,#0000ac,#000084,#0000af,#0000c2,#0000d6,#0000d9,#0000e0,#0000ea,#0006ff,#002eff,#001aff,#0058ff,#005eff,#0072ff,#00a1ff,#00abff,#00b0ff,#00cbff,#00dcff,#1affe5,#43ffbc,#65ff9a,#8aff75,#96ff69,#b3ff4c,#c2ff3d,#cbff34,#ffdc00,#ffb300,#ff9500,#ff4c00,#ff4100,#ff3d00,#ff2a00,#ff3d00,#ff4100,#ff3900,#ff5f00,#ff8c00,#ff8b00,#ff9000,#ffd500,#ffff00,#efff10,#ccff33,#abff54,#a7ff58,#76ff89,#49ffb6,#4dffb2,#23ffdc,#2cffd3,#38ffc7,#10ffef,#00f1ff,#00cfff,#00d3ff,#00b9ff,#00d5ff,#00caff,#00b7ff,#009bff,#00ceff,#00c1ff,#00afff,#00a3ff,#009cff,#0098ff,#00a6ff,#00b6ff,#009fff,#0088ff,#0069ff,#0091ff,#007fff,#00a7ff,#00aeff,#0077ff,#0076ff,#00a4ff,#00aaff,#008eff,#00a0ff,#0080ff,#00acff,#0093ff,#0084ff,#008dff,#0080ff,#0099ff,#00a9ff,#009bff,#00d4ff,#00c5ff,#00b3ff,#00adff,#00adff,#00cdff)"></i><i style="background:linear-gradient(90deg,#0000e2,#0000be,#000092,#0000ac,#0000b4,#0000c6,#0000d1,#0000e4,#0000ea,#0006ff,#001fff,#0010ff,#0050ff,#0052ff,#0070ff,#009bff,#00a0ff,#00adff,#00caff,#00cbff,#0ffff0,#43ffbc,#62ff9d,#83ff7c,#93ff6c,#a6ff59,#b7ff48,#c1ff3e,#ffe500,#ffcc00,#ffba00,#ff5d00,#ff5900,#ff5100,#ff3300,#ff5900,#ff6100,#ff3d00,#ff5a00,#ff9900,#ff9000,#ff9100,#ffe200,#fdff02,#f5ff0a,#c1ff3e,#a0ff5f,#a8ff57,#7bff84,#44ffbb,#56ffa9,#2affd5,#2cffd3,#47ffb8,#1affe5,#00eeff,#00c6ff,#00cbff,#00a7ff,#00bfff,#00c5ff,#00b0ff,#0094ff,#00cbff,#00c4ff,#00b6ff,#00a2ff,#0099ff,#0095ff,#00a3ff,#00c4ff,#00a4ff,#0085ff,#0069ff,#0091ff,#007aff,#009fff,#00b4ff,#007dff,#0077ff,#009eff,#00afff,#008cff,#009bff,#0079ff,#00a2ff,#0096ff,#0084ff,#0093ff,#008fff,#0097ff,#00afff,#00a3ff,#00ccff,#00bfff,#00abff,#00a1ff,#00aeff,#00d8ff)"></i><i style="background:linear-gradient(90deg,#0000f3,#0000cd,#0000a2,#0000ab,#0000af,#0000c3,#0000cb,#0000e6,#0000eb,#0009ff,#000dff,#0008ff,#0047ff,#003fff,#0067ff,#0095ff,#009dff,#00b4ff,#00d1ff,#00c0ff,#07fff8,#46ffb9,#61ff9e,#81ff7e,#91ff6e,#9bff64,#acff53,#b6ff49,#fff800,#ffe800,#ffd500,#ff7700,#ff7a00,#ff6c00,#ff4200,#ff7300,#ff8300,#ff4700,#ff5d00,#ffa800,#ff9f00,#ffa100,#fff900,#f4ff0b,#f4ff0b,#b5ff4a,#93ff6c,#99ff66,#76ff89,#41ffbe,#5bffa4,#37ffc8,#2affd5,#4affb5,#1fffe0,#00ecff,#00c6ff,#00c8ff,#009cff,#00aeff,#00bfff,#00abff,#0089ff,#00c2ff,#00c3ff,#00b8ff,#009cff,#0096ff,#0098ff,#009fff,#00caff,#00afff,#008bff,#0075ff,#0094ff,#0071ff,#0096ff,#00bbff,#008dff,#0078ff,#0098ff,#00afff,#0091ff,#0099ff,#0080ff,#00aaff,#00a3ff,#0089ff,#009bff,#0097ff,#009bff,#00b8ff,#00afff,#00beff,#00b3ff,#00a0ff,#0098ff,#00b1ff,#00dbff)"></i><i style="background:linear-gradient(90deg,#0000fd,#0000d6,#0000ac,#0000a9,#0000b1,#0000c8,#0000c8,#0000e2,#0000eb,#000dff,#0000fd,#000cff,#0046ff,#0030ff,#0063ff,#0099ff,#00a7ff,#00ccff,#00e7ff,#00caff,#10ffef,#53ffac,#6aff95,#8aff75,#92ff6d,#97ff68,#a1ff5e,#acff53,#efff10,#fffe00,#ffe100,#ff9500,#ff9600,#ff8300,#ff5300,#ff8500,#ff9e00,#ff5500,#ff6700,#ffb800,#ffaf00,#ffba00,#f1ff0e,#eaff15,#efff10,#abff54,#86ff79,#87ff78,#6dff92,#45ffba,#61ff9e,#4affb5,#28ffd7,#45ffba,#1fffe0,#00ecff,#00ceff,#00cdff,#00a3ff,#00b0ff,#00c1ff,#00abff,#0080ff,#00baff,#00bdff,#00b6ff,#0094ff,#0093ff,#009dff,#009eff,#00c5ff,#00b6ff,#0096ff,#0088ff,#009cff,#006dff,#0090ff,#00c4ff,#00a5ff,#007eff,#0091ff,#00abff,#009aff,#0099ff,#0092ff,#00c0ff,#00b7ff,#0091ff,#00a2ff,#009aff,#00a4ff,#00bfff,#00b8ff,#00afff,#00a6ff,#009aff,#0097ff,#00b5ff,#00d7ff)"></i><i style="background:linear-gradient(90deg,#0000fe,#0000d8,#0000ad,#0000a8,#0000b4,#0000cd,#0000ca,#0000d8,#0000e5,#000bff,#0000f6,#001eff,#0050ff,#002aff,#0064ff,#009eff,#00b1ff,#00e0ff,#00f6ff,#00d7ff,#19ffe6,#5cffa3,#6dff92,#8dff72,#8fff70,#91ff6e,#93ff6c,#9fff60,#d7ff28,#efff10,#ffe600,#ffb100,#ffa600,#ff9700,#ff6900,#ff9100,#ffaf00,#ff6d00,#ff7800,#ffc900,#ffbe00,#ffd400,#e5ff1a,#e1ff1e,#e7ff18,#a3ff5c,#7fff80,#7eff81,#65ff9a,#50ffaf,#6dff92,#5cffa3,#29ffd6,#41ffbe,#1dffe2,#00efff,#00daff,#00dcff,#00b8ff,#00c1ff,#00ccff,#00b2ff,#0080ff,#00b9ff,#00b1ff,#00b4ff,#008dff,#0092ff,#009eff,#00a1ff,#00b9ff,#00b8ff,#00a4ff,#009dff,#00a5ff,#0070ff,#008eff,#00ccff,#00bfff,#008bff,#008dff,#00a3ff,#00a3ff,#009bff,#00a9ff,#00dbff,#00cdff,#009eff,#00adff,#009fff,#00b5ff,#00c6ff,#00beff,#00a7ff,#009eff,#009dff,#00a1ff,#00bbff,#00cfff)"></i><i style="background:linear-gradient(90deg,#0000f7,#0000d3,#0000ac,#0000af,#0000b5,#0000ce,#0000d1,#0000d0,#0000dd,#0003ff,#0000fd,#0039ff,#0061ff,#0034ff,#006eff,#00a2ff,#00b7ff,#00efff,#00fdff,#00e6ff,#23ffdc,#60ff9f,#6bff94,#88ff77,#8bff74,#8eff71,#8bff74,#9aff65,#d1ff2e,#f2ff0d,#ffdd00,#ffb700,#ff9900,#ff8e00,#ff6700,#ff8600,#ff9e00,#ff7500,#ff7600,#ffc400,#ffb700,#ffd700,#efff10,#e5ff1a,#e6ff19,#a7ff58,#84ff7b,#83ff7c,#63ff9c,#62ff9d,#79ff86,#68ff97,#33ffcc,#42ffbd,#1dffe2,#00efff,#00e6ff,#00f0ff,#00cfff,#00d4ff,#00ddff,#00beff,#008eff,#00bfff,#00abff,#00b6ff,#008fff,#0098ff,#00a0ff,#00a9ff,#00aeff,#00b6ff,#00b5ff,#00b4ff,#00b2ff,#007aff,#0090ff,#00d5ff,#00daff,#00a2ff,#0095ff,#009fff,#00a7ff,#00a1ff,#00c2ff,#00f3ff,#00e3ff,#00b5ff,#00c2ff,#00b2ff,#00cdff,#00d4ff,#00c7ff,#00adff,#00a0ff,#00a7ff,#00b4ff,#00c8ff,#00ccff)"></i><i style="background:linear-gradient(90deg,#0000e9,#0000c7,#0000b0,#0000c0,#0000b7,#0000ca,#0000d8,#0000d0,#0000da,#0001ff,#0014ff,#0054ff,#0071ff,#004bff,#007aff,#00a4ff,#00c1ff,#00f8ff,#05fffa,#00f5ff,#2cffd3,#5effa1,#6aff95,#7dff82,#86ff79,#8fff70,#91ff6e,#a0ff5f,#e1ff1e,#fff300,#ffc700,#ffa900,#ff7a00,#ff6a00,#ff5000,#ff6a00,#ff6f00,#ff6300,#ff5b00,#ffa600,#ffa100,#ffc300,#fff400,#f5ff0a,#efff10,#bcff43,#96ff69,#8dff72,#66ff99,#72ff8d,#80ff7f,#6dff92,#42ffbd,#45ffba,#1cffe3,#00edff,#00efff,#05fffa,#00e2ff,#00e0ff,#00ecff,#00cfff,#00a8ff,#00c8ff,#00b5ff,#00c2ff,#009eff,#00a9ff,#00abff,#00b8ff,#00adff,#00b8ff,#00c9ff,#00ccff,#00c3ff,#0089ff,#0097ff,#00e0ff,#00f5ff,#00c1ff,#00adff,#00a5ff,#00a4ff,#00aeff,#00daff,#03fffc,#00f5ff,#00d4ff,#00e2ff,#00d2ff,#00e9ff,#00e7ff,#00d7ff,#00c1ff,#00b1ff,#00baff,#00d0ff,#00dbff,#00d5ff)"></i><i style="background:linear-gradient(90deg,#0000da,#0000b7,#0000bb,#0000d2,#0000bd,#0000c4,#0000db,#0000da,#0000e3,#000dff,#0031ff,#0067ff,#0078ff,#0064ff,#0082ff,#00a7ff,#00d3ff,#01fffe,#0efff1,#04fffb,#31ffce,#5bffa4,#6bff94,#72ff8d,#86ff79,#93ff6c,#9fff60,#afff50,#ffff00,#ffd500,#ffb500,#ff9b00,#ff6300,#ff4800,#ff3b00,#ff5400,#ff4300,#ff4a00,#ff4100,#ff8200,#ff9300,#ffad00,#ffda00,#fffc00,#fbff04,#dcff23,#adff52,#93ff6c,#6aff95,#79ff86,#7dff82,#6bff94,#4fffb0,#47ffb8,#17ffe8,#00e7ff,#00f4ff,#11ffee,#00e9ff,#00daff,#00efff,#00dbff,#00bbff,#00c9ff,#00c6ff,#00cbff,#00adff,#00bdff,#00b8ff,#00c6ff,#00aeff,#00b5ff,#00d1ff,#00d8ff,#00cfff,#0094ff,#009fff,#00e7ff,#06fff9,#00d9ff,#00c4ff,#00aeff,#009cff,#00b8ff,#00e1ff,#00ffff,#00f7ff,#00e6ff,#00f9ff,#00ecff,#00f7ff,#00f1ff,#00e1ff,#00d2ff,#00c4ff,#00caff,#00e3ff,#00e6ff,#00e2ff)"></i><i style="background:linear-gradient(90deg,#0000d0,#0000ab,#0000c7,#0000df,#0000c7,#0000c1,#0000de,#0000e9,#0000f7,#0022ff,#0045ff,#006bff,#0073ff,#0073ff,#0080ff,#00a6ff,#00e6ff,#06fff9,#18ffe7,#13ffec,#34ffcb,#59ffa6,#6fff90,#71ff8e,#95ff6a,#a2ff5d,#b5ff4a,#ccff33,#ffd200,#ffad00,#ff9f00,#ff8300,#ff4800,#ff2700,#ff2200,#ff3900,#ff2000,#ff2e00,#ff2f00,#ff6000,#ff9100,#ffa000,#ffcb00,#fffb00,#fffd00,#f6ff09,#baff45,#91ff6e,#6aff95,#70ff8f,#6aff95,#62ff9d,#50ffaf,#41ffbe,#08fff7,#00deff,#00efff,#09fff6,#00e3ff,#00c2ff,#00dfff,#00d4ff,#00b6ff,#00b6ff,#00cbff,#00c6ff,#00adff,#00c4ff,#00b8ff,#00c5ff,#00a3ff,#00a8ff,#00c3ff,#00cbff,#00caff,#0092ff,#00a1ff,#00e0ff,#00f9ff,#00d8ff,#00caff,#00adff,#0091ff,#00b2ff,#00cbff,#00e7ff,#00e5ff,#00dcff,#00f4ff,#00eaff,#00e7ff,#00e0ff,#00daff,#00d3ff,#00c9ff,#00cbff,#00e1ff,#00ddff,#00e2ff)"></i><i style="background:linear-gradient(90deg,#0000ce,#0000aa,#0000cb,#0000e5,#0000d2,#0000c7,#0000e5,#0000f9,#000eff,#0038ff,#004aff,#005fff,#0065ff,#0075ff,#007aff,#00a7ff,#00f3ff,#0bfff4,#25ffda,#2bffd4,#3bffc4,#58ffa7,#6eff91,#77ff88,#aeff51,#afff50,#c2ff3d,#e4ff1b,#ffb500,#ff9b00,#ff9a00,#ff7b00,#ff4400,#ff2600,#ff1f00,#ff2f00,#ff1f00,#ff2900,#ff3500,#ff5300,#ff9c00,#ffa300,#ffcb00,#faff05,#ffff00,#fcff03,#baff45,#8bff74,#67ff98,#60ff9f,#53ffac,#5cffa3,#4effb1,#3dffc2,#00fbff,#00d9ff,#00e6ff,#00f3ff,#00daff,#00a9ff,#00c4ff,#00c2ff,#00a3ff,#009fff,#00c3ff,#00b8ff,#00a1ff,#00bfff,#00aeff,#00b8ff,#008fff,#009bff,#00b0ff,#00b1ff,#00bbff,#008dff,#00a1ff,#00cfff,#00d8ff,#00c6ff,#00c1ff,#00a6ff,#008cff,#00a1ff,#00a9ff,#00cbff,#00cdff,#00c1ff,#00ddff,#00d4ff,#00c3ff,#00c2ff,#00cbff,#00cdff,#00c2ff,#00c4ff,#00d3ff,#00ccff,#00d7ff)"></i><i style="background:linear-gradient(90deg,#0000d0,#0000b4,#0000c8,#0000e6,#0000df,#0000d8,#0000f1,#0003ff,#001bff,#0040ff,#0048ff,#0048ff,#0052ff,#006fff,#0078ff,#00a9ff,#00f2ff,#0afff5,#32ffcd,#49ffb6,#46ffb9,#59ffa6,#6aff95,#81ff7e,#c7ff38,#b7ff48,#c7ff38,#f1ff0e,#ffb500,#ffa000,#ffa500,#ff8300,#ff5300,#ff3b00,#ff3300,#ff3d00,#ff3e00,#ff3e00,#ff5400,#ff6200,#ffaf00,#ffb300,#ffd600,#ebff14,#f2ff0d,#e8ff17,#acff53,#82ff7d,#5dffa2,#4affb5,#40ffbf,#59ffa6,#4fffb0,#3bffc4,#00f5ff,#00daff,#00daff,#00dbff,#00d8ff,#00a1ff,#00adff,#00b1ff,#0094ff,#0093ff,#00b8ff,#00abff,#0098ff,#00b8ff,#00a5ff,#00a7ff,#007dff,#009cff,#00a6ff,#009cff,#00b1ff,#008cff,#00a3ff,#00c2ff,#00b6ff,#00b6ff,#00b8ff,#00a5ff,#0091ff,#0093ff,#0094ff,#00bcff,#00c2ff,#00abff,#00caff,#00c0ff,#00a1ff,#00acff,#00c2ff,#00cdff,#00beff,#00c2ff,#00ccff,#00c2ff,#00c9ff)"></i><i style="background:linear-gradient(90deg,#0000d2,#0000bf,#0000c2,#0000e5,#0000ea,#0000ec,#0000fb,#0001ff,#0019ff,#0039ff,#0044ff,#0032ff,#0043ff,#0066ff,#007cff,#00b0ff,#00e7ff,#04fffb,#3bffc4,#62ff9d,#4fffb0,#59ffa6,#66ff99,#8fff70,#d8ff27,#b8ff47,#cbff34,#fcff03,#ffc700,#ffae00,#ffaf00,#ff8d00,#ff6200,#ff4900,#ff4300,#ff4e00,#ff6000,#ff5500,#ff7100,#ff7900,#ffbc00,#ffbd00,#ffdc00,#e1ff1e,#e1ff1e,#c6ff39,#99ff66,#79ff86,#4effb1,#36ffc9,#37ffc8,#59ffa6,#55ffaa,#38ffc7,#00f3ff,#00deff,#00caff,#00c5ff,#00d8ff,#00a7ff,#009cff,#00a6ff,#008cff,#0092ff,#00adff,#00a3ff,#0097ff,#00b0ff,#00a1ff,#0097ff,#0074ff,#00a3ff,#00a2ff,#0091ff,#00adff,#008eff,#00a1ff,#00b8ff,#009fff,#00acff,#00b2ff,#00a8ff,#0098ff,#008cff,#0092ff,#00b8ff,#00beff,#009bff,#00bfff,#00b6ff,#0090ff,#00a4ff,#00bbff,#00cfff,#00c0ff,#00c7ff,#00cdff,#00beff,#00c0ff)"></i><i style="background:linear-gradient(90deg,#0000d4,#0000c2,#0000bb,#0000e1,#0000ec,#0000f8,#0000ff,#0000f6,#000aff,#002aff,#003eff,#0024ff,#003cff,#0060ff,#0083ff,#00bcff,#00deff,#00feff,#3fffc0,#6eff91,#54ffab,#5affa5,#66ff99,#9dff62,#d7ff28,#b2ff4d,#cfff30,#fffd00,#ffe200,#ffbf00,#ffba00,#ff9900,#ff7000,#ff4d00,#ff4e00,#ff6300,#ff7e00,#ff6900,#ff8900,#ff9100,#ffc400,#ffc100,#ffe000,#d8ff27,#ceff31,#a8ff57,#8aff75,#75ff8a,#44ffbb,#2cffd3,#39ffc6,#59ffa6,#5bffa4,#31ffce,#00f2ff,#00e3ff,#00bcff,#00b5ff,#00d2ff,#00b1ff,#0090ff,#009fff,#0088ff,#0093ff,#00a3ff,#009eff,#0098ff,#00a7ff,#00a2ff,#008cff,#0076ff,#00a6ff,#0098ff,#008aff,#00afff,#0090ff,#0097ff,#00afff,#0092ff,#00a4ff,#00aaff,#00a8ff,#0098ff,#008dff,#0099ff,#00b3ff,#00baff,#008bff,#00b7ff,#00b7ff,#008fff,#00a3ff,#00b1ff,#00c8ff,#00c2ff,#00ccff,#00ccff,#00baff,#00bdff)"></i><i style="background:linear-gradient(90deg,#0000d7,#0000c0,#0000b6,#0000d6,#0000e2,#0000f7,#0000f5,#0000e8,#0000f5,#001cff,#0031ff,#001dff,#003bff,#005dff,#0085ff,#00c5ff,#00d7ff,#00f9ff,#3bffc4,#6cff93,#59ffa6,#5bffa4,#6bff94,#aeff51,#caff35,#abff54,#d9ff26,#fff500,#ffef00,#ffc200,#ffb500,#ff9500,#ff6900,#ff3900,#ff4100,#ff5f00,#ff7e00,#ff6300,#ff8500,#ff9100,#ffbd00,#ffbb00,#ffe100,#d4ff2b,#c3ff3c,#99ff66,#87ff78,#79ff86,#47ffb8,#30ffcf,#44ffbb,#58ffa7,#59ffa6,#23ffdc,#00f3ff,#00eaff,#00baff,#00afff,#00c3ff,#00b2ff,#0086ff,#0097ff,#0083ff,#0091ff,#00a0ff,#009cff,#0096ff,#009fff,#00a5ff,#008cff,#0084ff,#00a5ff,#0085ff,#0082ff,#00b4ff,#0095ff,#008bff,#00a5ff,#008bff,#009aff,#009eff,#009fff,#0094ff,#0092ff,#009aff,#00a9ff,#00b2ff,#0078ff,#00aeff,#00bdff,#0093ff,#00a0ff,#00a2ff,#00bbff,#00c3ff,#00cdff,#00c0ff,#00b3ff,#00c2ff)"></i><i style="background:linear-gradient(90deg,#0000da,#0000c2,#0000b3,#0000c9,#0000d2,#0000ef,#0000e0,#0000dc,#0000e7,#0013ff,#0020ff,#001bff,#003fff,#005fff,#0085ff,#00caff,#00d6ff,#00f2ff,#30ffcf,#65ff9a,#61ff9e,#5effa1,#79ff86,#c1ff3e,#bcff43,#afff50,#ebff14,#ffe900,#ffe400,#ffb400,#ff9c00,#ff7d00,#ff4c00,#ff1500,#ff2100,#ff4200,#ff6400,#ff4600,#ff6a00,#ff7d00,#ffa900,#ffae00,#ffe300,#d5ff2a,#c3ff3c,#98ff67,#8dff72,#84ff7b,#52ffad,#3dffc2,#4effb1,#53ffac,#51ffae,#13ffec,#00f7ff,#00f1ff,#00c6ff,#00b3ff,#00b1ff,#00aaff,#007eff,#0091ff,#0080ff,#0090ff,#00a2ff,#009bff,#0094ff,#0099ff,#00a7ff,#0096ff,#009aff,#00a3ff,#006eff,#0074ff,#00b6ff,#009bff,#0081ff,#009dff,#0087ff,#008fff,#0092ff,#008fff,#008dff,#0097ff,#0092ff,#009bff,#00a8ff,#0064ff,#00a3ff,#00c4ff,#0092ff,#0093ff,#0091ff,#00afff,#00c7ff,#00ccff,#00acff,#00adff,#00ccff)"></i><i style="background:linear-gradient(90deg,#0000de,#0000cb,#0000b4,#0000bf,#0000c5,#0000eb,#0000c9,#0000d4,#0000e1,#000aff,#0012ff,#001cff,#0042ff,#0066ff,#0082ff,#00caff,#00d6ff,#00e6ff,#23ffdc,#60ff9f,#6cff93,#66ff99,#8eff71,#d2ff2d,#b7ff48,#bcff43,#f9ff06,#ffde00,#ffca00,#ff9f00,#ff8000,#ff6400,#ff2d00,#fa0000,#ff0a00,#ff2800,#ff4b00,#ff2d00,#ff5300,#ff6c00,#ff9b00,#ffa700,#ffeb00,#d6ff29,#c9ff36,#9cff63,#93ff6c,#8bff74,#5affa5,#48ffb7,#4dffb2,#4cffb3,#46ffb9,#07fff8,#00fbff,#00f4ff,#00d6ff,#00b8ff,#00a5ff,#00a0ff,#007eff,#0090ff,#007fff,#0094ff,#00a4ff,#009aff,#0092ff,#0094ff,#00a5ff,#00a6ff,#00acff,#009fff,#005aff,#0065ff,#00b4ff,#00a1ff,#007eff,#0098ff,#0084ff,#0083ff,#008aff,#007dff,#0089ff,#009aff,#0089ff,#0090ff,#009cff,#0058ff,#009aff,#00caff,#008aff,#007eff,#0083ff,#00a7ff,#00cbff,#00c9ff,#0099ff,#00aaff,#00d3ff)"></i><i style="background:linear-gradient(90deg,#0000de,#0000db,#0000bd,#0000bd,#0000c2,#0000ed,#0000bc,#0000d3,#0000de,#0000fb,#0006ff,#0018ff,#0041ff,#0068ff,#007aff,#00bcff,#00cfff,#00d4ff,#15ffea,#5effa1,#75ff8a,#72ff8d,#a4ff5b,#ddff22,#b8ff47,#ccff33,#ffff00,#ffd900,#ffb400,#ff8e00,#ff7000,#ff5700,#ff1500,#f20000,#ff0800,#ff1f00,#ff4100,#ff2900,#ff4d00,#ff6c00,#ff9a00,#ffa900,#fff500,#d7ff28,#d1ff2e,#a0ff5f,#94ff6b,#8bff74,#5dffa2,#47ffb8,#3fffc0,#45ffba,#3effc1,#02fffd,#00fdff,#00efff,#00deff,#00bdff,#00a1ff,#009eff,#0088ff,#0096ff,#0084ff,#009bff,#00a0ff,#0096ff,#0095ff,#0090ff,#009cff,#00b3ff,#00b4ff,#0096ff,#0050ff,#005cff,#00adff,#00a5ff,#0083ff,#0097ff,#0085ff,#007bff,#0086ff,#0071ff,#008bff,#009eff,#0089ff,#0089ff,#0090ff,#0056ff,#0096ff,#00cfff,#0086ff,#006aff,#007dff,#00a7ff,#00d1ff,#00c1ff,#008eff,#00a9ff,#00d3ff)"></i><i style="background:linear-gradient(90deg,#0000db,#0000ed,#0000ce,#0000c5,#0000cb,#0000f3,#0000c1,#0000dc,#0000df,#0000eb,#0000fd,#0013ff,#003dff,#0066ff,#006fff,#00a7ff,#00c3ff,#00c7ff,#0efff1,#5fffa0,#7aff85,#7eff81,#afff50,#dbff24,#b3ff4c,#c9ff36,#edff12,#fff100,#ffc900,#ffa800,#ff9100,#ff7e00,#ff3500,#ff2600,#ff4400,#ff5200,#ff6d00,#ff5e00,#ff7a00,#ff9700,#ffbe00,#ffc900,#efff10,#caff35,#cdff32,#9dff62,#8aff75,#82ff7d,#59ffa6,#37ffc8,#29ffd6,#41ffbe,#39ffc6,#02fffd,#00fdff,#00e7ff,#00ddff,#00c1ff,#00a5ff,#00a3ff,#009bff,#00a0ff,#008dff,#00a2ff,#0096ff,#0091ff,#0099ff,#008aff,#008dff,#00b9ff,#00b5ff,#008cff,#004fff,#0061ff,#00a6ff,#00a5ff,#008fff,#0097ff,#008cff,#007cff,#0080ff,#006aff,#0093ff,#00a6ff,#0094ff,#0088ff,#0085ff,#005cff,#0096ff,#00d3ff,#0089ff,#0060ff,#0081ff,#00acff,#00d6ff,#00b7ff,#008cff,#00aaff,#00cdff)"></i><i style="background:linear-gradient(90deg,#0000d4,#0000fc,#0000df,#0000cf,#0000d8,#0000f1,#0000d2,#0000ef,#0000e1,#0000df,#0000fc,#000dff,#0036ff,#0060ff,#0065ff,#0090ff,#00b4ff,#00c7ff,#11ffee,#5dffa2,#7bff84,#85ff7a,#aeff51,#d4ff2b,#aeff51,#c1ff3e,#dcff23,#f5ff0a,#ffe600,#ffc300,#ffb100,#ffa300,#ff5800,#ff5800,#ff7d00,#ff8400,#ff9500,#ff8f00,#ffa600,#ffc200,#ffe300,#ffec00,#d5ff2a,#bcff43,#c5ff3a,#96ff69,#7cff83,#75ff8a,#55ffaa,#23ffdc,#16ffe9,#3cffc3,#33ffcc,#00ffff,#00fdff,#00e3ff,#00dbff,#00c5ff,#00a9ff,#00aeff,#00aeff,#00adff,#0093ff,#00a5ff,#008bff,#008dff,#0097ff,#0082ff,#007cff,#00baff,#00b9ff,#0086ff,#0056ff,#0071ff,#009dff,#00a4ff,#009eff,#0096ff,#0099ff,#0087ff,#0079ff,#0066ff,#0099ff,#00b1ff,#009fff,#0089ff,#007dff,#0066ff,#0098ff,#00ceff,#0090ff,#0063ff,#008aff,#00afff,#00d7ff,#00adff,#008fff,#00aeff,#00c6ff)"></i><i style="background:linear-gradient(90deg,#0000c9,#0000fd,#0000e4,#0000d4,#0000e2,#0000e8,#0000e1,#0000fe,#0000e2,#0000d7,#0000fc,#0005ff,#002dff,#0059ff,#0057ff,#0076ff,#009dff,#00ccff,#11ffee,#4fffb0,#70ff8f,#7fff80,#9fff60,#c8ff37,#a7ff58,#b8ff47,#d0ff2f,#e0ff1f,#faff05,#ffdc00,#ffcf00,#ffc400,#ff8200,#ff8a00,#ffb200,#ffb300,#ffba00,#ffb900,#ffc900,#ffe500,#f9ff06,#efff10,#bcff43,#acff53,#b8ff47,#8bff74,#6dff92,#68ff97,#4fffb0,#14ffeb,#12ffed,#38ffc7,#2bffd4,#00fbff,#03fffc,#00edff,#00deff,#00c8ff,#00aaff,#00b8ff,#00bfff,#00b6ff,#0095ff,#00a7ff,#0083ff,#0087ff,#0090ff,#0078ff,#0076ff,#00baff,#00c3ff,#0088ff,#0061ff,#0083ff,#0092ff,#00a2ff,#00acff,#009aff,#00a5ff,#0093ff,#0074ff,#0067ff,#009cff,#00b6ff,#00a5ff,#008bff,#0079ff,#0072ff,#0095ff,#00bdff,#0097ff,#0070ff,#0090ff,#00aaff,#00d1ff,#00a7ff,#0095ff,#00b2ff,#00bfff)"></i><i style="background:linear-gradient(90deg,#0000bf,#0000f2,#0000dd,#0000d2,#0000e6,#0000da,#0000e4,#0004ff,#0000de,#0000d2,#0000f8,#0000fc,#0025ff,#0055ff,#0044ff,#005aff,#0085ff,#00cdff,#0afff5,#33ffcc,#5affa5,#6bff94,#8cff73,#b6ff49,#9eff61,#b0ff4f,#c7ff38,#d2ff2d,#e3ff1c,#fff300,#fff200,#ffe400,#ffb200,#ffbc00,#ffe300,#ffe000,#ffdf00,#ffda00,#ffe400,#ffff00,#dfff20,#d2ff2d,#a6ff59,#9bff64,#a6ff59,#7dff82,#62ff9d,#5effa1,#4affb5,#0dfff2,#1cffe3,#38ffc7,#24ffdb,#00f5ff,#0bfff4,#00ffff,#00e3ff,#00c6ff,#00a7ff,#00beff,#00caff,#00baff,#0096ff,#00abff,#007eff,#007fff,#0089ff,#0075ff,#007eff,#00bdff,#00cfff,#0093ff,#006bff,#008cff,#0089ff,#00a3ff,#00b6ff,#00a5ff,#00aeff,#0099ff,#0076ff,#0071ff,#009dff,#00b4ff,#00a4ff,#008eff,#007cff,#007eff,#0090ff,#00a7ff,#009eff,#0081ff,#0093ff,#00a0ff,#00c2ff,#00a5ff,#009aff,#00b3ff,#00b8ff)"></i><i style="background:linear-gradient(90deg,#0000bb,#0000e3,#0000d3,#0000cd,#0000e6,#0000cd,#0000de,#0000fb,#0000d7,#0000cd,#0000f0,#0000f6,#0026ff,#0058ff,#0034ff,#0041ff,#0073ff,#00c9ff,#00fcff,#14ffeb,#40ffbf,#54ffab,#7dff82,#a3ff5c,#9dff62,#b0ff4f,#c8ff37,#d7ff28,#e6ff19,#fff500,#f8ff07,#fff300,#ffcb00,#ffd600,#fff900,#ffef00,#ffed00,#ffe200,#ffe600,#feff01,#d8ff27,#c9ff36,#a4ff5b,#92ff6d,#96ff69,#6fff90,#5effa1,#56ffa9,#41ffbe,#08fff7,#29ffd6,#3dffc2,#21ffde,#00f0ff,#10ffef,#11ffee,#00e4ff,#00c1ff,#00a5ff,#00c4ff,#00d1ff,#00b9ff,#009cff,#00b3ff,#0081ff,#007cff,#008cff,#007fff,#0090ff,#00beff,#00d6ff,#00a1ff,#0074ff,#008cff,#0087ff,#00a7ff,#00bdff,#00b3ff,#00b4ff,#009eff,#0083ff,#0085ff,#00a4ff,#00b0ff,#00a4ff,#0091ff,#0087ff,#0091ff,#0092ff,#009eff,#00abff,#0095ff,#0096ff,#009eff,#00b2ff,#00a7ff,#009fff,#00b0ff,#00b0ff)"></i><i style="background:linear-gradient(90deg,#0000bf,#0000dd,#0000d2,#0000ca,#0000e3,#0000c2,#0000d6,#0000ee,#0000d0,#0000c7,#0000e6,#0000f2,#0029ff,#005bff,#0028ff,#002dff,#0067ff,#00baff,#00e9ff,#00fbff,#24ffdb,#40ffbf,#6cff93,#8eff71,#9bff64,#aaff55,#c4ff3b,#ddff22,#f1ff0e,#fff200,#e6ff19,#fbff04,#ffdf00,#ffeb00,#f4ff0b,#fff600,#fff900,#ffea00,#ffe500,#fffe00,#d2ff2d,#c3ff3c,#afff50,#8eff71,#85ff7a,#61ff9e,#5effa1,#4effb1,#35ffca,#05fffa,#2dffd2,#42ffbd,#22ffdd,#00f1ff,#0ffff0,#1affe5,#00e3ff,#00c1ff,#00aaff,#00ceff,#00ddff,#00baff,#00abff,#00c4ff,#0092ff,#0087ff,#009dff,#0096ff,#00a2ff,#00beff,#00d8ff,#00b0ff,#007fff,#0091ff,#0091ff,#00b1ff,#00c3ff,#00c1ff,#00bfff,#00adff,#009eff,#00a2ff,#00b6ff,#00b3ff,#00acff,#0099ff,#009bff,#00abff,#00a4ff,#00acff,#00beff,#00acff,#00a3ff,#00abff,#00aeff,#00b0ff,#00a9ff,#00aeff,#00afff)"></i><i style="background:linear-gradient(90deg,#0000c6,#0000e1,#0000dd,#0000c8,#0000db,#0000bb,#0000cd,#0000e2,#0000cb,#0000c0,#0000e2,#0000f0,#0028ff,#0051ff,#0019ff,#001fff,#005aff,#009eff,#00d1ff,#00e9ff,#06fff9,#2fffd0,#58ffa7,#76ff89,#94ff6b,#a1ff5e,#bcff43,#daff25,#f7ff08,#fff400,#d9ff26,#ebff14,#fff200,#fdff02,#e7ff18,#fcff03,#f1ff0e,#fffa00,#ffea00,#feff01,#c3ff3c,#b4ff4b,#bdff42,#8eff71,#78ff87,#57ffa8,#5affa5,#43ffbc,#2bffd4,#06fff9,#28ffd7,#44ffbb,#27ffd8,#00fcff,#0ffff0,#18ffe7,#00e6ff,#00cbff,#00b9ff,#00dbff,#00ecff,#00c1ff,#00c4ff,#00d9ff,#00b0ff,#00a1ff,#00b4ff,#00acff,#00acff,#00c0ff,#00d7ff,#00bcff,#008fff,#00a2ff,#00a5ff,#00beff,#00cbff,#00c8ff,#00ceff,#00ccff,#00bfff,#00c3ff,#00cdff,#00bcff,#00bbff,#00a4ff,#00afff,#00c9ff,#00c2ff,#00c6ff,#00cfff,#00c6ff,#00bbff,#00c1ff,#00baff,#00c5ff,#00b9ff,#00b3ff,#00b8ff)"></i><i style="background:linear-gradient(90deg,#0000c9,#0000e6,#0000e8,#0000c5,#0000d2,#0000bb,#0000c4,#0000dc,#0000cd,#0000be,#0000e6,#0000f1,#001fff,#003fff,#0006ff,#0017ff,#0049ff,#0081ff,#00b7ff,#00dcff,#00edff,#1bffe4,#41ffbe,#5dffa2,#8cff73,#95ff6a,#b5ff4a,#cdff32,#edff12,#feff01,#d4ff2b,#e1ff1e,#fbff04,#e9ff16,#deff21,#ebff14,#d4ff2b,#edff12,#fff700,#f4ff0b,#abff54,#9dff62,#c3ff3c,#91ff6e,#6fff90,#53ffac,#53ffac,#39ffc6,#29ffd6,#11ffee,#21ffde,#3fffc0,#2bffd4,#0efff1,#12ffed,#0bfff4,#00edff,#00d9ff,#00c8ff,#00dcff,#00f0ff,#00c3ff,#00dbff,#00e4ff,#00c6ff,#00b7ff,#00bfff,#00b0ff,#00a7ff,#00baff,#00cdff,#00bfff,#009cff,#00b5ff,#00b1ff,#00c1ff,#00ccff,#00c3ff,#00d2ff,#00e7ff,#00d7ff,#00daff,#00d6ff,#00beff,#00c5ff,#00a9ff,#00b6ff,#00d9ff,#00d8ff,#00d3ff,#00cdff,#00d2ff,#00d1ff,#00caff,#00c7ff,#00d6ff,#00c1ff,#00b8ff,#00c3ff)"></i><i style="background:linear-gradient(90deg,#0000c6,#0000e1,#0000e7,#0000c1,#0000cc,#0000c2,#0000bc,#0000d7,#0000d6,#0000c4,#0000f0,#0000f0,#0010ff,#0025ff,#0000f0,#0010ff,#0032ff,#0066ff,#009bff,#00cbff,#00daff,#05fffa,#26ffd9,#46ffb9,#89ff76,#91ff6e,#b2ff4d,#beff41,#d3ff2c,#e3ff1c,#d2ff2d,#dcff23,#eeff11,#d9ff26,#dbff24,#d8ff27,#bcff43,#d6ff29,#f3ff0c,#e4ff1b,#92ff6d,#89ff76,#bfff40,#94ff6b,#6cff93,#56ffa9,#4dffb2,#32ffcd,#2effd1,#27ffd8,#1effe1,#37ffc8,#2dffd2,#1cffe3,#15ffea,#00f7ff,#00f3ff,#00e2ff,#00cfff,#00caff,#00e3ff,#00baff,#00e4ff,#00dbff,#00c6ff,#00beff,#00b7ff,#009eff,#0098ff,#00abff,#00b7ff,#00b6ff,#009fff,#00beff,#00aeff,#00b6ff,#00c3ff,#00b2ff,#00c4ff,#00eaff,#00dbff,#00e1ff,#00cbff,#00b5ff,#00c2ff,#00a2ff,#00adff,#00d4ff,#00daff,#00cbff,#00b8ff,#00caff,#00d7ff,#00bcff,#00c5ff,#00d4ff,#00b9ff,#00baff,#00c8ff)"></i><i style="background:linear-gradient(90deg,#0000c1,#0000d0,#0000db,#0000bc,#0000ca,#0000cc,#0000b2,#0000d2,#0000e5,#0000d0,#0000f6,#0000eb,#0002ff,#000aff,#0000de,#0006ff,#0017ff,#004aff,#0079ff,#00b0ff,#00c3ff,#00e5ff,#06fff9,#2cffd3,#87ff78,#8fff70,#b5ff4a,#b4ff4b,#b6ff49,#c7ff38,#d2ff2d,#dbff24,#e8ff17,#d3ff2c,#dfff20,#d0ff2f,#b9ff46,#ceff31,#e1ff1e,#d4ff2b,#82ff7d,#83ff7c,#b8ff47,#96ff69,#6dff92,#5effa1,#4cffb3,#31ffce,#34ffcb,#41ffbe,#22ffdd,#2dffd2,#2bffd4,#1fffe0,#17ffe8,#00e8ff,#00f7ff,#00e1ff,#00d1ff,#00b7ff,#00d0ff,#00b0ff,#00e5ff,#00caff,#00b7ff,#00beff,#00a8ff,#008fff,#008fff,#009cff,#00a3ff,#00aeff,#00a0ff,#00bfff,#00a9ff,#00acff,#00bdff,#00a7ff,#00b3ff,#00dbff,#00dbff,#00e2ff,#00baff,#00aeff,#00bbff,#0097ff,#00a0ff,#00c8ff,#00d1ff,#00bfff,#00a5ff,#00bcff,#00d1ff,#00a7ff,#00baff,#00c5ff,#00afff,#00c2ff,#00ccff)"></i><i style="background:linear-gradient(90deg,#0000bf,#0000c0,#0000cc,#0000b9,#0000c9,#0000d3,#0000a6,#0000c9,#0000f0,#0000dd,#0000f2,#0000e3,#0000f5,#0000f4,#0000d5,#0000f9,#0000fc,#002cff,#0056ff,#008eff,#00a7ff,#00c2ff,#00e3ff,#11ffee,#7bff84,#85ff7a,#b4ff4b,#acff53,#9dff62,#b1ff4e,#ceff31,#d4ff2b,#e2ff1d,#cfff30,#e2ff1d,#d1ff2e,#c5ff3a,#d2ff2d,#d6ff29,#c6ff39,#7fff80,#8cff73,#b5ff4a,#98ff67,#6eff91,#68ff97,#4effb1,#38ffc7,#3bffc4,#58ffa7,#2affd5,#25ffda,#27ffd8,#19ffe6,#15ffea,#00e5ff,#00f9ff,#00dbff,#00d6ff,#00b1ff,#00c2ff,#00aaff,#00e1ff,#00baff,#00a7ff,#00c2ff,#00a3ff,#0094ff,#0093ff,#0095ff,#0098ff,#00abff,#00a4ff,#00bdff,#00abff,#00acff,#00beff,#00a8ff,#00abff,#00caff,#00ddff,#00e5ff,#00b0ff,#00afff,#00b6ff,#0090ff,#0099ff,#00c0ff,#00c9ff,#00bbff,#00a1ff,#00b5ff,#00caff,#009cff,#00aeff,#00b2ff,#00afff,#00d3ff,#00d0ff)"></i><i style="background:linear-gradient(90deg,#0000c5,#0000bc,#0000c3,#0000b6,#0000c6,#0000d5,#00009a,#0000bc,#0000f3,#0000e5,#0000e9,#0000d9,#0000ee,#0000e5,#0000d2,#0000eb,#0000ec,#000dff,#0039ff,#006aff,#008aff,#00a0ff,#00c2ff,#00f6ff,#5dffa2,#6eff91,#aeff51,#a2ff5d,#8dff72,#a7ff58,#c6ff39,#c7ff38,#d7ff28,#caff35,#e4ff1b,#d6ff29,#d1ff2e,#d9ff26,#d5ff2a,#c0ff3f,#85ff7a,#9bff64,#b7ff48,#99ff66,#6eff91,#6cff93,#4effb1,#46ffb9,#40ffbf,#67ff98,#35ffca,#1dffe2,#24ffdb,#11ffee,#11ffee,#00ecff,#00f7ff,#00d2ff,#00dbff,#00b7ff,#00baff,#00a7ff,#00d3ff,#00abff,#0099ff,#00c3ff,#00a9ff,#00a4ff,#0099ff,#0090ff,#0094ff,#00abff,#00adff,#00b8ff,#00b1ff,#00b3ff,#00beff,#00abff,#00acff,#00bdff,#00e1ff,#00e4ff,#00adff,#00b5ff,#00b2ff,#008dff,#0094ff,#00b9ff,#00c4ff,#00bcff,#00a9ff,#00b6ff,#00c3ff,#00a0ff,#00a9ff,#00a3ff,#00b8ff,#00e2ff,#00d0ff)"></i><i style="background:linear-gradient(90deg,#0000d4,#0000bf,#0000c4,#0000b3,#0000c3,#0000d1,#000090,#0000b0,#0000ea,#0000eb,#0000e1,#0000d1,#0000e9,#0000d9,#0000d0,#0000db,#0000e3,#0000f4,#0023ff,#0047ff,#006dff,#0083ff,#00a3ff,#00d8ff,#33ffcc,#4dffb2,#a4ff5b,#94ff6b,#85ff7a,#a8ff57,#c0ff3f,#bbff44,#caff35,#c4ff3b,#e3ff1c,#daff25,#d0ff2f,#dcff23,#d6ff29,#beff41,#8eff71,#a6ff59,#baff45,#9bff64,#6dff92,#6aff95,#4bffb4,#54ffab,#45ffba,#6cff93,#3fffc0,#18ffe7,#24ffdb,#0dfff2,#09fff6,#00f5ff,#00f4ff,#00c7ff,#00ddff,#00bdff,#00b2ff,#00a7ff,#00c1ff,#009dff,#008dff,#00beff,#00b1ff,#00afff,#0098ff,#008bff,#0094ff,#00acff,#00b8ff,#00b4ff,#00b4ff,#00bbff,#00bcff,#00aaff,#00afff,#00b5ff,#00e4ff,#00ddff,#00b2ff,#00bcff,#00acff,#008eff,#0091ff,#00b0ff,#00c2ff,#00bcff,#00b1ff,#00baff,#00baff,#00abff,#00adff,#009cff,#00c2ff,#00e7ff,#00ceff)"></i><i style="background:linear-gradient(90deg,#0000e3,#0000c1,#0000cb,#0000b4,#0000c1,#0000c9,#00008d,#0000ab,#0000da,#0000f2,#0000e3,#0000d2,#0000e6,#0000cb,#0000cb,#0000cd,#0000df,#0000e3,#0018ff,#002cff,#004eff,#006aff,#0082ff,#00b5ff,#06fff9,#2effd1,#96ff69,#82ff7d,#81ff7e,#adff52,#bdff42,#b7ff48,#c1ff3e,#bcff43,#ddff22,#ddff22,#c4ff3b,#d5ff2a,#d3ff2c,#baff45,#94ff6b,#a7ff58,#b9ff46,#9fff60,#72ff8d,#67ff98,#49ffb6,#59ffa6,#4affb5,#6eff91,#45ffba,#18ffe7,#29ffd6,#0ffff0,#00ffff,#00f7ff,#00f0ff,#00beff,#00daff,#00bdff,#00adff,#00abff,#00b1ff,#0095ff,#0085ff,#00b7ff,#00baff,#00afff,#0095ff,#008aff,#0098ff,#00b0ff,#00c3ff,#00b3ff,#00b6ff,#00bfff,#00bbff,#00a8ff,#00b1ff,#00b0ff,#00e6ff,#00d8ff,#00bdff,#00c1ff,#00a3ff,#0094ff,#0092ff,#00a4ff,#00c3ff,#00bbff,#00b6ff,#00bcff,#00b2ff,#00b4ff,#00b4ff,#009bff,#00c7ff,#00e4ff,#00d1ff)"></i></div>
<div class="hm" style="left:404px;top:260px;width:122px;height:154px"><i style="background:linear-gradient(90deg,#0000bb,#00009b,#0000de,#0000e3,#0000c7,#0000be,#0000dd,#0000d8,#0000df,#002cff,#006cff,#0094ff,#00e7ff,#1dffe2,#33ffcc,#9bff64,#b2ff4d,#ffeb00,#ffcb00,#ffae00,#ff8a00,#ff4e00,#ff2700,#ff1b00,#f10000,#ff1a00,#ff4900,#ff5200,#ff3500,#ff4a00,#ff6c00,#ff8d00,#ffba00,#ffe300,#fcff03,#deff21,#9bff64,#5cffa3,#3cffc3,#3dffc2,#37ffc8,#10ffef,#12ffed,#00fcff,#00f6ff,#00e0ff,#00b0ff,#008bff,#008dff,#0069ff,#0075ff,#008cff,#0059ff,#0069ff,#007cff,#0079ff,#0082ff,#0079ff,#006aff,#007dff,#0078ff,#007aff,#0070ff,#007bff,#0061ff,#0071ff,#006bff,#0060ff,#008aff,#008eff,#00a0ff,#006cff,#0063ff,#00a2ff,#00a9ff,#00a9ff,#0083ff,#009cff,#006aff,#0053ff,#0099ff,#008aff,#00b3ff,#00bdff,#0094ff,#006cff,#008fff,#00a1ff,#0065ff,#007cff,#007aff,#0064ff,#008dff,#0091ff,#00a7ff,#00a8ff,#0098ff,#00acff,#00d7ff)"></i><i style="background:linear-gradient(90deg,#0000ba,#00009f,#0000d5,#0000dd,#0000c0,#0000ba,#0000ea,#0000dc,#0000ee,#002eff,#0068ff,#0090ff,#00e7ff,#23ffdc,#3effc1,#aaff55,#bdff42,#ffe100,#ffc900,#ffa200,#ff8100,#ff3f00,#ff2100,#ff0e00,#eb0000,#ff1e00,#ff4c00,#ff4c00,#ff3900,#ff5100,#ff7600,#ff8d00,#ffbd00,#fff000,#f9ff06,#dbff24,#98ff67,#56ffa9,#36ffc9,#3bffc4,#37ffc8,#0cfff3,#0bfff4,#00faff,#00ecff,#00ceff,#00a7ff,#0090ff,#0095ff,#0070ff,#0074ff,#0093ff,#006bff,#006eff,#007eff,#006eff,#007fff,#0077ff,#0069ff,#0074ff,#0077ff,#0077ff,#0072ff,#007fff,#0071ff,#0078ff,#0060ff,#0056ff,#008eff,#009cff,#009bff,#0062ff,#005dff,#008dff,#0099ff,#00a1ff,#007cff,#009bff,#0074ff,#0056ff,#0094ff,#0078ff,#009cff,#00b5ff,#008eff,#0061ff,#0090ff,#00a3ff,#0062ff,#0071ff,#006eff,#0056ff,#0080ff,#0098ff,#00b3ff,#00adff,#0093ff,#00a3ff,#00c2ff)"></i><i style="background:linear-gradient(90deg,#0000b6,#0000a0,#0000cb,#0000d2,#0000b5,#0000b5,#0000f8,#0000ed,#0005ff,#0037ff,#0069ff,#008fff,#00ecff,#2dffd2,#50ffaf,#bdff42,#ccff33,#ffd500,#ffc200,#ff9400,#ff7400,#ff3300,#ff1d00,#ff0400,#f20000,#ff2700,#ff4f00,#ff4800,#ff4700,#ff5e00,#ff8300,#ff9400,#ffca00,#fbff04,#f3ff0c,#c7ff38,#8fff70,#56ffa9,#36ffc9,#36ffc9,#2cffd3,#06fff9,#00fcff,#00f0ff,#00ddff,#00bcff,#009dff,#0092ff,#0094ff,#0075ff,#0069ff,#0093ff,#0078ff,#006aff,#007eff,#0063ff,#007aff,#0070ff,#0064ff,#0067ff,#006fff,#0073ff,#0070ff,#007fff,#007fff,#0074ff,#0055ff,#0059ff,#0096ff,#00a5ff,#008fff,#005eff,#0060ff,#0070ff,#0084ff,#0094ff,#0077ff,#0095ff,#007eff,#0068ff,#0096ff,#0066ff,#0088ff,#00a6ff,#0085ff,#0059ff,#008dff,#009eff,#0064ff,#006fff,#006bff,#0051ff,#0070ff,#009eff,#00b6ff,#00adff,#0089ff,#008dff,#00a5ff)"></i><i style="background:linear-gradient(90deg,#0000b1,#0000a2,#0000c2,#0000c5,#0000a5,#0000b2,#0001ff,#0004ff,#001cff,#0044ff,#0070ff,#0097ff,#00f4ff,#36ffc9,#67ff98,#ceff31,#d8ff27,#ffd000,#ffba00,#ff8800,#ff6800,#ff2a00,#ff1900,#ff0200,#ff0600,#ff2e00,#ff4f00,#ff4800,#ff5800,#ff7000,#ff8d00,#ff9c00,#ffdb00,#eeff11,#efff10,#adff52,#84ff7b,#5cffa3,#36ffc9,#31ffce,#20ffdf,#05fffa,#00ebff,#00e3ff,#00c8ff,#00a8ff,#0090ff,#008dff,#008aff,#0074ff,#0057ff,#0090ff,#007dff,#005cff,#0079ff,#0059ff,#0071ff,#0067ff,#005cff,#0058ff,#0063ff,#006eff,#006eff,#007dff,#0085ff,#0067ff,#004dff,#006bff,#009eff,#00a3ff,#0081ff,#0061ff,#006aff,#005aff,#006fff,#0081ff,#0073ff,#008aff,#0082ff,#007dff,#0099ff,#005cff,#007aff,#0092ff,#0079ff,#0058ff,#0083ff,#0093ff,#006bff,#0075ff,#0076ff,#0059ff,#0064ff,#009fff,#00afff,#00a2ff,#0079ff,#0073ff,#0089ff)"></i><i style="background:linear-gradient(90deg,#0000ab,#0000aa,#0000b9,#0000bc,#00009b,#0000b4,#0001ff,#0019ff,#002eff,#004eff,#0080ff,#00adff,#00ffff,#43ffbc,#82ff7d,#deff21,#e7ff18,#ffce00,#ffac00,#ff7f00,#ff5e00,#ff2300,#ff1600,#ff0900,#ff1f00,#ff2f00,#ff4b00,#ff4900,#ff6700,#ff8400,#ff9200,#ffa700,#ffec00,#e8ff17,#ecff13,#94ff6b,#76ff89,#5fffa0,#32ffcd,#2bffd4,#19ffe6,#08fff7,#00dfff,#00d5ff,#00adff,#0093ff,#007fff,#0081ff,#007dff,#006fff,#0045ff,#0089ff,#007cff,#004dff,#006eff,#0054ff,#0067ff,#005fff,#0055ff,#004bff,#005aff,#006aff,#006dff,#007eff,#0088ff,#0057ff,#0049ff,#0081ff,#009dff,#009aff,#0074ff,#0066ff,#0075ff,#0054ff,#005eff,#006bff,#0070ff,#0079ff,#0082ff,#008bff,#0099ff,#005dff,#0070ff,#007eff,#006eff,#005bff,#007aff,#0087ff,#0072ff,#0081ff,#008aff,#006aff,#0060ff,#0098ff,#009fff,#008dff,#006bff,#0060ff,#0074ff)"></i><i style="background:linear-gradient(90deg,#0000a4,#0000b4,#0000ad,#0000b6,#00009d,#0000ba,#0000f2,#0017ff,#0025ff,#003cff,#0075ff,#00a8ff,#00ebff,#33ffcc,#79ff86,#c9ff36,#d9ff26,#ffe500,#ffaf00,#ff8800,#ff6100,#ff2000,#ff1700,#ff1500,#ff3400,#ff2600,#ff3f00,#ff4000,#ff6400,#ff8200,#ff7c00,#ff9c00,#ffdf00,#feff01,#faff05,#99ff66,#7bff84,#6cff93,#36ffc9,#2fffd0,#26ffd9,#1affe5,#00eaff,#00d5ff,#00a2ff,#0091ff,#007cff,#007dff,#007aff,#006cff,#0042ff,#0088ff,#0081ff,#0047ff,#0062ff,#0055ff,#0061ff,#0058ff,#0052ff,#0046ff,#0059ff,#006bff,#006fff,#0083ff,#0087ff,#004dff,#004dff,#008eff,#0091ff,#008fff,#0070ff,#006cff,#0078ff,#0056ff,#0053ff,#0054ff,#0069ff,#0066ff,#007fff,#0091ff,#0091ff,#0065ff,#0065ff,#006cff,#0066ff,#005fff,#0077ff,#0080ff,#0076ff,#008dff,#009fff,#007cff,#0061ff,#0089ff,#008dff,#0076ff,#0063ff,#005aff,#0065ff)"></i><i style="background:linear-gradient(90deg,#000098,#0000b8,#0000a0,#0000b2,#0000a8,#0000c2,#0000e1,#0007ff,#0012ff,#0024ff,#0060ff,#0099ff,#00d5ff,#1cffe3,#60ff9f,#acff53,#c5ff3a,#ffff00,#ffb600,#ff9800,#ff6900,#ff1f00,#ff1e00,#ff2200,#ff3c00,#ff1f00,#ff3800,#ff3800,#ff5d00,#ff7600,#ff6200,#ff8b00,#ffca00,#ffea00,#fff900,#aaff55,#8aff75,#7aff85,#3effc1,#35ffca,#39ffc6,#2bffd4,#00feff,#00d8ff,#00a3ff,#009bff,#0082ff,#007eff,#0081ff,#006dff,#0052ff,#008cff,#0090ff,#004fff,#0058ff,#005aff,#005eff,#0050ff,#0052ff,#0048ff,#005fff,#0070ff,#0072ff,#0088ff,#0084ff,#004bff,#0054ff,#0088ff,#007dff,#0088ff,#0074ff,#0070ff,#006fff,#0057ff,#004cff,#0047ff,#0061ff,#0052ff,#007aff,#0092ff,#0082ff,#006dff,#005aff,#005eff,#005fff,#0061ff,#007bff,#007cff,#0073ff,#0096ff,#00a7ff,#0085ff,#0060ff,#0074ff,#007fff,#0067ff,#0063ff,#005cff,#0055ff)"></i><i style="background:linear-gradient(90deg,#000088,#0000af,#000094,#0000ab,#0000af,#0000c3,#0000ce,#0000e5,#0000f5,#0000fd,#0030ff,#006bff,#00a4ff,#00deff,#1cffe3,#67ff98,#89ff76,#c5ff3a,#ffe000,#ffc200,#ff8600,#ff2c00,#ff3000,#ff2d00,#ff3600,#ff1f00,#ff3a00,#ff3200,#ff4c00,#ff5400,#ff3900,#ff6000,#ff9c00,#ffc000,#ffda00,#d6ff29,#b5ff4a,#9eff61,#5cffa3,#4dffb2,#58ffa7,#42ffbd,#21ffde,#00e8ff,#00bbff,#00bbff,#009fff,#0091ff,#0097ff,#007cff,#0075ff,#0097ff,#00a9ff,#0061ff,#0056ff,#005cff,#005aff,#0048ff,#0052ff,#004dff,#0069ff,#0078ff,#0074ff,#0089ff,#007dff,#0050ff,#005aff,#0077ff,#006aff,#0084ff,#007aff,#006eff,#0062ff,#0052ff,#0048ff,#0049ff,#005cff,#0040ff,#0075ff,#0093ff,#0073ff,#0072ff,#0053ff,#0052ff,#0054ff,#005fff,#007fff,#0077ff,#006eff,#0097ff,#009fff,#0083ff,#005dff,#0061ff,#007bff,#0064ff,#0066ff,#005eff,#0041ff)"></i><i style="background:linear-gradient(90deg,#000080,#00009d,#00008e,#0000a2,#0000b0,#0000c0,#0000bc,#0000c3,#0000e4,#0000db,#0000fd,#0035ff,#0061ff,#007eff,#00b5ff,#00ffff,#2bffd4,#6eff91,#ccff33,#efff10,#ffc400,#ff5400,#ff5700,#ff4100,#ff2f00,#ff2800,#ff4400,#ff3500,#ff3800,#ff2c00,#ff0e00,#ff2b00,#ff6600,#ff8c00,#ffa800,#ffe500,#f9ff06,#dfff20,#96ff69,#7dff82,#7fff80,#5bffa4,#4dffb2,#07fff8,#00e2ff,#00e9ff,#00ceff,#00b5ff,#00bfff,#00a3ff,#00a3ff,#00a6ff,#00c3ff,#0078ff,#005fff,#005dff,#0056ff,#0041ff,#004fff,#0053ff,#0070ff,#0083ff,#0074ff,#0086ff,#0077ff,#0054ff,#005eff,#0068ff,#0061ff,#007cff,#007bff,#006aff,#005aff,#0049ff,#0045ff,#005bff,#005eff,#0037ff,#0072ff,#0097ff,#006fff,#0076ff,#0056ff,#004aff,#0048ff,#005bff,#007cff,#006fff,#006eff,#0096ff,#008dff,#007eff,#005fff,#0059ff,#007fff,#0068ff,#0069ff,#005dff,#002cff)"></i><i style="background:linear-gradient(90deg,#000080,#00008d,#00008f,#00009b,#0000ae,#0000bc,#0000b0,#0000af,#0000e4,#0000c7,#0000de,#0012ff,#0028ff,#0024ff,#0059ff,#009cff,#00cfff,#1effe1,#76ff89,#9aff65,#efff10,#ff9300,#ff9400,#ff6b00,#ff4000,#ff3e00,#ff5200,#ff3d00,#ff2500,#ff0e00,#f40000,#ff0800,#ff4100,#ff6800,#ff7a00,#ffa800,#ffc400,#ffd100,#dbff24,#baff45,#aaff55,#76ff89,#77ff88,#29ffd6,#05fffa,#12ffed,#00faff,#00dfff,#00edff,#00deff,#00d3ff,#00b8ff,#00d8ff,#008eff,#0071ff,#0063ff,#0056ff,#003aff,#0049ff,#0059ff,#0073ff,#008dff,#0073ff,#0080ff,#0076ff,#005aff,#0061ff,#0065ff,#0061ff,#006fff,#0073ff,#0068ff,#005fff,#0047ff,#0047ff,#0071ff,#0065ff,#003cff,#0074ff,#0099ff,#0077ff,#007aff,#0062ff,#004cff,#0046ff,#005cff,#0074ff,#006dff,#007aff,#0099ff,#0079ff,#007cff,#006dff,#0064ff,#0089ff,#006eff,#006dff,#005eff,#0021ff)"></i><i style="background:linear-gradient(90deg,#000082,#00008b,#000096,#00009b,#0000ab,#0000b8,#0000aa,#0000a9,#0000ea,#0000bc,#0000cc,#0000fb,#0000fe,#0000ea,#0024ff,#005bff,#0090ff,#00e8ff,#39ffc6,#5affa5,#b8ff47,#ffc900,#ffce00,#ff9b00,#ff6300,#ff5c00,#ff6300,#ff4500,#ff1300,#fd0000,#ea0000,#f80000,#ff3200,#ff5900,#ff5d00,#ff8100,#ff9900,#ff9200,#ffea00,#ecff13,#d2ff2d,#93ff6c,#98ff67,#4bffb4,#20ffdf,#2bffd4,#16ffe9,#01fffe,#13ffec,#18ffe7,#00faff,#00caff,#00e5ff,#00a0ff,#0081ff,#006dff,#005dff,#0034ff,#0041ff,#0061ff,#006fff,#0091ff,#006fff,#0079ff,#007dff,#0063ff,#0061ff,#0065ff,#005fff,#005aff,#0063ff,#006aff,#006dff,#004eff,#004eff,#007eff,#006bff,#0048ff,#0075ff,#0090ff,#007dff,#0078ff,#006dff,#0058ff,#004fff,#005dff,#0064ff,#006bff,#0089ff,#0098ff,#0063ff,#0076ff,#007dff,#0078ff,#008fff,#0070ff,#006eff,#005dff,#001fff)"></i><i style="background:linear-gradient(90deg,#000092,#000095,#0000a3,#0000a4,#0000a9,#0000b5,#0000ab,#0000ac,#0000ed,#0000b9,#0000c3,#0000eb,#0000e3,#0000d2,#0011ff,#003bff,#006aff,#00c4ff,#0ffff0,#2cffd3,#9aff65,#fff200,#fff700,#ffc100,#ff8200,#ff7900,#ff7600,#ff4900,#ff0600,#f80000,#eb0000,#f20000,#ff2a00,#ff5100,#ff4900,#ff6500,#ff8000,#ff6d00,#ffc400,#fff200,#f4ff0b,#b3ff4c,#acff53,#68ff97,#3affc5,#3cffc3,#24ffdb,#14ffeb,#27ffd8,#3fffc0,#15ffea,#00d7ff,#00e8ff,#00afff,#008aff,#0077ff,#0069ff,#0036ff,#003dff,#0065ff,#0068ff,#008bff,#006aff,#0072ff,#008bff,#006fff,#005dff,#0061ff,#005bff,#0048ff,#0055ff,#0070ff,#007eff,#005fff,#0058ff,#007dff,#006cff,#0055ff,#0070ff,#007eff,#0078ff,#006aff,#0073ff,#0069ff,#005eff,#005dff,#0054ff,#0069ff,#0091ff,#0091ff,#0051ff,#006cff,#0087ff,#008aff,#0092ff,#0072ff,#0071ff,#005cff,#0028ff)"></i><i style="background:linear-gradient(90deg,#0000a5,#0000a0,#0000b0,#0000b3,#0000aa,#0000b6,#0000b3,#0000b0,#0000eb,#0000bf,#0000c8,#0000e2,#0000d5,#0000d1,#000bff,#002aff,#0049ff,#009cff,#00ddff,#00feff,#77ff88,#d6ff29,#e0ff1f,#ffe700,#ffa400,#ff9800,#ff9100,#ff4d00,#ff0400,#ff0100,#f40000,#ee0000,#ff2200,#ff4300,#ff3500,#ff4500,#ff6400,#ff5500,#ff9d00,#ffd000,#ffdf00,#ddff22,#c0ff3f,#85ff7a,#5cffa3,#4effb1,#34ffcb,#24ffdb,#32ffcd,#55ffaa,#29ffd6,#00e7ff,#00ebff,#00c1ff,#0091ff,#007fff,#0077ff,#0046ff,#0041ff,#0065ff,#0064ff,#0081ff,#0067ff,#006cff,#0096ff,#007aff,#005bff,#005aff,#0059ff,#0042ff,#0051ff,#007aff,#008eff,#0071ff,#0062ff,#0073ff,#0068ff,#005cff,#0066ff,#006bff,#006eff,#0056ff,#0074ff,#0077ff,#0065ff,#0057ff,#0048ff,#0062ff,#008eff,#0085ff,#0048ff,#0061ff,#0085ff,#0092ff,#0092ff,#007bff,#0079ff,#005dff,#003eff)"></i><i style="background:linear-gradient(90deg,#0000b8,#0000a3,#0000bb,#0000c5,#0000b1,#0000ba,#0000bf,#0000b5,#0000eb,#0000d3,#0000e5,#0000f3,#0000e8,#0000fb,#0034ff,#005eff,#007fff,#00d4ff,#13ffec,#42ffbd,#bfff40,#fff300,#ffce00,#ff9c00,#ff6800,#ff6800,#ff7800,#ff3300,#fc0000,#ff0c00,#ff0300,#f50000,#ff2700,#ff4900,#ff4b00,#ff5900,#ff8500,#ff9200,#ffcc00,#fcff03,#f7ff08,#baff45,#8dff72,#63ff9c,#4effb1,#32ffcd,#1bffe4,#02fffd,#04fffb,#27ffd8,#03fffc,#00c8ff,#00c1ff,#00adff,#0082ff,#0070ff,#0071ff,#0054ff,#0040ff,#005dff,#0063ff,#0077ff,#0068ff,#0064ff,#0096ff,#007eff,#005dff,#0055ff,#005cff,#004aff,#005cff,#0082ff,#0095ff,#007bff,#006aff,#006aff,#0064ff,#005fff,#005aff,#0060ff,#0067ff,#0047ff,#0072ff,#007bff,#005eff,#004fff,#0047ff,#005bff,#0084ff,#0077ff,#0049ff,#0057ff,#007dff,#008bff,#008aff,#0089ff,#0085ff,#0062ff,#005eff)"></i><i style="background:linear-gradient(90deg,#0000c7,#00009f,#0000c3,#0000d6,#0000b9,#0000bb,#0000cb,#0000ba,#0000ed,#0000ee,#000eff,#0015ff,#000cff,#0037ff,#0073ff,#00abff,#00cfff,#20ffdf,#59ffa6,#97ff68,#ffef00,#ffb400,#ff7d00,#ff5300,#ff3d00,#ff4100,#ff6600,#ff2900,#ff0600,#ff1d00,#ff1800,#ff0f00,#ff3c00,#ff6000,#ff7900,#ff8400,#ffb500,#ffdd00,#f8ff07,#c6ff39,#caff35,#90ff6f,#5dffa2,#42ffbd,#3bffc4,#15ffea,#00fcff,#00d8ff,#00cbff,#00eaff,#00d1ff,#00abff,#009aff,#0097ff,#0078ff,#0064ff,#006cff,#0065ff,#0040ff,#005aff,#0068ff,#0073ff,#006fff,#005aff,#0089ff,#007cff,#0064ff,#0055ff,#0061ff,#0058ff,#006eff,#0086ff,#0093ff,#007dff,#0070ff,#0065ff,#0062ff,#0062ff,#0054ff,#005eff,#0067ff,#0046ff,#006fff,#0072ff,#0051ff,#004eff,#0052ff,#0059ff,#007aff,#006bff,#0050ff,#004cff,#0074ff,#007bff,#0079ff,#0090ff,#008dff,#006aff,#007fff)"></i><i style="background:linear-gradient(90deg,#0000cf,#00009d,#0000c6,#0000e1,#0000bd,#0000b6,#0000d7,#0000c0,#0000f1,#000bff,#0037ff,#003bff,#0036ff,#0077ff,#00bbff,#00f7ff,#20ffdf,#6aff95,#9eff61,#e2ff1d,#ffb000,#ff7f00,#ff4800,#ff2500,#ff3000,#ff2e00,#ff5e00,#ff2d00,#ff1500,#ff3000,#ff2f00,#ff3200,#ff5b00,#ff8600,#ffb100,#ffbd00,#ffe700,#e5ff1a,#c6ff39,#9bff64,#a2ff5d,#6aff95,#3cffc3,#29ffd6,#27ffd8,#00fcff,#00e1ff,#00b4ff,#009dff,#00b4ff,#00a5ff,#0099ff,#007fff,#0084ff,#0073ff,#0060ff,#006cff,#0072ff,#0042ff,#0060ff,#006dff,#006fff,#0073ff,#004eff,#0073ff,#0076ff,#006aff,#0059ff,#0062ff,#0065ff,#007bff,#0085ff,#008fff,#0078ff,#0071ff,#0061ff,#0066ff,#0067ff,#0057ff,#005fff,#0068ff,#0052ff,#006cff,#0065ff,#004dff,#0055ff,#0060ff,#0058ff,#0072ff,#0062ff,#0056ff,#0046ff,#0070ff,#006dff,#0064ff,#0087ff,#0089ff,#006fff,#0094ff)"></i><i style="background:linear-gradient(90deg,#0000cc,#0000a0,#0000c5,#0000e3,#0000bb,#0000b1,#0000e0,#0000c4,#0000ef,#001fff,#0053ff,#0057ff,#0055ff,#00a7ff,#00f4ff,#2effd1,#56ffa9,#a0ff5f,#d3ff2c,#ffec00,#ff8d00,#ff5c00,#ff3200,#ff1500,#ff3700,#ff2b00,#ff5d00,#ff3800,#ff2300,#ff4300,#ff4300,#ff4c00,#ff7400,#ffa800,#ffdc00,#fff000,#eeff11,#c2ff3d,#a1ff5e,#7cff83,#7eff81,#4dffb2,#29ffd6,#18ffe7,#13ffec,#00edff,#00ccff,#00a0ff,#0085ff,#0091ff,#0083ff,#008fff,#0071ff,#0079ff,#0070ff,#0065ff,#006fff,#0075ff,#0046ff,#006aff,#006eff,#0068ff,#0070ff,#0041ff,#005bff,#006dff,#006bff,#005dff,#005fff,#006cff,#007fff,#0081ff,#008aff,#006fff,#006dff,#005eff,#006cff,#006eff,#005eff,#005eff,#0064ff,#005dff,#0069ff,#005dff,#0057ff,#005fff,#0066ff,#0056ff,#006dff,#005cff,#005cff,#004bff,#0071ff,#0069ff,#0056ff,#0072ff,#0076ff,#006bff,#0096ff)"></i><i style="background:linear-gradient(90deg,#0000c1,#0000a5,#0000c0,#0000de,#0000b8,#0000b5,#0000e4,#0000c5,#0000eb,#002bff,#0068ff,#0074ff,#0079ff,#00daff,#2effd1,#62ff9d,#86ff79,#d3ff2c,#fff300,#ffc000,#ff7300,#ff3f00,#ff2300,#ff1300,#ff4300,#ff3100,#ff6600,#ff4900,#ff3300,#ff5900,#ff5a00,#ff6700,#ff8d00,#ffc900,#f9ff06,#d7ff28,#bcff43,#9fff60,#7aff85,#57ffa8,#53ffac,#2effd1,#16ffe9,#02fffd,#00f5ff,#00d6ff,#00b3ff,#0097ff,#007aff,#007aff,#0069ff,#0083ff,#006eff,#0073ff,#006bff,#006cff,#0072ff,#0072ff,#0049ff,#0070ff,#006cff,#005eff,#0066ff,#0036ff,#0046ff,#0062ff,#0069ff,#0062ff,#0059ff,#006eff,#007aff,#0077ff,#0083ff,#0066ff,#0063ff,#005eff,#0072ff,#0072ff,#0063ff,#005aff,#005cff,#005eff,#0065ff,#0060ff,#006bff,#0064ff,#0062ff,#0050ff,#006cff,#005bff,#005eff,#0059ff,#0077ff,#006dff,#0055ff,#005eff,#005dff,#0059ff,#0088ff)"></i><i style="background:linear-gradient(90deg,#0000b6,#0000ab,#0000bc,#0000d5,#0000bb,#0000c5,#0000e2,#0000c5,#0000e8,#0033ff,#007aff,#0092ff,#00a4ff,#12ffed,#63ff9c,#93ff6c,#adff52,#fbff04,#ffc000,#ff9f00,#ff6700,#ff3100,#ff1900,#ff1a00,#ff4c00,#ff3700,#ff7100,#ff5d00,#ff4800,#ff7000,#ff7300,#ff8400,#ffa400,#ffe200,#d7ff28,#a9ff56,#8aff75,#7dff82,#57ffa8,#34ffcb,#28ffd7,#10ffef,#02fffd,#00eaff,#00d6ff,#00baff,#0097ff,#0094ff,#0079ff,#006dff,#0056ff,#0075ff,#0074ff,#0070ff,#0063ff,#0073ff,#0077ff,#006fff,#004bff,#006cff,#006bff,#005cff,#0062ff,#0034ff,#0037ff,#0058ff,#0066ff,#0068ff,#0055ff,#006cff,#0070ff,#0067ff,#0077ff,#005bff,#0054ff,#005dff,#0074ff,#0072ff,#005fff,#0053ff,#0052ff,#0054ff,#0061ff,#006dff,#007fff,#0067ff,#005cff,#0049ff,#0071ff,#005eff,#0060ff,#0067ff,#007bff,#0073ff,#005eff,#0057ff,#0048ff,#0043ff,#0075ff)"></i><i style="background:linear-gradient(90deg,#0000b1,#0000b3,#0000ba,#0000cb,#0000c5,#0000d9,#0000d8,#0000c5,#0000e8,#0035ff,#0085ff,#00a9ff,#00cdff,#41ffbe,#8aff75,#baff45,#caff35,#ffed00,#ff9c00,#ff8d00,#ff6b00,#ff3400,#ff1100,#ff2100,#ff4c00,#ff3e00,#ff7700,#ff6d00,#ff5e00,#ff8100,#ff8600,#ffa300,#ffba00,#fff000,#c0ff3f,#8bff74,#65ff9a,#64ff9b,#40ffbf,#18ffe7,#07fff8,#00f8ff,#00f1ff,#00dbff,#00beff,#00a1ff,#0082ff,#0091ff,#0079ff,#0067ff,#004cff,#0066ff,#007bff,#006fff,#0058ff,#0076ff,#0080ff,#0070ff,#004bff,#0062ff,#006bff,#0063ff,#0066ff,#003dff,#0030ff,#0054ff,#0063ff,#006eff,#0052ff,#0067ff,#0068ff,#0058ff,#0069ff,#0050ff,#0046ff,#0057ff,#0071ff,#006eff,#0055ff,#004fff,#004eff,#0049ff,#005eff,#007fff,#008eff,#006dff,#005dff,#0048ff,#0078ff,#0067ff,#0063ff,#006cff,#007cff,#0072ff,#0069ff,#005eff,#003dff,#0035ff,#0068ff)"></i><i style="background:linear-gradient(90deg,#0000ae,#0000bf,#0000bd,#0000c4,#0000d3,#0000e6,#0000d0,#0000cf,#0000f2,#003dff,#0094ff,#00c7ff,#00feff,#6eff91,#afff50,#e0ff1f,#eeff11,#ffd700,#ff8100,#ff8000,#ff7300,#ff3b00,#ff0c00,#ff2000,#ff4300,#ff4800,#ff7400,#ff7500,#ff7500,#ff9100,#ff9d00,#ffc800,#ffdc00,#fcff03,#acff53,#74ff8b,#4dffb2,#56ffa9,#35ffca,#00ffff,#00f3ff,#00e8ff,#00e0ff,#00cbff,#00a7ff,#008dff,#0075ff,#0084ff,#0073ff,#0061ff,#004bff,#005aff,#007bff,#006fff,#0050ff,#0072ff,#0088ff,#006fff,#004bff,#0059ff,#006aff,#006bff,#0072ff,#004cff,#0033ff,#0056ff,#005eff,#006eff,#004fff,#0061ff,#0068ff,#0055ff,#005fff,#0044ff,#003dff,#004bff,#006cff,#006bff,#0050ff,#0055ff,#0056ff,#0049ff,#0060ff,#008cff,#0093ff,#0074ff,#0065ff,#004dff,#007dff,#0071ff,#006bff,#006bff,#007bff,#006eff,#006eff,#0067ff,#003aff,#0036ff,#0065ff)"></i><i style="background:linear-gradient(90deg,#0000a7,#0000ce,#0000bf,#0000c0,#0000dc,#0000e4,#0000ca,#0000da,#0000fe,#0042ff,#0098ff,#00daff,#1effe1,#82ff7d,#bcff43,#f3ff0c,#fff400,#ffc800,#ff7700,#ff7600,#ff7900,#ff3d00,#ff0a00,#ff1b00,#ff3a00,#ff5600,#ff6900,#ff6f00,#ff8600,#ff9a00,#ffab00,#ffe600,#fffc00,#f3ff0c,#abff54,#6cff93,#49ffb6,#56ffa9,#3affc5,#00f7ff,#00f2ff,#00ebff,#00d3ff,#00b9ff,#0096ff,#0086ff,#0075ff,#0072ff,#0067ff,#005dff,#0056ff,#005aff,#0072ff,#0070ff,#004bff,#006bff,#008aff,#006eff,#004fff,#0058ff,#0069ff,#006eff,#007dff,#005cff,#003dff,#005bff,#0053ff,#0067ff,#004dff,#005cff,#0072ff,#0065ff,#005dff,#003bff,#003cff,#0042ff,#0069ff,#006aff,#0055ff,#0064ff,#0066ff,#0058ff,#0064ff,#008fff,#008eff,#0074ff,#006dff,#0055ff,#007cff,#0075ff,#0073ff,#006cff,#007dff,#006dff,#006cff,#006bff,#003cff,#0042ff,#0064ff)"></i><i style="background:linear-gradient(90deg,#000099,#0000d6,#0000bc,#0000bc,#0000d6,#0000cf,#0000ba,#0000ce,#0000ee,#0026ff,#0072ff,#00bdff,#00ffff,#57ffa8,#8aff75,#ccff33,#f4ff0b,#ffdd00,#ff8c00,#ff7b00,#ff7d00,#ff3d00,#ff0f00,#ff1600,#ff3300,#ff5c00,#ff4f00,#ff5400,#ff7c00,#ff8500,#ff9900,#ffdd00,#fff300,#ffec00,#d3ff2c,#85ff7a,#64ff9b,#69ff96,#59ffa6,#0cfff3,#0dfff2,#0efff1,#00daff,#00bcff,#00a0ff,#0096ff,#0088ff,#006bff,#0060ff,#0060ff,#006dff,#0065ff,#006bff,#0070ff,#004aff,#0067ff,#0088ff,#0071ff,#005bff,#0061ff,#006dff,#006eff,#0081ff,#0066ff,#004cff,#005eff,#0045ff,#0059ff,#004bff,#0059ff,#0083ff,#007eff,#005fff,#0037ff,#0041ff,#0041ff,#0066ff,#006bff,#0062ff,#0073ff,#0071ff,#006bff,#006aff,#0089ff,#007fff,#0068ff,#006bff,#005cff,#0075ff,#0070ff,#0078ff,#006fff,#0080ff,#0075ff,#0068ff,#0068ff,#0043ff,#004fff,#0063ff)"></i><i style="background:linear-gradient(90deg,#000093,#0000d8,#0000b6,#0000b9,#0000cd,#0000b9,#0000b1,#0000c5,#0000e5,#0015ff,#0053ff,#009fff,#00daff,#2affd5,#57ffa8,#a6ff59,#d7ff28,#fff600,#ffa500,#ff8000,#ff7a00,#ff3c00,#ff1b00,#ff1700,#ff3400,#ff5d00,#ff3900,#ff3f00,#ff7500,#ff7800,#ff9100,#ffd300,#ffe100,#ffce00,#f8ff07,#9dff62,#7fff80,#71ff8e,#72ff8d,#21ffde,#22ffdd,#2cffd3,#00deff,#00c8ff,#00b4ff,#00a7ff,#009cff,#006bff,#0060ff,#0067ff,#0084ff,#0071ff,#006dff,#006cff,#0047ff,#0067ff,#0088ff,#007dff,#006bff,#006eff,#0076ff,#006dff,#0079ff,#0068ff,#005cff,#0060ff,#003aff,#004cff,#004aff,#005aff,#0092ff,#0091ff,#005dff,#0038ff,#0048ff,#0048ff,#0060ff,#0072ff,#0070ff,#007bff,#006cff,#0077ff,#006cff,#007fff,#006fff,#0056ff,#0063ff,#005eff,#006aff,#0066ff,#0076ff,#0070ff,#0081ff,#0081ff,#0063ff,#0062ff,#004bff,#005aff,#0060ff)"></i><i style="background:linear-gradient(90deg,#00009b,#0000d3,#0000b0,#0000b4,#0000c7,#0000a9,#0000ae,#0000be,#0000dc,#0007ff,#003bff,#007bff,#00b3ff,#00ffff,#25ffda,#81ff7e,#b3ff4c,#e4ff1b,#ffc400,#ff9200,#ff7c00,#ff4000,#ff2d00,#ff1e00,#ff3500,#ff5700,#ff2700,#ff3300,#ff6d00,#ff6f00,#ff9100,#ffc400,#ffc100,#ffb100,#ffe900,#b5ff4a,#9bff64,#76ff89,#82ff7d,#33ffcc,#2fffd0,#41ffbe,#00e8ff,#00e0ff,#00d0ff,#00baff,#00b4ff,#0076ff,#006fff,#0076ff,#0093ff,#0077ff,#007aff,#006aff,#0044ff,#0069ff,#0087ff,#008bff,#0074ff,#0075ff,#007cff,#006cff,#0068ff,#0064ff,#0069ff,#0065ff,#0039ff,#0044ff,#004bff,#0061ff,#0099ff,#0093ff,#0055ff,#003cff,#0050ff,#0053ff,#0059ff,#007eff,#0078ff,#0079ff,#005fff,#0077ff,#006cff,#0075ff,#0064ff,#0048ff,#005cff,#0061ff,#0062ff,#005cff,#006eff,#006bff,#007eff,#008cff,#0061ff,#005dff,#0054ff,#0063ff,#0064ff)"></i><i style="background:linear-gradient(90deg,#0000af,#0000cd,#0000af,#0000af,#0000c7,#00009f,#0000b3,#0000ba,#0000ce,#0000f3,#0022ff,#004eff,#0089ff,#00d7ff,#00f1ff,#53ffac,#83ff7c,#acff53,#fff600,#ffbe00,#ff9000,#ff5100,#ff4900,#ff2e00,#ff3700,#ff4e00,#ff1b00,#ff3000,#ff6500,#ff6800,#ff8d00,#ffaa00,#ff9300,#ff9000,#ffcc00,#d5ff2a,#bfff40,#88ff77,#8fff70,#47ffb8,#3dffc2,#4cffb3,#00fcff,#02fffd,#00edff,#00d3ff,#00d3ff,#0089ff,#008bff,#008bff,#0099ff,#0078ff,#008cff,#006dff,#0044ff,#006aff,#0085ff,#0093ff,#0074ff,#006fff,#007cff,#0068ff,#0053ff,#005fff,#0073ff,#006dff,#0045ff,#0042ff,#0050ff,#006bff,#0093ff,#0085ff,#004fff,#0045ff,#005dff,#0060ff,#0054ff,#008bff,#007aff,#0071ff,#0057ff,#0070ff,#006aff,#0070ff,#0062ff,#0040ff,#005bff,#0067ff,#0062ff,#0056ff,#0063ff,#0065ff,#0079ff,#0092ff,#005dff,#0059ff,#005aff,#006aff,#006fff)"></i><i style="background:linear-gradient(90deg,#0000c5,#0000c7,#0000b4,#0000ae,#0000cc,#00009e,#0000be,#0000bd,#0000c2,#0000df,#000dff,#0025ff,#0068ff,#00b8ff,#00c7ff,#26ffd9,#54ffab,#73ff8c,#cdff32,#fffb00,#ffb600,#ff6d00,#ff6a00,#ff4600,#ff3c00,#ff4800,#ff1800,#ff3200,#ff5f00,#ff6100,#ff8100,#ff8e00,#ff6800,#ff7500,#ffb400,#f2ff0d,#e5ff1a,#a4ff5b,#9aff65,#62ff9d,#4dffb2,#4cffb3,#11ffee,#1effe1,#07fff8,#00ecff,#00eeff,#009cff,#00a7ff,#009dff,#0097ff,#007eff,#0098ff,#0072ff,#0049ff,#0069ff,#0083ff,#0090ff,#006cff,#0060ff,#0075ff,#0061ff,#0043ff,#005eff,#0078ff,#0076ff,#0057ff,#0046ff,#0059ff,#0073ff,#0083ff,#0074ff,#0051ff,#0052ff,#006cff,#006fff,#0054ff,#0091ff,#007aff,#0069ff,#005aff,#0068ff,#006bff,#0071ff,#0064ff,#0040ff,#0060ff,#0070ff,#0066ff,#0055ff,#005cff,#0065ff,#0077ff,#0090ff,#0057ff,#0055ff,#005eff,#006eff,#007dff)"></i><i style="background:linear-gradient(90deg,#0000d2,#0000c0,#0000bc,#0000b5,#0000cc,#0000a3,#0000c9,#0000c3,#0000b9,#0000c9,#0000ef,#0000f3,#0037ff,#007fff,#0082ff,#00d2ff,#00feff,#18ffe7,#6aff95,#99ff66,#f0ff0f,#ffb400,#ffa200,#ff7400,#ff5600,#ff4f00,#ff1d00,#ff3500,#ff5800,#ff5100,#ff6200,#ff6600,#ff3600,#ff4800,#ff8900,#ffd600,#ffd500,#e3ff1c,#c7ff38,#9cff63,#78ff87,#5bffa4,#32ffcd,#40ffbf,#2effd1,#17ffe8,#15ffea,#00c4ff,#00ceff,#00b9ff,#00a4ff,#0094ff,#00a1ff,#007eff,#0057ff,#006eff,#0088ff,#008aff,#0067ff,#0053ff,#006aff,#005bff,#003eff,#005fff,#007aff,#007aff,#0068ff,#0051ff,#0061ff,#0076ff,#006dff,#006aff,#005cff,#005bff,#0078ff,#007eff,#0052ff,#008dff,#007aff,#0065ff,#0060ff,#0060ff,#006eff,#0076ff,#0067ff,#0045ff,#0066ff,#0078ff,#006aff,#005bff,#005bff,#006eff,#0077ff,#0089ff,#0050ff,#0050ff,#0063ff,#0073ff,#0083ff)"></i><i style="background:linear-gradient(90deg,#0000d3,#0000b8,#0000c1,#0000c1,#0000c6,#0000ae,#0000ce,#0000ca,#0000ba,#0000bf,#0000df,#0000db,#001cff,#0056ff,#004aff,#0086ff,#00aeff,#00cdff,#12ffed,#38ffc7,#92ff6d,#f1ff0e,#ffe300,#ffb700,#ff8d00,#ff6e00,#ff3200,#ff3800,#ff5300,#ff4600,#ff4a00,#ff4d00,#ff1d00,#ff3200,#ff6e00,#ffa700,#ff9600,#ffdd00,#fffe00,#e0ff1f,#b0ff4f,#7cff83,#58ffa7,#5dffa2,#51ffae,#3dffc2,#30ffcf,#00f2ff,#00f0ff,#00daff,#00beff,#00b3ff,#00adff,#0092ff,#0071ff,#0079ff,#0092ff,#0088ff,#006bff,#0050ff,#0061ff,#0058ff,#0041ff,#005dff,#0075ff,#0077ff,#0071ff,#0062ff,#0063ff,#0072ff,#0058ff,#0068ff,#006bff,#0059ff,#007cff,#0087ff,#004dff,#007eff,#0079ff,#0063ff,#0064ff,#005bff,#0072ff,#0075ff,#0065ff,#004aff,#0068ff,#007cff,#006eff,#0068ff,#0062ff,#007bff,#0079ff,#007eff,#004aff,#004bff,#0066ff,#0078ff,#007bff)"></i><i style="background:linear-gradient(90deg,#0000c9,#0000b2,#0000bf,#0000cc,#0000be,#0000ba,#0000c8,#0000c6,#0000bc,#0000bb,#0000d8,#0000d3,#0012ff,#003cff,#0023ff,#0047ff,#0065ff,#008cff,#00c6ff,#00eaff,#3cffc3,#91ff6e,#d3ff2c,#f0ff0f,#ffde00,#ffa900,#ff5f00,#ff4600,#ff5000,#ff4100,#ff4000,#ff4200,#ff1800,#ff2f00,#ff6100,#ff7c00,#ff6100,#ffa600,#ffc100,#ffd700,#f4ff0b,#b4ff4b,#8eff71,#7eff81,#74ff8b,#62ff9d,#49ffb6,#24ffdb,#12ffed,#01fffe,#00e4ff,#00d8ff,#00c7ff,#00afff,#0098ff,#008eff,#0099ff,#008fff,#0077ff,#0057ff,#0061ff,#005cff,#0047ff,#0054ff,#006aff,#006dff,#006fff,#0072ff,#0063ff,#006cff,#004dff,#006aff,#0076ff,#0050ff,#0079ff,#0088ff,#0044ff,#006dff,#007aff,#0065ff,#0067ff,#005dff,#0075ff,#006cff,#0062ff,#004cff,#0067ff,#007bff,#0072ff,#007aff,#006dff,#0084ff,#007bff,#0071ff,#0045ff,#0048ff,#0069ff,#007dff,#006aff)"></i><i style="background:linear-gradient(90deg,#0000ba,#0000b3,#0000b9,#0000d0,#0000b6,#0000c2,#0000b9,#0000b6,#0000b6,#0000ba,#0000db,#0000da,#0019ff,#003bff,#0020ff,#003dff,#0060ff,#0094ff,#00cbff,#00f4ff,#39ffc6,#83ff7c,#d7ff28,#e0ff1f,#ffe800,#ffb100,#ff7000,#ff4000,#ff4100,#ff3b00,#ff3e00,#ff4100,#ff2100,#ff4100,#ff6e00,#ff7000,#ff5e00,#ffaa00,#ffc300,#ffd400,#faff05,#beff41,#9aff65,#75ff8a,#6cff93,#63ff9c,#44ffbb,#33ffcc,#10ffef,#03fffc,#00e4ff,#00dbff,#00cdff,#00b3ff,#00a9ff,#0094ff,#008eff,#0090ff,#0081ff,#0060ff,#0067ff,#0066ff,#004aff,#0049ff,#0060ff,#0062ff,#0065ff,#0077ff,#0061ff,#0065ff,#004dff,#0068ff,#007cff,#004cff,#0074ff,#0083ff,#003eff,#0063ff,#007eff,#006cff,#006eff,#006aff,#0074ff,#005dff,#005eff,#004cff,#0063ff,#0077ff,#0074ff,#0089ff,#0073ff,#0081ff,#0078ff,#0062ff,#0042ff,#0049ff,#006aff,#007fff,#005aff)"></i><i style="background:linear-gradient(90deg,#0000ad,#0000bb,#0000b4,#0000cc,#0000ae,#0000c2,#0000a9,#0000a0,#0000aa,#0000b9,#0000dc,#0000de,#001eff,#0038ff,#0019ff,#0033ff,#005fff,#009bff,#00d5ff,#01fffe,#38ffc7,#79ff86,#d1ff2e,#cdff32,#ffe800,#ffb300,#ff7f00,#ff3500,#ff3000,#ff3300,#ff3800,#ff4000,#ff2900,#ff4d00,#ff7400,#ff6400,#ff5800,#ffa900,#ffc500,#ffd200,#feff01,#c7ff38,#a5ff5a,#6fff90,#5fffa0,#61ff9e,#42ffbd,#37ffc8,#0dfff2,#03fffc,#00deff,#00dfff,#00daff,#00b5ff,#00b0ff,#009bff,#0085ff,#008cff,#0088ff,#0067ff,#0072ff,#0072ff,#004aff,#0044ff,#005dff,#005cff,#005bff,#006eff,#005cff,#005dff,#0053ff,#0064ff,#0080ff,#0050ff,#006bff,#0079ff,#0042ff,#0063ff,#0086ff,#0077ff,#0078ff,#007dff,#0070ff,#0052ff,#005bff,#004bff,#0060ff,#0076ff,#0074ff,#0090ff,#0072ff,#0077ff,#0071ff,#0057ff,#0044ff,#0051ff,#006aff,#007fff,#0054ff)"></i><i style="background:linear-gradient(90deg,#0000a5,#0000c4,#0000b5,#0000c4,#0000a7,#0000ba,#0000a4,#000094,#0000a2,#0000bc,#0000d7,#0000d8,#0021ff,#0035ff,#0013ff,#002bff,#0062ff,#009fff,#00e1ff,#0bfff4,#35ffca,#74ff8b,#c3ff3c,#bdff42,#ffe300,#ffb100,#ff8a00,#ff2900,#ff2200,#ff2a00,#ff2d00,#ff3b00,#ff2e00,#ff4e00,#ff7000,#ff5f00,#ff5300,#ff9f00,#ffc500,#ffcc00,#fffb00,#caff35,#a9ff56,#6dff92,#56ffa9,#5bffa4,#40ffbf,#2dffd2,#05fffa,#00ffff,#00d5ff,#00e0ff,#00e5ff,#00b5ff,#00aaff,#00a2ff,#0086ff,#0084ff,#0089ff,#0069ff,#0078ff,#0076ff,#004bff,#0047ff,#0063ff,#005dff,#0055ff,#005cff,#0055ff,#0056ff,#0059ff,#0061ff,#0084ff,#0059ff,#0062ff,#006eff,#004fff,#006cff,#0090ff,#0082ff,#007eff,#008fff,#006aff,#004eff,#0059ff,#004bff,#0061ff,#0076ff,#0073ff,#008eff,#006cff,#006bff,#006aff,#0056ff,#004eff,#005bff,#0068ff,#0081ff,#0059ff)"></i><i style="background:linear-gradient(90deg,#0000a4,#0000cb,#0000bb,#0000bb,#0000a4,#0000af,#0000ae,#000098,#0000a9,#0000c7,#0000d3,#0000d0,#002cff,#004aff,#003aff,#005cff,#009fff,#00d8ff,#29ffd6,#51ffae,#75ff8a,#baff45,#fffe00,#f8ff07,#ffa700,#ff8200,#ff7400,#ff0f00,#ff1800,#ff2800,#ff2500,#ff3700,#ff3800,#ff5700,#ff7900,#ff8300,#ff7d00,#ffbf00,#fff700,#fff700,#d7ff28,#9bff64,#7cff83,#4effb1,#3bffc4,#3bffc4,#23ffdc,#01fffe,#00ddff,#00dbff,#00acff,#00beff,#00ccff,#009bff,#008aff,#009aff,#0084ff,#0072ff,#007cff,#005dff,#0070ff,#006cff,#0050ff,#004fff,#006aff,#0060ff,#0054ff,#004bff,#0053ff,#0055ff,#005bff,#0065ff,#0086ff,#0061ff,#005eff,#0066ff,#0062ff,#0077ff,#0098ff,#008aff,#007eff,#009aff,#0061ff,#0050ff,#005bff,#004dff,#0065ff,#0074ff,#0072ff,#0087ff,#0067ff,#0062ff,#0069ff,#005fff,#005aff,#0062ff,#0065ff,#0085ff,#0063ff)"></i><i style="background:linear-gradient(90deg,#0000a6,#0000ca,#0000c1,#0000b4,#0000a7,#0000ab,#0000be,#0000a6,#0000bd,#0000d9,#0000d3,#0000c7,#0032ff,#006aff,#007eff,#00a8ff,#00e5ff,#0ffff0,#6bff94,#9dff62,#bbff44,#fff900,#ffbb00,#ffc600,#ff7b00,#ff5d00,#ff6a00,#ff0c00,#ff2000,#ff3400,#ff2e00,#ff3b00,#ff4800,#ff6900,#ff8a00,#ffb400,#ffbd00,#ffeb00,#d3ff2c,#dbff24,#b1ff4e,#6eff91,#4fffb0,#37ffc8,#2dffd2,#22ffdd,#06fff9,#00d7ff,#00b6ff,#00b5ff,#0088ff,#0099ff,#00acff,#0082ff,#006dff,#008dff,#007fff,#0063ff,#006dff,#004cff,#0062ff,#005dff,#0059ff,#005dff,#006fff,#0065ff,#0057ff,#0045ff,#005aff,#0059ff,#005aff,#0070ff,#0087ff,#0065ff,#0065ff,#0066ff,#0071ff,#0080ff,#009aff,#008cff,#007bff,#009dff,#0056ff,#0056ff,#0063ff,#0056ff,#006aff,#006eff,#0072ff,#0080ff,#0065ff,#005dff,#006fff,#006cff,#005fff,#0061ff,#0063ff,#0085ff,#0069ff)"></i><i style="background:linear-gradient(90deg,#0000ab,#0000c2,#0000c1,#0000af,#0000ae,#0000b0,#0000cb,#0000b8,#0000db,#0000f3,#0000e1,#0000cc,#0038ff,#0090ff,#00cfff,#00ffff,#2cffd3,#45ffba,#a3ff5c,#e7ff18,#ffff00,#ffba00,#ff8100,#ff8e00,#ff6200,#ff4500,#ff6c00,#ff1c00,#ff3400,#ff4d00,#ff4b00,#ff4b00,#ff5f00,#ff8a00,#ffae00,#ffeb00,#efff10,#dcff23,#a5ff5a,#adff52,#8dff72,#44ffbb,#2bffd4,#24ffdb,#24ffdb,#11ffee,#00edff,#00baff,#0097ff,#0095ff,#006eff,#007cff,#008cff,#006bff,#0059ff,#0079ff,#0076ff,#005cff,#005eff,#003eff,#0058ff,#0054ff,#0062ff,#006cff,#0071ff,#0067ff,#005cff,#0049ff,#0067ff,#005dff,#005aff,#007bff,#008cff,#006bff,#0073ff,#006dff,#0079ff,#0081ff,#0096ff,#0086ff,#007bff,#009aff,#0053ff,#0061ff,#006eff,#0064ff,#006dff,#0068ff,#0075ff,#007bff,#0068ff,#005fff,#007bff,#0077ff,#005dff,#005bff,#0063ff,#007dff,#006aff)"></i><i style="background:linear-gradient(90deg,#0000b3,#0000b4,#0000bb,#0000ae,#0000b0,#0000b8,#0000cf,#0000c7,#0000f1,#0002ff,#0000eb,#0000ca,#0020ff,#008bff,#00e9ff,#20ffdf,#40ffbf,#4effb1,#9fff60,#f1ff0e,#fff300,#ffb600,#ff7a00,#ff7500,#ff5c00,#ff3e00,#ff7200,#ff2f00,#ff4500,#ff5e00,#ff6500,#ff4f00,#ff5b00,#ff9100,#ffbc00,#fff800,#c5ff3a,#c6ff39,#a2ff5d,#9aff65,#7eff81,#36ffc9,#26ffd9,#22ffdd,#2dffd2,#17ffe8,#00f7ff,#00c1ff,#0097ff,#0091ff,#006fff,#0079ff,#007bff,#005eff,#0054ff,#0066ff,#006eff,#005eff,#0056ff,#003bff,#0058ff,#0054ff,#006bff,#0077ff,#006fff,#0063ff,#005dff,#0053ff,#006eff,#005aff,#005cff,#007fff,#0090ff,#0074ff,#0080ff,#0079ff,#007aff,#0077ff,#008aff,#007aff,#007eff,#0093ff,#005eff,#0073ff,#0078ff,#0074ff,#006fff,#0063ff,#0075ff,#007aff,#006fff,#0068ff,#0089ff,#0081ff,#0057ff,#0055ff,#0066ff,#0071ff,#006aff)"></i><i style="background:linear-gradient(90deg,#0000be,#0000aa,#0000b4,#0000b0,#0000aa,#0000be,#0000cf,#0000db,#0005ff,#000bff,#0000fb,#0000de,#001aff,#0086ff,#00f0ff,#2cffd3,#4dffb2,#59ffa6,#97ff68,#ecff13,#ffe900,#ffbb00,#ff7f00,#ff6700,#ff5400,#ff3d00,#ff7700,#ff3c00,#ff4e00,#ff6300,#ff7a00,#ff5300,#ff5500,#ff9800,#ffce00,#fcff03,#a7ff58,#b2ff4d,#a1ff5e,#88ff77,#6dff92,#30ffcf,#29ffd6,#1fffe0,#30ffcf,#19ffe6,#06fff9,#00ceff,#009cff,#0091ff,#0075ff,#0083ff,#006fff,#0055ff,#0056ff,#0059ff,#0066ff,#0062ff,#005aff,#0047ff,#005eff,#005aff,#0072ff,#007cff,#0069ff,#0056ff,#0057ff,#005bff,#006cff,#0056ff,#0062ff,#0077ff,#008dff,#007eff,#0089ff,#0087ff,#007bff,#0068ff,#0079ff,#006fff,#0080ff,#0088ff,#0076ff,#0087ff,#007fff,#0084ff,#006eff,#0061ff,#006fff,#0078ff,#0079ff,#0071ff,#0091ff,#008bff,#0052ff,#0051ff,#006dff,#006cff,#006eff)"></i><i style="background:linear-gradient(90deg,#0000ca,#0000aa,#0000b2,#0000b4,#0000a5,#0000c0,#0000d1,#0000f7,#0012ff,#000cff,#0010ff,#0007ff,#0032ff,#008dff,#00f0ff,#2cffd3,#57ffa8,#64ff9b,#9bff64,#e7ff18,#ffdd00,#ffbc00,#ff8600,#ff6200,#ff4900,#ff3c00,#ff7600,#ff4000,#ff4f00,#ff5e00,#ff8500,#ff5a00,#ff5700,#ffa200,#ffde00,#f1ff0e,#9dff62,#a2ff5d,#9fff60,#7eff81,#5dffa2,#32ffcd,#31ffce,#1cffe3,#29ffd6,#15ffea,#0efff1,#00d6ff,#00a0ff,#008dff,#007cff,#008eff,#0069ff,#0052ff,#005aff,#0058ff,#0062ff,#0066ff,#0066ff,#0059ff,#0066ff,#0063ff,#0075ff,#007eff,#0063ff,#0047ff,#004fff,#0063ff,#0064ff,#0058ff,#006aff,#0067ff,#0081ff,#0081ff,#008cff,#008bff,#007cff,#005dff,#006aff,#006bff,#0082ff,#007bff,#008eff,#0096ff,#0084ff,#0090ff,#006dff,#0060ff,#0064ff,#0072ff,#0080ff,#0076ff,#0091ff,#0093ff,#004eff,#0050ff,#0072ff,#0071ff,#0074ff)"></i><i style="background:linear-gradient(90deg,#0000d4,#0000b1,#0000b9,#0000b9,#0000a7,#0000c2,#0000d9,#000eff,#0016ff,#0002ff,#001eff,#0031ff,#0056ff,#0097ff,#00edff,#21ffde,#51ffae,#64ff9b,#a1ff5e,#e3ff1c,#ffd700,#ffbb00,#ff8a00,#ff6800,#ff4100,#ff3400,#ff6c00,#ff4000,#ff4c00,#ff5600,#ff8300,#ff6100,#ff6200,#ffa700,#ffdf00,#eeff11,#acff53,#a3ff5c,#a3ff5c,#82ff7d,#58ffa7,#3bffc4,#40ffbf,#21ffde,#1effe1,#0ffff0,#0ffff0,#00ddff,#00a5ff,#008aff,#0084ff,#0096ff,#006bff,#0053ff,#005cff,#0060ff,#0060ff,#0067ff,#0074ff,#0068ff,#006cff,#006cff,#0071ff,#007eff,#0061ff,#0043ff,#004bff,#0069ff,#005cff,#005eff,#0070ff,#005aff,#006fff,#007bff,#0089ff,#0081ff,#0081ff,#005eff,#0061ff,#0073ff,#0087ff,#0071ff,#009cff,#009eff,#0088ff,#0099ff,#006cff,#0060ff,#0058ff,#0068ff,#0081ff,#0076ff,#008bff,#0091ff,#004bff,#0053ff,#0071ff,#007aff,#007bff)"></i><i style="background:linear-gradient(90deg,#0000d8,#0000b5,#0000c5,#0000bc,#0000ad,#0000c6,#0000e2,#000eff,#0006ff,#0000e2,#000eff,#0030ff,#0055ff,#0080ff,#00c6ff,#00ebff,#19ffe6,#33ffcc,#7bff84,#b9ff46,#feff01,#ffde00,#ffa300,#ff8200,#ff4800,#ff3000,#ff5d00,#ff4000,#ff4700,#ff4e00,#ff6f00,#ff5800,#ff5e00,#ff8c00,#ffb400,#ffec00,#eaff15,#d3ff2c,#ccff33,#a7ff58,#74ff8b,#56ffa9,#62ff9d,#3bffc4,#26ffd9,#1dffe2,#1fffe0,#00f6ff,#00bbff,#009fff,#009bff,#00a1ff,#007bff,#005fff,#0060ff,#006cff,#005cff,#0065ff,#007aff,#006eff,#0071ff,#0071ff,#0067ff,#0079ff,#0062ff,#004bff,#004bff,#006eff,#0052ff,#005aff,#006fff,#0058ff,#0062ff,#0071ff,#0082ff,#006eff,#0088ff,#0069ff,#0060ff,#0080ff,#0092ff,#006eff,#009dff,#009cff,#008bff,#009cff,#006fff,#0063ff,#0051ff,#005cff,#007eff,#0075ff,#0088ff,#0086ff,#004dff,#005cff,#006cff,#007eff,#007fff)"></i><i style="background:linear-gradient(90deg,#0000d3,#0000af,#0000d1,#0000be,#0000b0,#0000c9,#0000eb,#0000fd,#0000ef,#0000cb,#0000fa,#0026ff,#004eff,#006cff,#00a2ff,#00bcff,#00e4ff,#07fff8,#5affa5,#97ff68,#cfff30,#f5ff0a,#ffbf00,#ffa200,#ff5c00,#ff3b00,#ff5200,#ff4500,#ff4700,#ff4e00,#ff6300,#ff5400,#ff6100,#ff7700,#ff8900,#ffc800,#ffda00,#fff700,#faff05,#ceff31,#9aff65,#71ff8e,#82ff7d,#54ffab,#2fffd0,#2bffd4,#2cffd3,#0cfff3,#00ceff,#00beff,#00b7ff,#00aaff,#008eff,#006eff,#0067ff,#0076ff,#0054ff,#005cff,#0079ff,#006cff,#0075ff,#006dff,#005bff,#006dff,#0065ff,#005aff,#004eff,#006fff,#0045ff,#0049ff,#0069ff,#0060ff,#005eff,#0070ff,#007eff,#005eff,#008fff,#0074ff,#0063ff,#0089ff,#009cff,#0070ff,#0095ff,#0092ff,#008bff,#009aff,#0078ff,#006cff,#0051ff,#0053ff,#007bff,#0078ff,#008dff,#0076ff,#0053ff,#0066ff,#0067ff,#0076ff,#007eff)"></i><i style="background:linear-gradient(90deg,#0000c6,#0000a3,#0000d8,#0000bf,#0000ad,#0000c7,#0000ec,#0000e5,#0000d6,#0000bd,#0000e9,#0015ff,#0041ff,#0056ff,#0079ff,#0092ff,#00b2ff,#00e0ff,#35ffca,#70ff8f,#9bff64,#c3ff3c,#ffe900,#ffca00,#ff7c00,#ff5600,#ff5600,#ff4e00,#ff4800,#ff5100,#ff5c00,#ff5000,#ff6200,#ff6600,#ff6000,#ff9b00,#ffa500,#ffc300,#ffd500,#f7ff08,#c9ff36,#92ff6d,#a5ff5a,#6dff92,#3bffc4,#3effc1,#3fffc0,#1fffe0,#00e3ff,#00e8ff,#00dcff,#00bbff,#00a1ff,#007dff,#0076ff,#0082ff,#0050ff,#0052ff,#0075ff,#0063ff,#0077ff,#0061ff,#0055ff,#005bff,#0064ff,#006bff,#004eff,#006aff,#0036ff,#0033ff,#0065ff,#006bff,#0061ff,#007aff,#0083ff,#0055ff,#008eff,#0076ff,#0069ff,#0088ff,#009eff,#0073ff,#0089ff,#0087ff,#0088ff,#0095ff,#0082ff,#007aff,#0058ff,#004fff,#007cff,#0081ff,#0097ff,#0067ff,#0058ff,#006dff,#0067ff,#0066ff,#0075ff)"></i><i style="background:linear-gradient(90deg,#0000b8,#000099,#0000dd,#0000c2,#0000aa,#0000bf,#0000e3,#0000d2,#0000c0,#0000b5,#0000db,#0000ff,#002bff,#0035ff,#0041ff,#005aff,#006fff,#00aaff,#00f4ff,#2affd5,#54ffab,#79ff86,#c1ff3e,#e7ff18,#ffbf00,#ff8e00,#ff7600,#ff6200,#ff4c00,#ff5200,#ff5800,#ff4f00,#ff5e00,#ff5500,#ff3b00,#ff5e00,#ff6a00,#ff8600,#ff9b00,#ffcb00,#fff200,#ceff31,#dcff23,#96ff69,#55ffaa,#61ff9e,#5fffa0,#38ffc7,#08fff7,#20ffdf,#0ffff0,#00e0ff,#00bcff,#0096ff,#0093ff,#0097ff,#005aff,#0051ff,#0075ff,#005cff,#0076ff,#0054ff,#005aff,#0049ff,#005fff,#0075ff,#004aff,#005fff,#002bff,#0029ff,#006aff,#0074ff,#0064ff,#0088ff,#008cff,#0051ff,#0087ff,#0071ff,#0070ff,#007dff,#0092ff,#0072ff,#007eff,#007fff,#0084ff,#008eff,#008bff,#0089ff,#0061ff,#0050ff,#007eff,#008aff,#009cff,#005cff,#005eff,#006dff,#006bff,#0053ff,#0069ff)"></i><i style="background:linear-gradient(90deg,#0000ae,#000099,#0000e3,#0000c6,#0000ab,#0000b4,#0000d3,#0000ce,#0000b6,#0000b3,#0000d7,#0000f1,#001cff,#001dff,#0016ff,#0032ff,#0039ff,#0079ff,#00b1ff,#00dfff,#1affe5,#3effc1,#6dff92,#92ff6d,#edff12,#ffd800,#ffac00,#ff8100,#ff5d00,#ff5d00,#ff5b00,#ff5800,#ff5c00,#ff4f00,#ff2e00,#ff3100,#ff4100,#ff5d00,#ff6f00,#ff9200,#ffb600,#fff000,#ffe500,#c6ff39,#78ff87,#8cff73,#7eff81,#4affb5,#2cffd3,#49ffb6,#37ffc8,#09fff6,#00daff,#00b6ff,#00b8ff,#00b4ff,#007aff,#0061ff,#007fff,#0061ff,#0076ff,#0051ff,#0066ff,#003fff,#0057ff,#0077ff,#0044ff,#004fff,#002aff,#0033ff,#0076ff,#007bff,#0067ff,#008fff,#008eff,#004eff,#007bff,#006bff,#0078ff,#0072ff,#007eff,#0070ff,#007aff,#007eff,#007eff,#0082ff,#008fff,#0093ff,#0065ff,#0054ff,#007bff,#008fff,#0098ff,#0058ff,#0067ff,#0068ff,#006fff,#0043ff,#0061ff)"></i><i style="background:linear-gradient(90deg,#0000a9,#00009f,#0000e8,#0000ce,#0000b4,#0000aa,#0000c6,#0000d4,#0000b6,#0000b5,#0000d3,#0000e1,#000eff,#0008ff,#0000f5,#0019ff,#001bff,#0056ff,#0075ff,#009bff,#00e7ff,#15ffea,#2bffd4,#49ffb6,#9bff64,#d5ff2a,#fff000,#ffb300,#ff8c00,#ff8a00,#ff8200,#ff7f00,#ff6f00,#ff6100,#ff4400,#ff3000,#ff4200,#ff5e00,#ff6800,#ff7900,#ff9d00,#ffc700,#ffbd00,#ebff14,#99ff66,#b4ff4b,#97ff68,#59ffa6,#4fffb0,#5dffa2,#4dffb2,#29ffd6,#00f5ff,#00d8ff,#00d6ff,#00d3ff,#00aaff,#0082ff,#0091ff,#0077ff,#007eff,#005eff,#0073ff,#0041ff,#0050ff,#0072ff,#003eff,#003fff,#0037ff,#004bff,#0082ff,#0083ff,#006fff,#008fff,#0087ff,#0050ff,#0072ff,#0067ff,#007dff,#006eff,#006aff,#006dff,#007cff,#007eff,#0079ff,#0074ff,#0090ff,#0095ff,#0064ff,#005bff,#0077ff,#008dff,#008aff,#0058ff,#006eff,#0063ff,#006fff,#003bff,#0060ff)"></i><i style="background:linear-gradient(90deg,#0000a5,#0000a2,#0000e3,#0000d9,#0000c3,#0000a2,#0000bf,#0000dd,#0000b9,#0000c2,#0000e2,#0000ed,#0025ff,#0026ff,#0015ff,#004cff,#005bff,#008eff,#0098ff,#00afff,#00faff,#28ffd7,#24ffdb,#2dffd2,#66ff99,#8cff73,#bcff43,#e6ff19,#f3ff0c,#e2ff1d,#daff25,#d6ff29,#f4ff0b,#fffe00,#ffea00,#ffd200,#ffe000,#fffe00,#feff01,#fffc00,#e2ff1d,#d5ff2a,#e9ff16,#a5ff5a,#6bff94,#9aff65,#7fff80,#47ffb8,#57ffa8,#56ffa9,#4fffb0,#39ffc6,#07fff8,#00f8ff,#00eeff,#00fdff,#00f0ff,#00c0ff,#00c4ff,#00b8ff,#00b7ff,#009dff,#00a7ff,#0077ff,#0077ff,#0096ff,#006aff,#0062ff,#0077ff,#008cff,#00b0ff,#00b4ff,#00a3ff,#00afff,#00a4ff,#007fff,#0092ff,#008bff,#009fff,#0098ff,#0084ff,#0091ff,#00a8ff,#009fff,#0097ff,#0088ff,#00b1ff,#00b1ff,#0082ff,#0087ff,#0097ff,#00a7ff,#0097ff,#0079ff,#008fff,#0080ff,#008cff,#005bff,#0082ff)"></i><i style="background:linear-gradient(90deg,#0000a0,#00009d,#0000d4,#0000e3,#0000d2,#0000a0,#0000bf,#0000df,#0000b6,#0000da,#0003ff,#001aff,#0061ff,#0074ff,#006dff,#00bbff,#00ddff,#0afff5,#00fbff,#00fbff,#36ffc9,#57ffa8,#45ffba,#3bffc4,#5bffa4,#70ff8f,#99ff66,#a7ff58,#a6ff59,#8cff73,#75ff8a,#70ff8f,#90ff6f,#9aff65,#a4ff5b,#b1ff4e,#acff53,#8eff71,#90ff6f,#9cff63,#7fff80,#86ff79,#9dff62,#69ff96,#4bffb4,#84ff7b,#6dff92,#3bffc4,#56ffa9,#4effb1,#53ffac,#4bffb4,#1bffe4,#23ffdc,#1cffe3,#42ffbd,#4bffb4,#1affe5,#18ffe7,#20ffdf,#1cffe3,#09fff6,#01fffe,#00dbff,#00cdff,#00e9ff,#00c9ff,#00baff,#00e0ff,#00edff,#03fffc,#0afff5,#00f9ff,#00f2ff,#00eeff,#00dbff,#00daff,#00d7ff,#00dfff,#00e9ff,#00d1ff,#00ddff,#00fdff,#00e3ff,#00daff,#00c3ff,#00f1ff,#00e9ff,#00c2ff,#00d2ff,#00daff,#00deff,#00c4ff,#00bbff,#00c9ff,#00beff,#00c6ff,#00a0ff,#00c4ff)"></i><i style="background:linear-gradient(90deg,#00009d,#000092,#0000c7,#0000e7,#0000dd,#0000a4,#0000c0,#0000da,#0000ab,#0000e8,#0013ff,#0033ff,#0081ff,#009dff,#0098ff,#00f2ff,#1cffe3,#49ffb6,#2fffd0,#1effe1,#4cffb3,#63ff9c,#5dffa2,#4effb1,#66ff99,#74ff8b,#96ff69,#95ff6a,#9cff63,#8eff71,#74ff8b,#72ff8d,#8eff71,#95ff6a,#98ff67,#99ff66,#9cff63,#84ff7b,#80ff7f,#86ff79,#6eff91,#7bff84,#8bff74,#63ff9c,#59ffa6,#8eff71,#74ff8b,#3fffc0,#52ffad,#47ffb8,#52ffad,#4fffb0,#1cffe3,#34ffcb,#39ffc6,#68ff97,#71ff8e,#40ffbf,#3bffc4,#52ffad,#48ffb7,#3fffc0,#27ffd8,#12ffed,#00f8ff,#11ffee,#03fffc,#00eeff,#18ffe7,#19ffe6,#29ffd6,#2effd1,#1dffe2,#12ffed,#1dffe2,#13ffec,#00ffff,#00fdff,#00f5ff,#12ffed,#02fffd,#06fff9,#2fffd0,#08fff7,#00feff,#00dfff,#09fff6,#00feff,#00deff,#00f7ff,#00faff,#00f2ff,#00d7ff,#00dbff,#00dfff,#00ddff,#00e1ff,#00c9ff,#00e9ff)"></i><i style="background:linear-gradient(90deg,#0000a2,#000089,#0000c5,#0000e5,#0000db,#0000a9,#0000bd,#0000cc,#00009a,#0000ea,#0015ff,#0036ff,#0084ff,#00a0ff,#0099ff,#00f2ff,#16ffe9,#45ffba,#2bffd4,#13ffec,#38ffc7,#4dffb2,#5fffa0,#56ffa9,#70ff8f,#76ff89,#84ff7b,#7aff85,#92ff6d,#93ff6c,#80ff7f,#7eff81,#91ff6e,#9bff64,#99ff66,#94ff6b,#97ff68,#86ff79,#7cff83,#79ff86,#6bff94,#75ff8a,#85ff7a,#68ff97,#74ff8b,#9eff61,#7eff81,#45ffba,#4bffb4,#3fffc0,#4dffb2,#4cffb3,#16ffe9,#35ffca,#48ffb7,#6dff92,#6dff92,#3effc1,#37ffc8,#53ffac,#40ffbf,#42ffbd,#20ffdf,#18ffe7,#00f7ff,#0cfff3,#0efff1,#00faff,#1dffe2,#14ffeb,#26ffd9,#21ffde,#0ffff0,#12ffed,#29ffd6,#1fffe0,#01fffe,#02fffd,#00e8ff,#07fff8,#0ffff0,#07fff8,#38ffc7,#0efff1,#00ffff,#00dbff,#00f9ff,#00f5ff,#00d6ff,#00f4ff,#00f2ff,#00e4ff,#00d4ff,#00d9ff,#00d7ff,#00deff,#00dcff,#00d3ff,#00f7ff)"></i><i style="background:linear-gradient(90deg,#0000ac,#000087,#0000ce,#0000e0,#0000cf,#0000aa,#0000b7,#0000ba,#00008d,#0000e9,#001bff,#003bff,#0089ff,#00a7ff,#00a4ff,#00f9ff,#10ffef,#3effc1,#2bffd4,#0ffff0,#2affd5,#3fffc0,#62ff9d,#60ff9f,#81ff7e,#7bff84,#6fff90,#65ff9a,#8cff73,#96ff69,#8eff71,#8cff73,#96ff69,#a3ff5c,#a1ff5e,#9cff63,#95ff6a,#83ff7c,#76ff89,#72ff8d,#6fff90,#6fff90,#81ff7e,#6fff90,#88ff77,#a3ff5c,#7cff83,#48ffb7,#48ffb7,#38ffc7,#4affb5,#51ffae,#18ffe7,#37ffc8,#52ffad,#69ff96,#64ff9b,#40ffbf,#36ffc9,#51ffae,#38ffc7,#40ffbf,#1effe1,#1effe1,#00f8ff,#09fff6,#13ffec,#03fffc,#1effe1,#0ffff0,#26ffd9,#11ffee,#00ffff,#1dffe2,#31ffce,#26ffd9,#02fffd,#09fff6,#00ddff,#00eeff,#14ffeb,#06fff9,#39ffc6,#18ffe7,#00feff,#00d9ff,#00eeff,#00f4ff,#00cdff,#00ecff,#00e7ff,#00d4ff,#00d8ff,#00d7ff,#00d8ff,#00e1ff,#00d9ff,#00ddff,#0bfff4)"></i><i style="background:linear-gradient(90deg,#0000b5,#00008e,#0000d7,#0000dc,#0000c0,#0000a8,#0000b4,#0000aa,#000088,#0000e4,#001fff,#0040ff,#008bff,#00adff,#00b0ff,#05fffa,#0dfff2,#3affc5,#2affd5,#14ffeb,#23ffdc,#41ffbe,#66ff99,#6bff94,#94ff6b,#7fff80,#61ff9e,#5cffa3,#8cff73,#96ff69,#96ff69,#97ff68,#9cff63,#aaff55,#abff54,#acff53,#95ff6a,#7aff85,#6dff92,#74ff8b,#79ff86,#6dff92,#80ff7f,#77ff88,#8eff71,#99ff66,#72ff8d,#4bffb4,#4effb1,#37ffc8,#4bffb4,#5cffa3,#23ffdc,#3bffc4,#54ffab,#5dffa2,#5dffa2,#47ffb8,#37ffc8,#4cffb3,#38ffc7,#3cffc3,#22ffdd,#25ffda,#00feff,#0dfff2,#12ffed,#03fffc,#1effe1,#12ffed,#2affd5,#02fffd,#00f2ff,#28ffd7,#32ffcd,#29ffd6,#02fffd,#10ffef,#00daff,#00d4ff,#11ffee,#02fffd,#30ffcf,#22ffdd,#00fcff,#00d6ff,#00ebff,#00f9ff,#00c5ff,#00e1ff,#00dbff,#00c5ff,#00ddff,#00d8ff,#00e2ff,#00e8ff,#00daff,#00e8ff,#19ffe6)"></i></div>
<svg width="575" height="449" viewBox="0 0 575 449">
<defs><linearGradient id="cb" x1="0" y1="0" x2="0" y2="1"><stop offset="0.000" stop-color="#800000"/><stop offset="0.031" stop-color="#9f0000"/><stop offset="0.062" stop-color="#bf0000"/><stop offset="0.094" stop-color="#df0000"/><stop offset="0.125" stop-color="#ff0000"/><stop offset="0.156" stop-color="#ff2000"/><stop offset="0.188" stop-color="#ff4000"/><stop offset="0.219" stop-color="#ff6000"/><stop offset="0.250" stop-color="#ff8000"/><stop offset="0.281" stop-color="#ff9f00"/><stop offset="0.312" stop-color="#ffbf00"/><stop offset="0.344" stop-color="#ffdf00"/><stop offset="0.375" stop-color="#ffff00"/><stop offset="0.406" stop-color="#dfff20"/><stop offset="0.438" stop-color="#bfff40"/><stop offset="0.469" stop-color="#9fff60"/><stop offset="0.500" stop-color="#80ff80"/><stop offset="0.531" stop-color="#60ff9f"/><stop offset="0.562" stop-color="#40ffbf"/><stop offset="0.594" stop-color="#20ffdf"/><stop offset="0.625" stop-color="#00ffff"/><stop offset="0.656" stop-color="#00dfff"/><stop offset="0.688" stop-color="#00bfff"/><stop offset="0.719" stop-color="#009fff"/><stop offset="0.750" stop-color="#0080ff"/><stop offset="0.781" stop-color="#0060ff"/><stop offset="0.812" stop-color="#0040ff"/><stop offset="0.844" stop-color="#0020ff"/><stop offset="0.875" stop-color="#0000ff"/><stop offset="0.906" stop-color="#0000df"/><stop offset="0.938" stop-color="#0000bf"/><stop offset="0.969" stop-color="#00009f"/><stop offset="1.000" stop-color="#000080"/></linearGradient></defs>
<rect x="117.50" y="30.90" width="123.00" height="155.10" fill="none" stroke="#1a1a1a" stroke-width="1.1"/>
<line x1="117.50" y1="186.00" x2="117.50" y2="189.90" stroke="#1a1a1a" stroke-width="1"/>
<line x1="132.88" y1="186.00" x2="132.88" y2="191.30" stroke="#1a1a1a" stroke-width="1"/>
<text x="132.88" y="200.30" font-size="9.30" fill="#000" stroke="#000" text-anchor="middle">15</text>
<line x1="148.25" y1="186.00" x2="148.25" y2="189.90" stroke="#1a1a1a" stroke-width="1"/>
<line x1="163.62" y1="186.00" x2="163.62" y2="191.30" stroke="#1a1a1a" stroke-width="1"/>
<text x="163.62" y="200.30" font-size="9.30" fill="#000" stroke="#000" text-anchor="middle">17</text>
<line x1="179.00" y1="186.00" x2="179.00" y2="189.90" stroke="#1a1a1a" stroke-width="1"/>
<line x1="194.38" y1="186.00" x2="194.38" y2="191.30" stroke="#1a1a1a" stroke-width="1"/>
<text x="194.38" y="200.30" font-size="9.30" fill="#000" stroke="#000" text-anchor="middle">19</text>
<line x1="209.75" y1="186.00" x2="209.75" y2="189.90" stroke="#1a1a1a" stroke-width="1"/>
<line x1="225.12" y1="186.00" x2="225.12" y2="191.30" stroke="#1a1a1a" stroke-width="1"/>
<text x="225.12" y="200.30" font-size="9.30" fill="#000" stroke="#000" text-anchor="middle">21</text>
<line x1="240.50" y1="186.00" x2="240.50" y2="189.90" stroke="#1a1a1a" stroke-width="1"/>
<text x="179.50" y="215.50" font-size="12.00" fill="#000" stroke="#000" text-anchor="middle">d-spacing (Å)</text>
<rect x="27.70" y="30.90" width="79.50" height="155.60" fill="none" stroke="#1a1a1a" stroke-width="1.1"/>
<line x1="24.20" y1="167.20" x2="27.70" y2="167.20" stroke="#1a1a1a" stroke-width="1"/>
<line x1="22.70" y1="147.20" x2="27.70" y2="147.20" stroke="#1a1a1a" stroke-width="1"/>
<text x="20.40" y="150.50" font-size="9.30" fill="#000" stroke="#000" text-anchor="end">1</text>
<line x1="24.20" y1="127.20" x2="27.70" y2="127.20" stroke="#1a1a1a" stroke-width="1"/>
<line x1="22.70" y1="107.20" x2="27.70" y2="107.20" stroke="#1a1a1a" stroke-width="1"/>
<text x="20.40" y="110.50" font-size="9.30" fill="#000" stroke="#000" text-anchor="end">2</text>
<line x1="24.20" y1="87.20" x2="27.70" y2="87.20" stroke="#1a1a1a" stroke-width="1"/>
<line x1="22.70" y1="67.20" x2="27.70" y2="67.20" stroke="#1a1a1a" stroke-width="1"/>
<text x="20.40" y="70.50" font-size="9.30" fill="#000" stroke="#000" text-anchor="end">3</text>
<line x1="24.20" y1="47.20" x2="27.70" y2="47.20" stroke="#1a1a1a" stroke-width="1"/>
<line x1="28.20" y1="27.90" x2="28.20" y2="30.90" stroke="#1a1a1a" stroke-width="1"/>
<line x1="43.30" y1="25.90" x2="43.30" y2="30.90" stroke="#1a1a1a" stroke-width="1"/>
<line x1="58.40" y1="27.90" x2="58.40" y2="30.90" stroke="#1a1a1a" stroke-width="1"/>
<line x1="73.50" y1="25.90" x2="73.50" y2="30.90" stroke="#1a1a1a" stroke-width="1"/>
<line x1="88.60" y1="27.90" x2="88.60" y2="30.90" stroke="#1a1a1a" stroke-width="1"/>
<line x1="103.70" y1="25.90" x2="103.70" y2="30.90" stroke="#1a1a1a" stroke-width="1"/>
<text x="43.30" y="21.50" font-size="9.30" fill="#0808ff" stroke="#0808ff" text-anchor="middle">−1.0</text>
<text x="73.50" y="21.50" font-size="9.30" fill="#0808ff" stroke="#0808ff" text-anchor="middle">−0.5</text>
<text x="103.70" y="21.50" font-size="9.30" fill="#0808ff" stroke="#0808ff" text-anchor="middle">0.0</text>
<line x1="35.41" y1="186.50" x2="35.41" y2="191.80" stroke="#1a1a1a" stroke-width="1"/>
<line x1="45.74" y1="186.50" x2="45.74" y2="190.40" stroke="#1a1a1a" stroke-width="1"/>
<line x1="56.07" y1="186.50" x2="56.07" y2="190.40" stroke="#1a1a1a" stroke-width="1"/>
<line x1="66.40" y1="186.50" x2="66.40" y2="191.80" stroke="#1a1a1a" stroke-width="1"/>
<line x1="76.73" y1="186.50" x2="76.73" y2="190.40" stroke="#1a1a1a" stroke-width="1"/>
<line x1="87.06" y1="186.50" x2="87.06" y2="190.40" stroke="#1a1a1a" stroke-width="1"/>
<line x1="97.39" y1="186.50" x2="97.39" y2="191.80" stroke="#1a1a1a" stroke-width="1"/>
<text x="35.41" y="200.80" font-size="9.30" fill="#ff0a0a" stroke="#ff0a0a" text-anchor="middle">−0.03</text>
<text x="66.40" y="200.80" font-size="9.30" fill="#ff0a0a" stroke="#ff0a0a" text-anchor="middle">0.00</text>
<text x="97.39" y="200.80" font-size="9.30" fill="#ff0a0a" stroke="#ff0a0a" text-anchor="middle">0.03</text>
<text x="67.75" y="216.00" font-size="12.00" fill="#ff0a0a" stroke="#ff0a0a" text-anchor="middle">Current (mA)</text>
<text x="3.80" y="9.80" font-size="11.70" fill="#0808ff" stroke="#0808ff" text-anchor="start">Potential vs. Ag wire (V)</text>
<text transform="translate(9.00 109.00) rotate(-90)" font-size="12.00" text-anchor="middle" fill="#000" stroke="#000">Time (h)</text>
<text x="3.80" y="29.70" font-size="16.00" fill="#000" stroke="#000" text-anchor="start" font-weight="bold">a</text>
<path d="M65.70 186.20 C63.97 186.08 58.93 185.83 55.30 185.50 C51.67 185.17 46.73 184.98 43.90 184.20 C41.07 183.42 39.72 182.33 38.30 180.80 C36.88 179.27 36.20 177.22 35.40 175.00 C34.60 172.78 34.19 169.38 33.50 167.50 C32.81 165.62 31.62 164.33 31.25 163.70" fill="none" stroke="#ff0a0a" stroke-width="1.9" stroke-linejoin="round" stroke-linecap="round"/>
<path d="M31.25 163.70 C33.36 163.60 38.62 163.42 43.90 163.10 C49.17 162.78 56.58 162.48 62.90 161.80 C69.22 161.12 77.07 160.27 81.80 159.00 C86.53 157.73 88.93 156.10 91.30 154.20 C93.67 152.30 94.90 149.48 96.00 147.60 C97.10 145.72 97.27 144.32 97.90 142.90 C98.53 141.48 99.02 140.12 99.80 139.10 C100.58 138.08 102.13 137.18 102.60 136.80" fill="none" stroke="#ff0a0a" stroke-width="1.9" stroke-linejoin="round" stroke-linecap="round"/>
<path d="M102.60 136.80 C102.30 136.77 104.27 136.75 100.80 136.60 C97.33 136.45 88.75 136.18 81.80 135.90 C74.85 135.62 64.78 135.32 59.10 134.90 C53.42 134.48 50.70 134.12 47.70 133.40 C44.70 132.68 42.83 131.87 41.10 130.60 C39.37 129.33 38.25 127.53 37.30 125.80 C36.35 124.07 36.03 122.08 35.40 120.20 C34.77 118.32 34.19 116.15 33.50 114.50 C32.81 112.85 31.62 111.00 31.25 110.30" fill="none" stroke="#ff0a0a" stroke-width="1.9" stroke-linejoin="round" stroke-linecap="round"/>
<path d="M31.25 110.30 C31.43 110.15 28.77 109.72 32.30 109.40 C35.82 109.08 44.48 109.02 52.40 108.40 C60.32 107.78 73.10 106.92 79.80 105.70 C86.50 104.48 89.70 102.78 92.60 101.10 C95.50 99.42 95.97 97.73 97.20 95.60 C98.43 93.47 99.00 90.22 100.00 88.30 C101.00 86.38 102.67 84.80 103.20 84.10" fill="none" stroke="#ff0a0a" stroke-width="1.9" stroke-linejoin="round" stroke-linecap="round"/>
<path d="M103.20 84.10 C102.97 84.08 105.70 84.22 101.80 84.00 C97.90 83.78 87.42 83.23 79.80 82.80 C72.18 82.37 61.88 81.93 56.10 81.40 C50.32 80.87 48.00 80.43 45.10 79.60 C42.20 78.77 40.38 78.00 38.70 76.40 C37.02 74.80 36.07 72.28 35.00 70.00 C33.93 67.72 32.98 64.82 32.30 62.70 C31.62 60.58 31.13 58.20 30.90 57.30" fill="none" stroke="#ff0a0a" stroke-width="1.9" stroke-linejoin="round" stroke-linecap="round"/>
<path d="M30.90 57.30 C32.97 57.20 38.18 57.02 43.30 56.70 C48.42 56.38 55.52 56.02 61.60 55.40 C67.68 54.78 75.23 53.92 79.80 53.00 C84.37 52.08 86.70 50.87 89.00 49.90 C91.30 48.93 92.53 48.42 93.60 47.20 C94.67 45.98 94.95 43.97 95.40 42.60 C95.85 41.23 96.00 40.37 96.30 39.00 C96.60 37.63 96.58 35.57 97.20 34.40 C97.82 33.23 98.93 32.55 100.00 32.00 C101.07 31.45 103.00 31.25 103.60 31.10" fill="none" stroke="#ff0a0a" stroke-width="1.9" stroke-linejoin="round" stroke-linecap="round"/>
<polyline points="94.10,186.20 31.25,163.70 102.60,136.80 31.25,110.30 103.20,84.10 30.90,57.30 103.60,31.10" fill="none" stroke="#0808ff" stroke-width="1.9" stroke-linejoin="miter"/>
<line x1="28.20" y1="81.10" x2="240.50" y2="81.10" stroke="#222" stroke-width="1.6" stroke-dasharray="5.5 6.17"/>
<line x1="28.20" y1="108.10" x2="240.50" y2="108.10" stroke="#222" stroke-width="1.6" stroke-dasharray="5.5 6.17"/>
<rect x="403.50" y="30.90" width="123.00" height="155.10" fill="none" stroke="#1a1a1a" stroke-width="1.1"/>
<line x1="403.50" y1="186.00" x2="403.50" y2="189.90" stroke="#1a1a1a" stroke-width="1"/>
<line x1="418.88" y1="186.00" x2="418.88" y2="191.30" stroke="#1a1a1a" stroke-width="1"/>
<text x="418.88" y="200.30" font-size="9.30" fill="#000" stroke="#000" text-anchor="middle">15</text>
<line x1="434.25" y1="186.00" x2="434.25" y2="189.90" stroke="#1a1a1a" stroke-width="1"/>
<line x1="449.62" y1="186.00" x2="449.62" y2="191.30" stroke="#1a1a1a" stroke-width="1"/>
<text x="449.62" y="200.30" font-size="9.30" fill="#000" stroke="#000" text-anchor="middle">17</text>
<line x1="465.00" y1="186.00" x2="465.00" y2="189.90" stroke="#1a1a1a" stroke-width="1"/>
<line x1="480.38" y1="186.00" x2="480.38" y2="191.30" stroke="#1a1a1a" stroke-width="1"/>
<text x="480.38" y="200.30" font-size="9.30" fill="#000" stroke="#000" text-anchor="middle">19</text>
<line x1="495.75" y1="186.00" x2="495.75" y2="189.90" stroke="#1a1a1a" stroke-width="1"/>
<line x1="511.12" y1="186.00" x2="511.12" y2="191.30" stroke="#1a1a1a" stroke-width="1"/>
<text x="511.12" y="200.30" font-size="9.30" fill="#000" stroke="#000" text-anchor="middle">21</text>
<line x1="526.50" y1="186.00" x2="526.50" y2="189.90" stroke="#1a1a1a" stroke-width="1"/>
<text x="465.50" y="215.50" font-size="12.00" fill="#000" stroke="#000" text-anchor="middle">d-spacing (Å)</text>
<rect x="314.60" y="30.90" width="79.10" height="155.40" fill="none" stroke="#1a1a1a" stroke-width="1.1"/>
<line x1="311.10" y1="169.98" x2="314.60" y2="169.98" stroke="#1a1a1a" stroke-width="1"/>
<line x1="309.60" y1="153.65" x2="314.60" y2="153.65" stroke="#1a1a1a" stroke-width="1"/>
<text x="307.30" y="156.95" font-size="9.30" fill="#000" stroke="#000" text-anchor="end">1</text>
<line x1="311.10" y1="137.33" x2="314.60" y2="137.33" stroke="#1a1a1a" stroke-width="1"/>
<line x1="309.60" y1="121.00" x2="314.60" y2="121.00" stroke="#1a1a1a" stroke-width="1"/>
<text x="307.30" y="124.30" font-size="9.30" fill="#000" stroke="#000" text-anchor="end">2</text>
<line x1="311.10" y1="104.68" x2="314.60" y2="104.68" stroke="#1a1a1a" stroke-width="1"/>
<line x1="309.60" y1="88.35" x2="314.60" y2="88.35" stroke="#1a1a1a" stroke-width="1"/>
<text x="307.30" y="91.65" font-size="9.30" fill="#000" stroke="#000" text-anchor="end">3</text>
<line x1="311.10" y1="72.03" x2="314.60" y2="72.03" stroke="#1a1a1a" stroke-width="1"/>
<line x1="309.60" y1="55.70" x2="314.60" y2="55.70" stroke="#1a1a1a" stroke-width="1"/>
<text x="307.30" y="59.00" font-size="9.30" fill="#000" stroke="#000" text-anchor="end">4</text>
<line x1="311.10" y1="39.38" x2="314.60" y2="39.38" stroke="#1a1a1a" stroke-width="1"/>
<line x1="319.70" y1="27.90" x2="319.70" y2="30.90" stroke="#1a1a1a" stroke-width="1"/>
<line x1="332.00" y1="25.90" x2="332.00" y2="30.90" stroke="#1a1a1a" stroke-width="1"/>
<line x1="344.30" y1="27.90" x2="344.30" y2="30.90" stroke="#1a1a1a" stroke-width="1"/>
<line x1="356.60" y1="25.90" x2="356.60" y2="30.90" stroke="#1a1a1a" stroke-width="1"/>
<line x1="368.90" y1="27.90" x2="368.90" y2="30.90" stroke="#1a1a1a" stroke-width="1"/>
<line x1="381.20" y1="25.90" x2="381.20" y2="30.90" stroke="#1a1a1a" stroke-width="1"/>
<line x1="393.50" y1="27.90" x2="393.50" y2="30.90" stroke="#1a1a1a" stroke-width="1"/>
<text x="332.00" y="21.50" font-size="9.30" fill="#0808ff" stroke="#0808ff" text-anchor="middle">−1.0</text>
<text x="356.60" y="21.50" font-size="9.30" fill="#0808ff" stroke="#0808ff" text-anchor="middle">−0.5</text>
<text x="381.20" y="21.50" font-size="9.30" fill="#0808ff" stroke="#0808ff" text-anchor="middle">0.0</text>
<line x1="321.16" y1="186.30" x2="321.16" y2="191.60" stroke="#1a1a1a" stroke-width="1"/>
<line x1="337.58" y1="186.30" x2="337.58" y2="190.20" stroke="#1a1a1a" stroke-width="1"/>
<line x1="354.00" y1="186.30" x2="354.00" y2="191.60" stroke="#1a1a1a" stroke-width="1"/>
<line x1="370.42" y1="186.30" x2="370.42" y2="190.20" stroke="#1a1a1a" stroke-width="1"/>
<line x1="386.84" y1="186.30" x2="386.84" y2="191.60" stroke="#1a1a1a" stroke-width="1"/>
<text x="321.16" y="200.60" font-size="9.30" fill="#ff0a0a" stroke="#ff0a0a" text-anchor="middle">−0.02</text>
<text x="354.00" y="200.60" font-size="9.30" fill="#ff0a0a" stroke="#ff0a0a" text-anchor="middle">0.00</text>
<text x="386.84" y="200.60" font-size="9.30" fill="#ff0a0a" stroke="#ff0a0a" text-anchor="middle">0.02</text>
<text x="354.45" y="215.80" font-size="12.00" fill="#ff0a0a" stroke="#ff0a0a" text-anchor="middle">Current (mA)</text>
<text x="290.30" y="9.80" font-size="11.70" fill="#0808ff" stroke="#0808ff" text-anchor="start">Potential vs. Ag wire (V)</text>
<text transform="translate(295.90 108.90) rotate(-90)" font-size="12.00" text-anchor="middle" fill="#000" stroke="#000">Time (h)</text>
<text x="289.10" y="29.70" font-size="16.00" fill="#000" stroke="#000" text-anchor="start" font-weight="bold">b</text>
<path d="M356.00 186.50 C354.75 186.43 351.63 186.72 348.50 186.10 C345.37 185.48 340.33 184.28 337.20 182.80 C334.07 181.32 331.88 179.08 329.70 177.20 C327.52 175.32 326.08 173.15 324.10 171.50 C322.12 169.85 318.85 168.00 317.80 167.30" fill="none" stroke="#ff0a0a" stroke-width="1.9" stroke-linejoin="round" stroke-linecap="round"/>
<path d="M317.80 167.30 C321.35 167.13 332.43 167.15 339.10 166.30 C345.77 165.45 352.50 163.98 357.80 162.20 C363.10 160.42 367.47 157.95 370.90 155.60 C374.33 153.25 376.22 150.12 378.40 148.10 C380.58 146.08 382.03 144.83 384.00 143.50 C385.97 142.17 389.17 140.67 390.20 140.10" fill="none" stroke="#ff0a0a" stroke-width="1.9" stroke-linejoin="round" stroke-linecap="round"/>
<path d="M390.20 140.10 C389.48 140.10 389.73 140.32 385.90 140.10 C382.07 139.88 373.43 139.65 367.20 138.80 C360.97 137.95 353.82 136.57 348.50 135.00 C343.18 133.43 338.43 131.12 335.30 129.40 C332.17 127.68 331.57 126.57 329.70 124.70 C327.83 122.83 326.05 120.13 324.10 118.20 C322.15 116.27 319.02 113.95 318.00 113.10" fill="none" stroke="#ff0a0a" stroke-width="1.9" stroke-linejoin="round" stroke-linecap="round"/>
<path d="M318.00 113.10 C319.95 112.95 324.62 112.77 329.70 112.20 C334.78 111.63 342.88 110.62 348.50 109.70 C354.12 108.78 359.03 107.98 363.40 106.70 C367.77 105.42 371.57 103.88 374.70 102.00 C377.83 100.12 380.33 97.43 382.20 95.40 C384.07 93.37 384.60 91.45 385.90 89.80 C387.20 88.15 389.32 86.22 390.00 85.50" fill="none" stroke="#ff0a0a" stroke-width="1.9" stroke-linejoin="round" stroke-linecap="round"/>
<path d="M390.00 85.50 C389.95 85.43 392.57 85.38 389.70 85.10 C386.83 84.82 378.12 84.42 372.80 83.80 C367.48 83.18 362.48 82.33 357.80 81.40 C353.12 80.47 348.45 79.45 344.70 78.20 C340.95 76.95 337.80 75.40 335.30 73.90 C332.80 72.40 331.10 70.60 329.70 69.20 C328.30 67.80 328.15 66.90 326.90 65.50 C325.65 64.10 323.68 62.05 322.20 60.80 C320.72 59.55 318.70 58.47 318.00 58.00" fill="none" stroke="#ff0a0a" stroke-width="1.9" stroke-linejoin="round" stroke-linecap="round"/>
<path d="M318.00 58.00 C319.95 57.90 324.62 57.78 329.70 57.40 C334.78 57.02 343.18 56.55 348.50 55.70 C353.82 54.85 357.85 53.48 361.60 52.30 C365.35 51.12 368.20 50.15 371.00 48.60 C373.80 47.05 376.23 44.87 378.40 43.00 C380.57 41.13 382.43 39.12 384.00 37.40 C385.57 35.68 386.70 33.77 387.80 32.70 C388.90 31.63 390.13 31.28 390.60 31.00" fill="none" stroke="#ff0a0a" stroke-width="1.9" stroke-linejoin="round" stroke-linecap="round"/>
<polyline points="368.10,186.30 317.80,167.30 390.20,140.10 318.00,113.10 390.00,85.50 318.00,58.00 390.60,31.00" fill="none" stroke="#0808ff" stroke-width="1.9" stroke-linejoin="miter"/>
<line x1="315.10" y1="79.40" x2="526.50" y2="79.40" stroke="#222" stroke-width="1.6" stroke-dasharray="5.5 6.17"/>
<line x1="315.10" y1="109.00" x2="526.50" y2="109.00" stroke="#222" stroke-width="1.6" stroke-dasharray="5.5 6.17"/>
<rect x="117.50" y="259.90" width="123.00" height="155.10" fill="none" stroke="#1a1a1a" stroke-width="1.1"/>
<line x1="117.50" y1="415.00" x2="117.50" y2="418.90" stroke="#1a1a1a" stroke-width="1"/>
<line x1="132.88" y1="415.00" x2="132.88" y2="420.30" stroke="#1a1a1a" stroke-width="1"/>
<text x="132.88" y="429.30" font-size="9.30" fill="#000" stroke="#000" text-anchor="middle">15</text>
<line x1="148.25" y1="415.00" x2="148.25" y2="418.90" stroke="#1a1a1a" stroke-width="1"/>
<line x1="163.62" y1="415.00" x2="163.62" y2="420.30" stroke="#1a1a1a" stroke-width="1"/>
<text x="163.62" y="429.30" font-size="9.30" fill="#000" stroke="#000" text-anchor="middle">17</text>
<line x1="179.00" y1="415.00" x2="179.00" y2="418.90" stroke="#1a1a1a" stroke-width="1"/>
<line x1="194.38" y1="415.00" x2="194.38" y2="420.30" stroke="#1a1a1a" stroke-width="1"/>
<text x="194.38" y="429.30" font-size="9.30" fill="#000" stroke="#000" text-anchor="middle">19</text>
<line x1="209.75" y1="415.00" x2="209.75" y2="418.90" stroke="#1a1a1a" stroke-width="1"/>
<line x1="225.12" y1="415.00" x2="225.12" y2="420.30" stroke="#1a1a1a" stroke-width="1"/>
<text x="225.12" y="429.30" font-size="9.30" fill="#000" stroke="#000" text-anchor="middle">21</text>
<line x1="240.50" y1="415.00" x2="240.50" y2="418.90" stroke="#1a1a1a" stroke-width="1"/>
<text x="179.50" y="444.50" font-size="12.00" fill="#000" stroke="#000" text-anchor="middle">d-spacing (Å)</text>
<rect x="27.50" y="259.90" width="79.40" height="155.30" fill="none" stroke="#1a1a1a" stroke-width="1.1"/>
<line x1="24.00" y1="400.08" x2="27.50" y2="400.08" stroke="#1a1a1a" stroke-width="1"/>
<line x1="22.50" y1="385.05" x2="27.50" y2="385.05" stroke="#1a1a1a" stroke-width="1"/>
<text x="20.20" y="388.35" font-size="9.30" fill="#000" stroke="#000" text-anchor="end">1</text>
<line x1="24.00" y1="370.03" x2="27.50" y2="370.03" stroke="#1a1a1a" stroke-width="1"/>
<line x1="22.50" y1="355.00" x2="27.50" y2="355.00" stroke="#1a1a1a" stroke-width="1"/>
<text x="20.20" y="358.30" font-size="9.30" fill="#000" stroke="#000" text-anchor="end">2</text>
<line x1="24.00" y1="339.98" x2="27.50" y2="339.98" stroke="#1a1a1a" stroke-width="1"/>
<line x1="22.50" y1="324.95" x2="27.50" y2="324.95" stroke="#1a1a1a" stroke-width="1"/>
<text x="20.20" y="328.25" font-size="9.30" fill="#000" stroke="#000" text-anchor="end">3</text>
<line x1="24.00" y1="309.93" x2="27.50" y2="309.93" stroke="#1a1a1a" stroke-width="1"/>
<line x1="22.50" y1="294.90" x2="27.50" y2="294.90" stroke="#1a1a1a" stroke-width="1"/>
<text x="20.20" y="298.20" font-size="9.30" fill="#000" stroke="#000" text-anchor="end">4</text>
<line x1="24.00" y1="279.88" x2="27.50" y2="279.88" stroke="#1a1a1a" stroke-width="1"/>
<line x1="22.50" y1="264.85" x2="27.50" y2="264.85" stroke="#1a1a1a" stroke-width="1"/>
<text x="20.20" y="268.15" font-size="9.30" fill="#000" stroke="#000" text-anchor="end">5</text>
<line x1="28.00" y1="254.90" x2="28.00" y2="259.90" stroke="#1a1a1a" stroke-width="1"/>
<line x1="39.10" y1="256.90" x2="39.10" y2="259.90" stroke="#1a1a1a" stroke-width="1"/>
<line x1="50.20" y1="254.90" x2="50.20" y2="259.90" stroke="#1a1a1a" stroke-width="1"/>
<line x1="61.30" y1="256.90" x2="61.30" y2="259.90" stroke="#1a1a1a" stroke-width="1"/>
<line x1="72.40" y1="254.90" x2="72.40" y2="259.90" stroke="#1a1a1a" stroke-width="1"/>
<line x1="83.50" y1="256.90" x2="83.50" y2="259.90" stroke="#1a1a1a" stroke-width="1"/>
<line x1="94.60" y1="254.90" x2="94.60" y2="259.90" stroke="#1a1a1a" stroke-width="1"/>
<line x1="105.70" y1="256.90" x2="105.70" y2="259.90" stroke="#1a1a1a" stroke-width="1"/>
<text x="28.00" y="250.50" font-size="9.30" fill="#0808ff" stroke="#0808ff" text-anchor="middle">−1.5</text>
<text x="50.20" y="250.50" font-size="9.30" fill="#0808ff" stroke="#0808ff" text-anchor="middle">−1.0</text>
<text x="72.40" y="250.50" font-size="9.30" fill="#0808ff" stroke="#0808ff" text-anchor="middle">−0.5</text>
<text x="94.60" y="250.50" font-size="9.30" fill="#0808ff" stroke="#0808ff" text-anchor="middle">0.0</text>
<line x1="28.40" y1="415.20" x2="28.40" y2="420.50" stroke="#1a1a1a" stroke-width="1"/>
<line x1="41.50" y1="415.20" x2="41.50" y2="419.10" stroke="#1a1a1a" stroke-width="1"/>
<line x1="54.60" y1="415.20" x2="54.60" y2="419.10" stroke="#1a1a1a" stroke-width="1"/>
<line x1="67.70" y1="415.20" x2="67.70" y2="420.50" stroke="#1a1a1a" stroke-width="1"/>
<line x1="80.80" y1="415.20" x2="80.80" y2="419.10" stroke="#1a1a1a" stroke-width="1"/>
<line x1="93.90" y1="415.20" x2="93.90" y2="419.10" stroke="#1a1a1a" stroke-width="1"/>
<line x1="107.00" y1="415.20" x2="107.00" y2="420.50" stroke="#1a1a1a" stroke-width="1"/>
<text x="28.40" y="429.50" font-size="9.30" fill="#ff0a0a" stroke="#ff0a0a" text-anchor="middle">−0.03</text>
<text x="67.70" y="429.50" font-size="9.30" fill="#ff0a0a" stroke="#ff0a0a" text-anchor="middle">0.00</text>
<text x="107.00" y="429.50" font-size="9.30" fill="#ff0a0a" stroke="#ff0a0a" text-anchor="middle">0.03</text>
<text x="67.50" y="444.70" font-size="12.00" fill="#ff0a0a" stroke="#ff0a0a" text-anchor="middle">Current (mA)</text>
<text x="3.65" y="238.80" font-size="11.70" fill="#0808ff" stroke="#0808ff" text-anchor="start">Potential vs. Ag wire (V)</text>
<text transform="translate(8.80 337.85) rotate(-90)" font-size="12.00" text-anchor="middle" fill="#000" stroke="#000">Time (h)</text>
<text x="3.80" y="258.70" font-size="16.00" fill="#000" stroke="#000" text-anchor="start" font-weight="bold">c</text>
<path d="M68.10 414.90 C66.53 414.68 61.83 414.28 58.70 413.60 C55.57 412.92 52.10 411.90 49.30 410.80 C46.50 409.70 44.08 408.57 41.90 407.00 C39.72 405.43 37.45 402.95 36.20 401.40 C34.95 399.85 35.10 398.85 34.40 397.70 C33.70 396.55 32.40 395.03 32.00 394.50" fill="none" stroke="#ff0a0a" stroke-width="1.9" stroke-linejoin="round" stroke-linecap="round"/>
<path d="M32.00 394.50 C35.52 394.25 46.47 394.03 53.10 393.00 C59.73 391.97 66.82 389.87 71.80 388.30 C76.78 386.73 79.88 385.47 83.00 383.60 C86.12 381.73 88.30 379.28 90.50 377.10 C92.70 374.92 94.17 372.07 96.20 370.50 C98.23 368.93 101.62 368.17 102.70 367.70" fill="none" stroke="#ff0a0a" stroke-width="1.9" stroke-linejoin="round" stroke-linecap="round"/>
<path d="M102.70 367.70 C101.92 367.70 101.58 368.02 98.00 367.70 C94.42 367.38 86.18 366.58 81.20 365.80 C76.22 365.02 72.47 364.25 68.10 363.00 C63.73 361.75 58.75 359.85 55.00 358.30 C51.25 356.75 48.10 355.25 45.60 353.70 C43.10 352.15 41.57 350.72 40.00 349.00 C38.43 347.28 36.95 344.75 36.20 343.40 C35.45 342.05 35.62 341.32 35.50 340.90" fill="none" stroke="#ff0a0a" stroke-width="1.9" stroke-linejoin="round" stroke-linecap="round"/>
<path d="M35.50 340.90 C36.87 340.63 40.77 339.75 43.70 339.30 C46.63 338.85 49.03 338.82 53.10 338.20 C57.17 337.58 63.42 336.82 68.10 335.60 C72.78 334.38 77.77 332.47 81.20 330.90 C84.63 329.33 86.52 328.07 88.70 326.20 C90.88 324.33 92.75 321.40 94.30 319.70 C95.85 318.00 96.60 316.95 98.00 316.00 C99.40 315.05 101.92 314.33 102.70 314.00" fill="none" stroke="#ff0a0a" stroke-width="1.9" stroke-linejoin="round" stroke-linecap="round"/>
<path d="M102.70 314.00 C102.23 313.85 103.48 313.50 99.90 313.10 C96.32 312.70 86.82 312.22 81.20 311.60 C75.58 310.98 70.57 310.40 66.20 309.40 C61.83 308.40 57.65 306.70 55.00 305.60 C52.35 304.50 50.30 303.57 50.30 302.80 C50.30 302.03 55.17 301.15 55.00 301.00 C54.83 300.85 50.55 302.07 49.30 301.90 C48.05 301.73 48.43 301.10 47.50 300.00 C46.57 298.90 44.80 296.87 43.70 295.30 C42.60 293.73 41.68 292.00 40.90 290.60 C40.12 289.20 39.32 287.52 39.00 286.90" fill="none" stroke="#ff0a0a" stroke-width="1.9" stroke-linejoin="round" stroke-linecap="round"/>
<path d="M39.00 286.90 C39.17 286.80 37.65 286.77 40.00 286.30 C42.35 285.83 48.42 285.10 53.10 284.10 C57.78 283.10 63.73 281.87 68.10 280.30 C72.47 278.73 76.18 276.88 79.30 274.70 C82.42 272.52 84.45 269.67 86.80 267.20 C89.15 264.73 92.30 261.12 93.40 259.90" fill="none" stroke="#ff0a0a" stroke-width="1.9" stroke-linejoin="round" stroke-linecap="round"/>
<polyline points="87.50,415.30 31.00,394.50 103.50,367.60 31.80,340.80 103.90,313.90 31.60,286.80 104.40,259.90" fill="none" stroke="#0808ff" stroke-width="1.9" stroke-linejoin="miter"/>
<line x1="28.00" y1="309.50" x2="240.50" y2="309.50" stroke="#222" stroke-width="1.6" stroke-dasharray="5.5 6.17"/>
<line x1="28.00" y1="334.40" x2="240.50" y2="334.40" stroke="#222" stroke-width="1.6" stroke-dasharray="5.5 6.17"/>
<rect x="403.50" y="259.90" width="123.00" height="155.10" fill="none" stroke="#1a1a1a" stroke-width="1.1"/>
<line x1="403.50" y1="415.00" x2="403.50" y2="418.90" stroke="#1a1a1a" stroke-width="1"/>
<line x1="418.88" y1="415.00" x2="418.88" y2="420.30" stroke="#1a1a1a" stroke-width="1"/>
<text x="418.88" y="429.30" font-size="9.30" fill="#000" stroke="#000" text-anchor="middle">15</text>
<line x1="434.25" y1="415.00" x2="434.25" y2="418.90" stroke="#1a1a1a" stroke-width="1"/>
<line x1="449.62" y1="415.00" x2="449.62" y2="420.30" stroke="#1a1a1a" stroke-width="1"/>
<text x="449.62" y="429.30" font-size="9.30" fill="#000" stroke="#000" text-anchor="middle">17</text>
<line x1="465.00" y1="415.00" x2="465.00" y2="418.90" stroke="#1a1a1a" stroke-width="1"/>
<line x1="480.38" y1="415.00" x2="480.38" y2="420.30" stroke="#1a1a1a" stroke-width="1"/>
<text x="480.38" y="429.30" font-size="9.30" fill="#000" stroke="#000" text-anchor="middle">19</text>
<line x1="495.75" y1="415.00" x2="495.75" y2="418.90" stroke="#1a1a1a" stroke-width="1"/>
<line x1="511.12" y1="415.00" x2="511.12" y2="420.30" stroke="#1a1a1a" stroke-width="1"/>
<text x="511.12" y="429.30" font-size="9.30" fill="#000" stroke="#000" text-anchor="middle">21</text>
<line x1="526.50" y1="415.00" x2="526.50" y2="418.90" stroke="#1a1a1a" stroke-width="1"/>
<text x="465.50" y="444.50" font-size="12.00" fill="#000" stroke="#000" text-anchor="middle">d-spacing (Å)</text>
<rect x="314.60" y="259.90" width="79.10" height="155.30" fill="none" stroke="#1a1a1a" stroke-width="1.1"/>
<line x1="311.10" y1="398.62" x2="314.60" y2="398.62" stroke="#1a1a1a" stroke-width="1"/>
<line x1="309.60" y1="381.95" x2="314.60" y2="381.95" stroke="#1a1a1a" stroke-width="1"/>
<text x="307.30" y="385.25" font-size="9.30" fill="#000" stroke="#000" text-anchor="end">1</text>
<line x1="311.10" y1="365.27" x2="314.60" y2="365.27" stroke="#1a1a1a" stroke-width="1"/>
<line x1="309.60" y1="348.60" x2="314.60" y2="348.60" stroke="#1a1a1a" stroke-width="1"/>
<text x="307.30" y="351.90" font-size="9.30" fill="#000" stroke="#000" text-anchor="end">2</text>
<line x1="311.10" y1="331.93" x2="314.60" y2="331.93" stroke="#1a1a1a" stroke-width="1"/>
<line x1="309.60" y1="315.25" x2="314.60" y2="315.25" stroke="#1a1a1a" stroke-width="1"/>
<text x="307.30" y="318.55" font-size="9.30" fill="#000" stroke="#000" text-anchor="end">3</text>
<line x1="311.10" y1="298.57" x2="314.60" y2="298.57" stroke="#1a1a1a" stroke-width="1"/>
<line x1="309.60" y1="281.90" x2="314.60" y2="281.90" stroke="#1a1a1a" stroke-width="1"/>
<text x="307.30" y="285.20" font-size="9.30" fill="#000" stroke="#000" text-anchor="end">4</text>
<line x1="311.10" y1="265.23" x2="314.60" y2="265.23" stroke="#1a1a1a" stroke-width="1"/>
<line x1="316.35" y1="254.90" x2="316.35" y2="259.90" stroke="#1a1a1a" stroke-width="1"/>
<line x1="329.23" y1="256.90" x2="329.23" y2="259.90" stroke="#1a1a1a" stroke-width="1"/>
<line x1="342.10" y1="254.90" x2="342.10" y2="259.90" stroke="#1a1a1a" stroke-width="1"/>
<line x1="354.98" y1="256.90" x2="354.98" y2="259.90" stroke="#1a1a1a" stroke-width="1"/>
<line x1="367.85" y1="254.90" x2="367.85" y2="259.90" stroke="#1a1a1a" stroke-width="1"/>
<line x1="380.73" y1="256.90" x2="380.73" y2="259.90" stroke="#1a1a1a" stroke-width="1"/>
<line x1="393.60" y1="254.90" x2="393.60" y2="259.90" stroke="#1a1a1a" stroke-width="1"/>
<text x="316.35" y="250.50" font-size="9.30" fill="#0808ff" stroke="#0808ff" text-anchor="middle">−1.5</text>
<text x="342.10" y="250.50" font-size="9.30" fill="#0808ff" stroke="#0808ff" text-anchor="middle">−1.0</text>
<text x="367.85" y="250.50" font-size="9.30" fill="#0808ff" stroke="#0808ff" text-anchor="middle">−0.5</text>
<text x="393.60" y="250.50" font-size="9.30" fill="#0808ff" stroke="#0808ff" text-anchor="middle">0.0</text>
<line x1="316.60" y1="415.20" x2="316.60" y2="419.10" stroke="#1a1a1a" stroke-width="1"/>
<line x1="324.60" y1="415.20" x2="324.60" y2="420.50" stroke="#1a1a1a" stroke-width="1"/>
<line x1="332.60" y1="415.20" x2="332.60" y2="419.10" stroke="#1a1a1a" stroke-width="1"/>
<line x1="340.60" y1="415.20" x2="340.60" y2="419.10" stroke="#1a1a1a" stroke-width="1"/>
<line x1="348.60" y1="415.20" x2="348.60" y2="419.10" stroke="#1a1a1a" stroke-width="1"/>
<line x1="356.60" y1="415.20" x2="356.60" y2="420.50" stroke="#1a1a1a" stroke-width="1"/>
<line x1="364.60" y1="415.20" x2="364.60" y2="419.10" stroke="#1a1a1a" stroke-width="1"/>
<line x1="372.60" y1="415.20" x2="372.60" y2="419.10" stroke="#1a1a1a" stroke-width="1"/>
<line x1="380.60" y1="415.20" x2="380.60" y2="419.10" stroke="#1a1a1a" stroke-width="1"/>
<line x1="388.60" y1="415.20" x2="388.60" y2="420.50" stroke="#1a1a1a" stroke-width="1"/>
<text x="324.60" y="429.50" font-size="9.30" fill="#ff0a0a" stroke="#ff0a0a" text-anchor="middle">−0.04</text>
<text x="356.60" y="429.50" font-size="9.30" fill="#ff0a0a" stroke="#ff0a0a" text-anchor="middle">0.00</text>
<text x="388.60" y="429.50" font-size="9.30" fill="#ff0a0a" stroke="#ff0a0a" text-anchor="middle">0.04</text>
<text x="354.45" y="444.70" font-size="12.00" fill="#ff0a0a" stroke="#ff0a0a" text-anchor="middle">Current (mA)</text>
<text x="289.90" y="238.80" font-size="11.70" fill="#0808ff" stroke="#0808ff" text-anchor="start">Potential vs. Ag wire (V)</text>
<text transform="translate(295.90 337.85) rotate(-90)" font-size="12.00" text-anchor="middle" fill="#000" stroke="#000">Time (h)</text>
<text x="289.00" y="258.70" font-size="16.00" fill="#000" stroke="#000" text-anchor="start" font-weight="bold">d</text>
<path d="M355.00 415.20 C353.33 414.67 347.67 413.37 345.00 412.00 C342.33 410.63 340.33 409.17 339.00 407.00 C337.67 404.83 338.00 401.17 337.00 399.00 C336.00 396.83 336.17 395.58 333.00 394.00 C329.83 392.42 320.50 390.25 318.00 389.50" fill="none" stroke="#ff0a0a" stroke-width="1.9" stroke-linejoin="round" stroke-linecap="round"/>
<path d="M318.00 389.50 C319.17 389.42 320.50 389.58 325.00 389.00 C329.50 388.42 339.00 387.67 345.00 386.00 C351.00 384.33 356.67 381.50 361.00 379.00 C365.33 376.50 368.17 373.00 371.00 371.00 C373.83 369.00 376.58 368.15 378.00 367.00 C379.42 365.85 379.25 364.58 379.50 364.10" fill="none" stroke="#ff0a0a" stroke-width="1.9" stroke-linejoin="round" stroke-linecap="round"/>
<path d="M379.50 364.10 C379.42 364.08 381.42 364.35 379.00 364.00 C376.58 363.65 369.67 362.67 365.00 362.00 C360.33 361.33 354.33 361.00 351.00 360.00 C347.67 359.00 347.00 358.00 345.00 356.00 C343.00 354.00 341.33 350.33 339.00 348.00 C336.67 345.67 334.50 343.70 331.00 342.00 C327.50 340.30 320.17 338.50 318.00 337.80" fill="none" stroke="#ff0a0a" stroke-width="1.9" stroke-linejoin="round" stroke-linecap="round"/>
<path d="M318.00 337.80 C318.70 337.80 318.68 338.17 322.20 337.80 C325.72 337.43 333.17 336.75 339.10 335.60 C345.03 334.45 353.12 332.62 357.80 330.90 C362.48 329.18 365.02 327.17 367.20 325.30 C369.38 323.43 369.03 321.42 370.90 319.70 C372.77 317.98 375.12 316.00 378.40 315.00 C381.68 314.00 388.57 313.92 390.60 313.70" fill="none" stroke="#ff0a0a" stroke-width="1.9" stroke-linejoin="round" stroke-linecap="round"/>
<path d="M390.60 313.70 C389.82 313.38 389.80 312.27 385.90 311.80 C382.00 311.33 372.50 311.47 367.20 310.90 C361.90 310.33 357.53 309.58 354.10 308.40 C350.67 307.22 348.78 305.35 346.60 303.80 C344.42 302.25 343.18 300.82 341.00 299.10 C338.82 297.38 336.00 295.22 333.50 293.50 C331.00 291.78 328.65 290.12 326.00 288.80 C323.35 287.48 319.00 286.13 317.60 285.60" fill="none" stroke="#ff0a0a" stroke-width="1.9" stroke-linejoin="round" stroke-linecap="round"/>
<path d="M317.60 285.60 C319.62 285.50 324.55 285.40 329.70 285.00 C334.85 284.60 343.18 284.28 348.50 283.20 C353.82 282.12 358.48 280.22 361.60 278.50 C364.72 276.78 365.65 274.62 367.20 272.90 C368.75 271.18 369.65 269.45 370.90 268.20 C372.15 266.95 371.88 266.25 374.70 265.40 C377.52 264.55 385.30 263.73 387.80 263.10 C390.30 262.47 389.38 261.85 389.70 261.60" fill="none" stroke="#ff0a0a" stroke-width="1.9" stroke-linejoin="round" stroke-linecap="round"/>
<polyline points="387.20,415.30 318.00,389.50 388.60,364.10 317.80,337.80 388.70,312.00 317.60,285.60 388.00,260.10" fill="none" stroke="#0808ff" stroke-width="1.9" stroke-linejoin="miter"/>
<line x1="315.10" y1="301.10" x2="526.50" y2="301.10" stroke="#222" stroke-width="1.6" stroke-dasharray="5.5 6.17"/>
<line x1="315.10" y1="329.60" x2="526.50" y2="329.60" stroke="#222" stroke-width="1.6" stroke-dasharray="5.5 6.17"/>
<text x="147.6" y="15.7" font-size="11.70" fill="#000" stroke="#000">LiTFSI-H<tspan font-size="8" dy="2.6">2</tspan><tspan dy="-2.6">O</tspan></text>
<text x="430.60" y="16.80" font-size="11.70" fill="#000" stroke="#000" text-anchor="start">7:3 PEG-400</text>
<text x="143.70" y="246.00" font-size="11.70" fill="#000" stroke="#000" text-anchor="start">8:2 PEG-400</text>
<text x="427.20" y="246.00" font-size="11.70" fill="#000" stroke="#000" text-anchor="start">7:3 PEG-8000</text>
<rect x="549.6" y="145.8" width="8.4" height="155.8" fill="url(#cb)" stroke="#222" stroke-width="1.1"/>
<line x1="556.5" y1="158.60" x2="558" y2="158.60" stroke="#222" stroke-width="0.8"/>
<line x1="556.5" y1="174.90" x2="558" y2="174.90" stroke="#222" stroke-width="0.8"/>
<line x1="556.5" y1="191.20" x2="558" y2="191.20" stroke="#222" stroke-width="0.8"/>
<line x1="556.5" y1="207.50" x2="558" y2="207.50" stroke="#222" stroke-width="0.8"/>
<line x1="556.5" y1="223.80" x2="558" y2="223.80" stroke="#222" stroke-width="0.8"/>
<line x1="556.5" y1="240.10" x2="558" y2="240.10" stroke="#222" stroke-width="0.8"/>
<line x1="556.5" y1="256.40" x2="558" y2="256.40" stroke="#222" stroke-width="0.8"/>
<line x1="556.5" y1="272.70" x2="558" y2="272.70" stroke="#222" stroke-width="0.8"/>
<line x1="556.5" y1="289.00" x2="558" y2="289.00" stroke="#222" stroke-width="0.8"/>
<text transform="translate(570.6 260.6) rotate(-90)" font-size="11.90" fill="#000" stroke="#000">Peak intensity</text>
<line x1="568.7" y1="183.2" x2="568.7" y2="155" stroke="#000" stroke-width="1"/>
<polyline points="565.8,157.6 568.7,154.4 571.6,157.6" fill="none" stroke="#000" stroke-width="1"/>
</svg></div></body></html>
